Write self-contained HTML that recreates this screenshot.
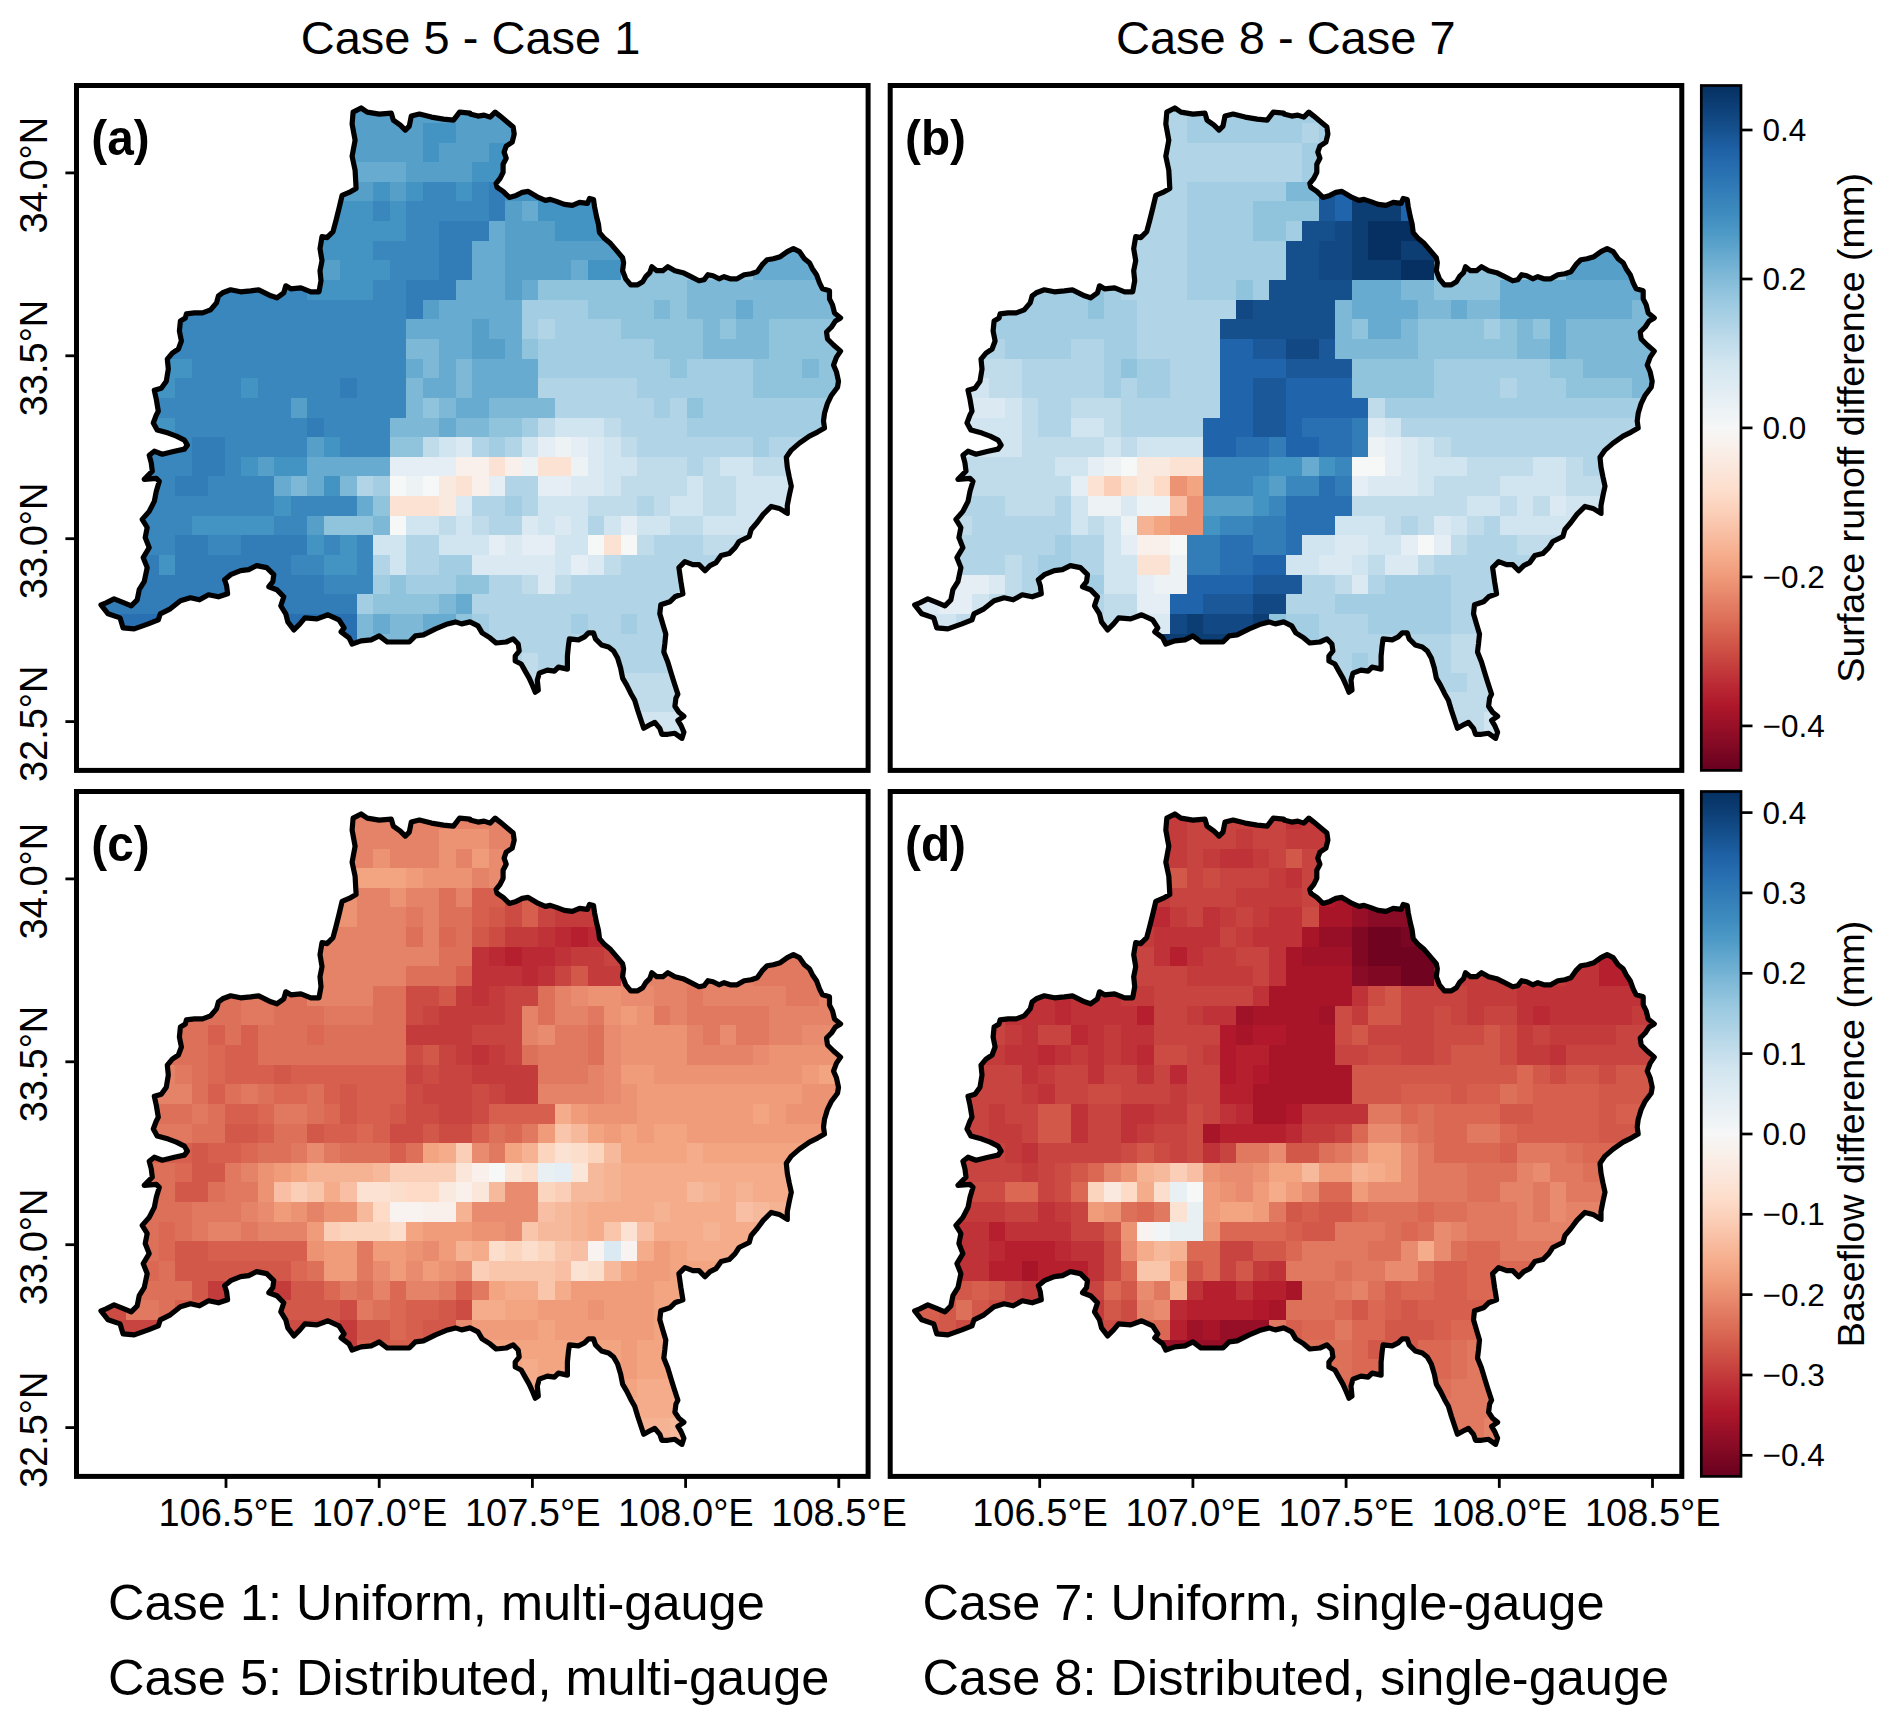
<!DOCTYPE html>
<html><head><meta charset="utf-8"><title>Figure</title>
<style>html,body{margin:0;padding:0;background:#fff}svg{display:block}text{font-family:"Liberation Sans",Arial,Helvetica,sans-serif;fill:#000}</style></head><body>
<svg width="1892" height="1725" viewBox="0 0 1892 1725">
<rect width="1892" height="1725" fill="#fff"/>
<defs><path id="basin" d="M353.1 112.1 L361.1 108.0 L367.2 112.1 L379.2 114.1 L391.3 113.1 L393.3 120.1 L400.3 125.1 L405.3 130.1 L409.3 126.1 L411.3 116.1 L419.4 114.1 L431.4 117.1 L443.5 119.1 L453.5 120.1 L459.6 112.1 L470.0 113.1 L470.0 114.1 L478.0 116.1 L484.1 115.1 L490.1 117.1 L495.1 112.1 L500.1 116.1 L507.2 122.1 L513.2 127.1 L514.2 134.1 L512.2 142.2 L506.2 146.2 L504.1 152.2 L506.2 158.2 L503.1 164.3 L503.1 172.3 L500.1 178.3 L496.1 183.4 L497.1 187.4 L503.1 191.4 L509.2 197.4 L516.2 195.4 L522.2 192.4 L528.2 191.4 L533.3 194.4 L538.3 197.4 L545.3 200.4 L550.3 199.4 L556.4 201.4 L564.4 204.4 L572.4 205.4 L579.5 202.4 L587.5 203.4 L589.5 198.4 L593.5 199.4 L594.5 206.4 L596.5 216.5 L598.5 224.5 L599.5 232.6 L604.6 238.6 L610.6 243.6 L616.6 250.6 L622.6 257.7 L623.6 262.7 L622.6 270.7 L625.7 278.8 L630.7 284.8 L637.7 284.8 L642.7 281.8 L645.7 276.7 L649.8 272.7 L651.8 266.7 L656.8 270.7 L662.8 270.7 L667.8 266.7 L674.9 270.7 L682.9 272.7 L690.9 276.7 L699.0 280.8 L704.0 279.8 L708.0 274.7 L713.0 275.7 L719.0 278.8 L724.1 276.7 L730.1 278.8 L737.1 278.8 L744.2 274.7 L751.2 273.7 L757.2 271.7 L762.2 264.7 L767.2 259.7 L773.3 258.7 L780.3 256.7 L787.3 251.6 L793.4 248.6 L799.4 251.6 L804.4 258.7 L809.4 262.7 L812.4 268.7 L816.5 274.7 L819.5 282.8 L822.5 288.8 L829.5 290.8 L829.5 298.8 L832.5 304.9 L834.5 312.9 L840.6 317.9 L835.5 320.9 L831.5 327.0 L826.5 332.0 L827.5 339.0 L833.5 345.0 L840.6 351.1 L836.5 357.1 L833.5 365.1 L836.5 372.1 L838.5 381.2 L837.5 387.2 L831.5 395.2 L827.5 403.3 L824.5 413.3 L823.5 421.0 L824.5 428.1 L817.5 432.1 L809.4 436.1 L799.4 443.1 L791.3 450.1 L786.3 457.2 L787.3 467.2 L789.3 477.3 L791.3 486.3 L789.3 495.3 L787.3 505.4 L787.3 513.4 L779.3 508.4 L771.3 506.4 L763.2 514.4 L757.2 522.5 L751.2 529.5 L749.2 536.5 L739.1 541.5 L735.1 547.6 L729.1 553.6 L721.1 555.6 L716.0 562.6 L710.0 565.6 L705.0 570.7 L699.0 564.6 L692.9 564.6 L684.9 561.6 L678.9 567.6 L680.9 581.7 L682.9 593.8 L674.9 596.8 L669.8 601.8 L660.8 604.8 L659.8 613.8 L662.8 623.9 L665.8 633.9 L664.8 644.0 L663.8 652.0 L667.8 662.0 L670.8 672.1 L673.9 682.1 L677.9 694.2 L675.9 698.2 L674.9 706.2 L678.9 712.2 L683.9 716.3 L677.9 720.3 L680.9 725.3 L683.9 732.3 L681.9 738.4 L674.9 733.3 L667.8 734.3 L661.8 734.3 L659.8 728.3 L654.8 722.3 L650.8 724.3 L643.7 728.3 L641.7 722.3 L637.7 710.2 L634.7 700.2 L630.7 693.2 L626.7 685.1 L622.6 678.1 L620.6 668.1 L617.6 658.0 L613.6 651.0 L608.6 647.0 L601.6 645.0 L595.5 638.9 L593.5 632.9 L588.5 632.9 L584.5 636.9 L578.5 639.9 L569.4 638.9 L568.4 646.0 L567.4 656.0 L567.4 669.1 L558.4 667.1 L554.4 671.1 L547.3 670.1 L539.3 673.1 L537.3 680.1 L538.3 690.2 L535.3 692.2 L532.3 685.1 L529.2 678.1 L525.2 671.1 L521.2 664.0 L515.2 661.0 L515.2 656.0 L519.2 651.0 L518.2 644.0 L513.2 638.9 L506.2 642.0 L496.1 643.0 L490.1 637.9 L482.1 632.9 L478.0 625.9 L470.0 621.9 L461.6 623.9 L455.5 621.9 L447.5 623.9 L435.5 628.9 L423.4 634.9 L415.4 635.9 L409.3 642.0 L399.3 642.0 L387.2 642.0 L379.2 635.9 L371.2 639.9 L361.1 640.9 L352.1 644.0 L349.1 637.9 L341.1 631.9 L344.1 627.9 L339.0 619.9 L328.0 614.8 L317.0 618.9 L304.9 617.9 L299.9 623.9 L293.9 629.9 L287.8 621.9 L285.8 613.8 L280.8 605.8 L283.8 596.8 L276.8 589.7 L268.8 586.7 L272.8 581.7 L273.8 574.7 L266.7 567.6 L256.7 565.6 L248.7 569.6 L240.6 570.7 L230.6 574.7 L224.6 579.7 L226.6 585.7 L227.6 593.8 L218.5 596.8 L208.5 594.8 L199.5 599.8 L190.4 597.8 L180.4 600.8 L170.3 608.8 L160.3 613.8 L158.3 619.9 L148.2 623.9 L134.2 628.9 L123.1 627.9 L120.1 617.9 L108.1 613.8 L101.0 604.8 L106.1 602.8 L114.1 598.8 L124.1 602.8 L131.2 605.8 L137.2 599.8 L139.2 589.7 L144.2 581.7 L147.2 567.6 L143.2 557.6 L149.2 547.6 L145.2 537.5 L147.2 527.5 L142.2 519.4 L149.2 511.4 L154.3 501.4 L156.3 491.3 L159.3 481.3 L156.3 478.3 L144.2 479.3 L152.3 471.2 L151.3 463.2 L149.2 455.2 L154.3 451.2 L162.3 454.2 L174.4 451.2 L184.4 449.1 L187.4 445.1 L184.4 440.1 L176.4 436.1 L168.3 433.1 L157.3 430.1 L153.3 423.0 L156.3 415.0 L158.3 411.3 L156.3 399.3 L154.3 390.2 L161.3 388.2 L166.3 381.2 L168.3 369.1 L167.3 359.1 L172.3 353.1 L178.4 349.0 L181.4 341.0 L179.4 331.0 L180.4 320.9 L185.4 317.9 L186.4 313.9 L194.4 312.9 L202.5 312.9 L210.5 309.9 L216.5 302.9 L218.5 295.8 L222.6 292.8 L230.6 289.8 L240.6 291.8 L250.7 290.8 L258.7 289.8 L270.8 295.8 L276.8 297.8 L283.8 292.8 L285.8 285.8 L290.8 288.8 L300.9 287.8 L310.9 291.8 L319.0 291.8 L321.0 280.8 L320.0 270.7 L322.0 260.7 L320.0 248.6 L322.0 236.6 L327.0 237.6 L333.0 231.6 L336.0 220.5 L339.0 208.5 L342.1 195.4 L349.1 192.4 L356.1 188.4 L355.1 170.3 L352.1 156.2 L355.1 140.2 L352.1 124.1 Z"/><clipPath id="clip"><use href="#basin"/></clipPath><linearGradient id="cb" x1="0" y1="0" x2="0" y2="1"><stop offset="0.0000" stop-color="#053061"/><stop offset="0.0312" stop-color="#0d3f76"/><stop offset="0.0625" stop-color="#15508d"/><stop offset="0.0938" stop-color="#1e61a5"/><stop offset="0.1250" stop-color="#2870b1"/><stop offset="0.1562" stop-color="#337eb8"/><stop offset="0.1875" stop-color="#3e8cbf"/><stop offset="0.2188" stop-color="#4f9bc7"/><stop offset="0.2500" stop-color="#68abd0"/><stop offset="0.2812" stop-color="#81bad8"/><stop offset="0.3125" stop-color="#98c8e0"/><stop offset="0.3438" stop-color="#acd2e5"/><stop offset="0.3750" stop-color="#c0dceb"/><stop offset="0.4062" stop-color="#d2e6f0"/><stop offset="0.4375" stop-color="#deebf2"/><stop offset="0.4688" stop-color="#eaf1f5"/><stop offset="0.5000" stop-color="#f6f7f7"/><stop offset="0.5312" stop-color="#f9efe9"/><stop offset="0.5625" stop-color="#fbe6da"/><stop offset="0.5938" stop-color="#fdddcb"/><stop offset="0.6250" stop-color="#fbceb7"/><stop offset="0.6562" stop-color="#f8bda1"/><stop offset="0.6875" stop-color="#f5ac8b"/><stop offset="0.7188" stop-color="#ef9979"/><stop offset="0.7500" stop-color="#e58368"/><stop offset="0.7812" stop-color="#dc6e57"/><stop offset="0.8125" stop-color="#d25849"/><stop offset="0.8438" stop-color="#c6413e"/><stop offset="0.8750" stop-color="#bb2a34"/><stop offset="0.9062" stop-color="#ae172a"/><stop offset="0.9375" stop-color="#960f27"/><stop offset="0.9688" stop-color="#7f0823"/><stop offset="1.0000" stop-color="#67001f"/></linearGradient></defs>
<g transform="translate(0.0 0.0)">
<g clip-path="url(#clip)" shape-rendering="crispEdges">
<rect x="92.5" y="103.2" width="495.6" height="20.2" fill="#569fc9"/>
<rect x="587.5" y="103.2" width="83.1" height="20.2" fill="#4393c3"/>
<rect x="670.0" y="103.2" width="83.1" height="20.2" fill="#90c4dd"/>
<rect x="752.5" y="103.2" width="99.6" height="20.2" fill="#68abd0"/>
<rect x="92.5" y="122.9" width="99.6" height="20.2" fill="#3a87bd"/>
<rect x="191.5" y="122.9" width="231.6" height="20.2" fill="#569fc9"/>
<rect x="422.5" y="122.9" width="33.6" height="20.2" fill="#4393c3"/>
<rect x="455.5" y="122.9" width="116.1" height="20.2" fill="#569fc9"/>
<rect x="571.0" y="122.9" width="99.6" height="20.2" fill="#4393c3"/>
<rect x="670.0" y="122.9" width="83.1" height="20.2" fill="#90c4dd"/>
<rect x="752.5" y="122.9" width="99.6" height="20.2" fill="#68abd0"/>
<rect x="92.5" y="142.5" width="132.6" height="20.2" fill="#3a87bd"/>
<rect x="224.5" y="142.5" width="198.6" height="20.2" fill="#569fc9"/>
<rect x="422.5" y="142.5" width="17.1" height="20.2" fill="#4393c3"/>
<rect x="439.0" y="142.5" width="50.1" height="20.2" fill="#569fc9"/>
<rect x="488.5" y="142.5" width="182.1" height="20.2" fill="#4393c3"/>
<rect x="670.0" y="142.5" width="83.1" height="20.2" fill="#90c4dd"/>
<rect x="752.5" y="142.5" width="99.6" height="20.2" fill="#68abd0"/>
<rect x="92.5" y="162.1" width="149.1" height="20.2" fill="#3a87bd"/>
<rect x="241.0" y="162.1" width="165.6" height="20.2" fill="#68abd0"/>
<rect x="406.0" y="162.1" width="66.6" height="20.2" fill="#569fc9"/>
<rect x="472.0" y="162.1" width="198.6" height="20.2" fill="#4393c3"/>
<rect x="670.0" y="162.1" width="83.1" height="20.2" fill="#90c4dd"/>
<rect x="752.5" y="162.1" width="99.6" height="20.2" fill="#68abd0"/>
<rect x="92.5" y="181.8" width="149.1" height="20.2" fill="#3a87bd"/>
<rect x="241.0" y="181.8" width="132.6" height="20.2" fill="#569fc9"/>
<rect x="373.0" y="181.8" width="17.1" height="20.2" fill="#4393c3"/>
<rect x="389.5" y="181.8" width="17.1" height="20.2" fill="#569fc9"/>
<rect x="406.0" y="181.8" width="17.1" height="20.2" fill="#4393c3"/>
<rect x="422.5" y="181.8" width="33.6" height="20.2" fill="#3a87bd"/>
<rect x="455.5" y="181.8" width="17.1" height="20.2" fill="#4393c3"/>
<rect x="472.0" y="181.8" width="17.1" height="20.2" fill="#3a87bd"/>
<rect x="488.5" y="181.8" width="17.1" height="20.2" fill="#327cb7"/>
<rect x="505.0" y="181.8" width="165.6" height="20.2" fill="#4393c3"/>
<rect x="670.0" y="181.8" width="83.1" height="20.2" fill="#90c4dd"/>
<rect x="752.5" y="181.8" width="99.6" height="20.2" fill="#68abd0"/>
<rect x="92.5" y="201.4" width="165.6" height="20.2" fill="#3a87bd"/>
<rect x="257.5" y="201.4" width="116.1" height="20.2" fill="#4393c3"/>
<rect x="373.0" y="201.4" width="17.1" height="20.2" fill="#3a87bd"/>
<rect x="389.5" y="201.4" width="17.1" height="20.2" fill="#4393c3"/>
<rect x="406.0" y="201.4" width="83.1" height="20.2" fill="#3a87bd"/>
<rect x="488.5" y="201.4" width="17.1" height="20.2" fill="#327cb7"/>
<rect x="505.0" y="201.4" width="17.1" height="20.2" fill="#569fc9"/>
<rect x="521.5" y="201.4" width="17.1" height="20.2" fill="#68abd0"/>
<rect x="538.0" y="201.4" width="116.1" height="20.2" fill="#4393c3"/>
<rect x="653.5" y="201.4" width="99.6" height="20.2" fill="#90c4dd"/>
<rect x="752.5" y="201.4" width="99.6" height="20.2" fill="#68abd0"/>
<rect x="92.5" y="221.1" width="165.6" height="20.2" fill="#3a87bd"/>
<rect x="257.5" y="221.1" width="149.1" height="20.2" fill="#4393c3"/>
<rect x="406.0" y="221.1" width="33.6" height="20.2" fill="#3a87bd"/>
<rect x="439.0" y="221.1" width="50.1" height="20.2" fill="#327cb7"/>
<rect x="488.5" y="221.1" width="17.1" height="20.2" fill="#68abd0"/>
<rect x="505.0" y="221.1" width="50.1" height="20.2" fill="#569fc9"/>
<rect x="554.5" y="221.1" width="99.6" height="20.2" fill="#4393c3"/>
<rect x="653.5" y="221.1" width="99.6" height="20.2" fill="#90c4dd"/>
<rect x="752.5" y="221.1" width="99.6" height="20.2" fill="#68abd0"/>
<rect x="92.5" y="240.7" width="182.1" height="20.2" fill="#3a87bd"/>
<rect x="274.0" y="240.7" width="99.6" height="20.2" fill="#4393c3"/>
<rect x="373.0" y="240.7" width="66.6" height="20.2" fill="#3a87bd"/>
<rect x="439.0" y="240.7" width="33.6" height="20.2" fill="#327cb7"/>
<rect x="472.0" y="240.7" width="33.6" height="20.2" fill="#68abd0"/>
<rect x="505.0" y="240.7" width="149.1" height="20.2" fill="#569fc9"/>
<rect x="653.5" y="240.7" width="99.6" height="20.2" fill="#90c4dd"/>
<rect x="752.5" y="240.7" width="99.6" height="20.2" fill="#68abd0"/>
<rect x="92.5" y="260.3" width="198.6" height="20.2" fill="#3a87bd"/>
<rect x="290.5" y="260.3" width="50.1" height="20.2" fill="#569fc9"/>
<rect x="340.0" y="260.3" width="50.1" height="20.2" fill="#4393c3"/>
<rect x="389.5" y="260.3" width="50.1" height="20.2" fill="#3a87bd"/>
<rect x="439.0" y="260.3" width="33.6" height="20.2" fill="#327cb7"/>
<rect x="472.0" y="260.3" width="33.6" height="20.2" fill="#68abd0"/>
<rect x="505.0" y="260.3" width="66.6" height="20.2" fill="#569fc9"/>
<rect x="571.0" y="260.3" width="17.1" height="20.2" fill="#68abd0"/>
<rect x="587.5" y="260.3" width="33.6" height="20.2" fill="#4393c3"/>
<rect x="620.5" y="260.3" width="132.6" height="20.2" fill="#90c4dd"/>
<rect x="752.5" y="260.3" width="99.6" height="20.2" fill="#68abd0"/>
<rect x="92.5" y="280.0" width="215.1" height="20.2" fill="#3a87bd"/>
<rect x="307.0" y="280.0" width="66.6" height="20.2" fill="#4393c3"/>
<rect x="373.0" y="280.0" width="33.6" height="20.2" fill="#3a87bd"/>
<rect x="406.0" y="280.0" width="50.1" height="20.2" fill="#327cb7"/>
<rect x="455.5" y="280.0" width="50.1" height="20.2" fill="#68abd0"/>
<rect x="505.0" y="280.0" width="17.1" height="20.2" fill="#569fc9"/>
<rect x="521.5" y="280.0" width="17.1" height="20.2" fill="#68abd0"/>
<rect x="538.0" y="280.0" width="149.1" height="20.2" fill="#90c4dd"/>
<rect x="686.5" y="280.0" width="165.6" height="20.2" fill="#7eb8d7"/>
<rect x="92.5" y="299.6" width="314.1" height="20.2" fill="#3a87bd"/>
<rect x="406.0" y="299.6" width="17.1" height="20.2" fill="#327cb7"/>
<rect x="422.5" y="299.6" width="17.1" height="20.2" fill="#569fc9"/>
<rect x="439.0" y="299.6" width="83.1" height="20.2" fill="#68abd0"/>
<rect x="521.5" y="299.6" width="66.6" height="20.2" fill="#a2cde3"/>
<rect x="587.5" y="299.6" width="66.6" height="20.2" fill="#90c4dd"/>
<rect x="653.5" y="299.6" width="17.1" height="20.2" fill="#7eb8d7"/>
<rect x="670.0" y="299.6" width="17.1" height="20.2" fill="#90c4dd"/>
<rect x="686.5" y="299.6" width="50.1" height="20.2" fill="#7eb8d7"/>
<rect x="736.0" y="299.6" width="17.1" height="20.2" fill="#68abd0"/>
<rect x="752.5" y="299.6" width="83.1" height="20.2" fill="#7eb8d7"/>
<rect x="835.0" y="299.6" width="17.1" height="20.2" fill="#90c4dd"/>
<rect x="92.5" y="319.3" width="314.1" height="20.2" fill="#3a87bd"/>
<rect x="406.0" y="319.3" width="66.6" height="20.2" fill="#68abd0"/>
<rect x="472.0" y="319.3" width="17.1" height="20.2" fill="#569fc9"/>
<rect x="488.5" y="319.3" width="33.6" height="20.2" fill="#68abd0"/>
<rect x="521.5" y="319.3" width="17.1" height="20.2" fill="#a2cde3"/>
<rect x="538.0" y="319.3" width="17.1" height="20.2" fill="#b1d5e7"/>
<rect x="554.5" y="319.3" width="66.6" height="20.2" fill="#a2cde3"/>
<rect x="620.5" y="319.3" width="83.1" height="20.2" fill="#90c4dd"/>
<rect x="703.0" y="319.3" width="17.1" height="20.2" fill="#7eb8d7"/>
<rect x="719.5" y="319.3" width="17.1" height="20.2" fill="#90c4dd"/>
<rect x="736.0" y="319.3" width="33.6" height="20.2" fill="#7eb8d7"/>
<rect x="769.0" y="319.3" width="83.1" height="20.2" fill="#90c4dd"/>
<rect x="92.5" y="338.9" width="314.1" height="20.2" fill="#3a87bd"/>
<rect x="406.0" y="338.9" width="33.6" height="20.2" fill="#7eb8d7"/>
<rect x="439.0" y="338.9" width="33.6" height="20.2" fill="#68abd0"/>
<rect x="472.0" y="338.9" width="33.6" height="20.2" fill="#569fc9"/>
<rect x="505.0" y="338.9" width="17.1" height="20.2" fill="#68abd0"/>
<rect x="521.5" y="338.9" width="17.1" height="20.2" fill="#90c4dd"/>
<rect x="538.0" y="338.9" width="116.1" height="20.2" fill="#a2cde3"/>
<rect x="653.5" y="338.9" width="50.1" height="20.2" fill="#90c4dd"/>
<rect x="703.0" y="338.9" width="66.6" height="20.2" fill="#7eb8d7"/>
<rect x="769.0" y="338.9" width="83.1" height="20.2" fill="#90c4dd"/>
<rect x="92.5" y="358.5" width="99.6" height="20.2" fill="#4393c3"/>
<rect x="191.5" y="358.5" width="215.1" height="20.2" fill="#3a87bd"/>
<rect x="406.0" y="358.5" width="17.1" height="20.2" fill="#68abd0"/>
<rect x="422.5" y="358.5" width="17.1" height="20.2" fill="#7eb8d7"/>
<rect x="439.0" y="358.5" width="17.1" height="20.2" fill="#68abd0"/>
<rect x="455.5" y="358.5" width="17.1" height="20.2" fill="#7eb8d7"/>
<rect x="472.0" y="358.5" width="66.6" height="20.2" fill="#68abd0"/>
<rect x="538.0" y="358.5" width="132.6" height="20.2" fill="#a2cde3"/>
<rect x="670.0" y="358.5" width="17.1" height="20.2" fill="#90c4dd"/>
<rect x="686.5" y="358.5" width="66.6" height="20.2" fill="#a2cde3"/>
<rect x="752.5" y="358.5" width="50.1" height="20.2" fill="#90c4dd"/>
<rect x="802.0" y="358.5" width="17.1" height="20.2" fill="#7eb8d7"/>
<rect x="818.5" y="358.5" width="33.6" height="20.2" fill="#90c4dd"/>
<rect x="92.5" y="378.2" width="83.1" height="20.2" fill="#4393c3"/>
<rect x="175.0" y="378.2" width="66.6" height="20.2" fill="#3a87bd"/>
<rect x="241.0" y="378.2" width="17.1" height="20.2" fill="#4393c3"/>
<rect x="257.5" y="378.2" width="83.1" height="20.2" fill="#3a87bd"/>
<rect x="340.0" y="378.2" width="17.1" height="20.2" fill="#327cb7"/>
<rect x="356.5" y="378.2" width="50.1" height="20.2" fill="#3a87bd"/>
<rect x="406.0" y="378.2" width="17.1" height="20.2" fill="#7eb8d7"/>
<rect x="422.5" y="378.2" width="33.6" height="20.2" fill="#68abd0"/>
<rect x="455.5" y="378.2" width="17.1" height="20.2" fill="#7eb8d7"/>
<rect x="472.0" y="378.2" width="66.6" height="20.2" fill="#68abd0"/>
<rect x="538.0" y="378.2" width="99.6" height="20.2" fill="#b1d5e7"/>
<rect x="637.0" y="378.2" width="116.1" height="20.2" fill="#a2cde3"/>
<rect x="752.5" y="378.2" width="99.6" height="20.2" fill="#90c4dd"/>
<rect x="92.5" y="397.8" width="66.6" height="20.2" fill="#4393c3"/>
<rect x="158.5" y="397.8" width="132.6" height="20.2" fill="#3a87bd"/>
<rect x="290.5" y="397.8" width="17.1" height="20.2" fill="#569fc9"/>
<rect x="307.0" y="397.8" width="99.6" height="20.2" fill="#3a87bd"/>
<rect x="406.0" y="397.8" width="17.1" height="20.2" fill="#7eb8d7"/>
<rect x="422.5" y="397.8" width="17.1" height="20.2" fill="#90c4dd"/>
<rect x="439.0" y="397.8" width="17.1" height="20.2" fill="#7eb8d7"/>
<rect x="455.5" y="397.8" width="33.6" height="20.2" fill="#68abd0"/>
<rect x="488.5" y="397.8" width="66.6" height="20.2" fill="#7eb8d7"/>
<rect x="554.5" y="397.8" width="99.6" height="20.2" fill="#b1d5e7"/>
<rect x="653.5" y="397.8" width="17.1" height="20.2" fill="#a2cde3"/>
<rect x="670.0" y="397.8" width="17.1" height="20.2" fill="#b1d5e7"/>
<rect x="686.5" y="397.8" width="17.1" height="20.2" fill="#90c4dd"/>
<rect x="703.0" y="397.8" width="149.1" height="20.2" fill="#a2cde3"/>
<rect x="92.5" y="417.5" width="83.1" height="20.2" fill="#4393c3"/>
<rect x="175.0" y="417.5" width="132.6" height="20.2" fill="#3a87bd"/>
<rect x="307.0" y="417.5" width="17.1" height="20.2" fill="#327cb7"/>
<rect x="323.5" y="417.5" width="66.6" height="20.2" fill="#3a87bd"/>
<rect x="389.5" y="417.5" width="50.1" height="20.2" fill="#7eb8d7"/>
<rect x="439.0" y="417.5" width="17.1" height="20.2" fill="#68abd0"/>
<rect x="455.5" y="417.5" width="33.6" height="20.2" fill="#7eb8d7"/>
<rect x="488.5" y="417.5" width="33.6" height="20.2" fill="#90c4dd"/>
<rect x="521.5" y="417.5" width="17.1" height="20.2" fill="#a2cde3"/>
<rect x="538.0" y="417.5" width="17.1" height="20.2" fill="#c0dceb"/>
<rect x="554.5" y="417.5" width="50.1" height="20.2" fill="#d1e5f0"/>
<rect x="604.0" y="417.5" width="17.1" height="20.2" fill="#c0dceb"/>
<rect x="620.5" y="417.5" width="66.6" height="20.2" fill="#b1d5e7"/>
<rect x="686.5" y="417.5" width="165.6" height="20.2" fill="#a2cde3"/>
<rect x="92.5" y="437.1" width="99.6" height="20.2" fill="#3a87bd"/>
<rect x="191.5" y="437.1" width="33.6" height="20.2" fill="#327cb7"/>
<rect x="224.5" y="437.1" width="83.1" height="20.2" fill="#3a87bd"/>
<rect x="307.0" y="437.1" width="17.1" height="20.2" fill="#569fc9"/>
<rect x="323.5" y="437.1" width="17.1" height="20.2" fill="#4393c3"/>
<rect x="340.0" y="437.1" width="50.1" height="20.2" fill="#3a87bd"/>
<rect x="389.5" y="437.1" width="33.6" height="20.2" fill="#90c4dd"/>
<rect x="422.5" y="437.1" width="17.1" height="20.2" fill="#c0dceb"/>
<rect x="439.0" y="437.1" width="17.1" height="20.2" fill="#d1e5f0"/>
<rect x="455.5" y="437.1" width="17.1" height="20.2" fill="#dae9f2"/>
<rect x="472.0" y="437.1" width="17.1" height="20.2" fill="#b1d5e7"/>
<rect x="488.5" y="437.1" width="17.1" height="20.2" fill="#a2cde3"/>
<rect x="505.0" y="437.1" width="17.1" height="20.2" fill="#b1d5e7"/>
<rect x="521.5" y="437.1" width="17.1" height="20.2" fill="#d1e5f0"/>
<rect x="538.0" y="437.1" width="17.1" height="20.2" fill="#e4eef4"/>
<rect x="554.5" y="437.1" width="17.1" height="20.2" fill="#edf2f5"/>
<rect x="571.0" y="437.1" width="17.1" height="20.2" fill="#e4eef4"/>
<rect x="587.5" y="437.1" width="17.1" height="20.2" fill="#dae9f2"/>
<rect x="604.0" y="437.1" width="17.1" height="20.2" fill="#d1e5f0"/>
<rect x="620.5" y="437.1" width="17.1" height="20.2" fill="#c0dceb"/>
<rect x="637.0" y="437.1" width="116.1" height="20.2" fill="#b1d5e7"/>
<rect x="752.5" y="437.1" width="17.1" height="20.2" fill="#a2cde3"/>
<rect x="769.0" y="437.1" width="83.1" height="20.2" fill="#b1d5e7"/>
<rect x="92.5" y="456.7" width="99.6" height="20.2" fill="#3a87bd"/>
<rect x="191.5" y="456.7" width="33.6" height="20.2" fill="#327cb7"/>
<rect x="224.5" y="456.7" width="17.1" height="20.2" fill="#3a87bd"/>
<rect x="241.0" y="456.7" width="17.1" height="20.2" fill="#4393c3"/>
<rect x="257.5" y="456.7" width="17.1" height="20.2" fill="#569fc9"/>
<rect x="274.0" y="456.7" width="33.6" height="20.2" fill="#4393c3"/>
<rect x="307.0" y="456.7" width="83.1" height="20.2" fill="#68abd0"/>
<rect x="389.5" y="456.7" width="66.6" height="20.2" fill="#e4eef4"/>
<rect x="455.5" y="456.7" width="33.6" height="20.2" fill="#f9f0eb"/>
<rect x="488.5" y="456.7" width="17.1" height="20.2" fill="#fce2d2"/>
<rect x="505.0" y="456.7" width="17.1" height="20.2" fill="#f9f0eb"/>
<rect x="521.5" y="456.7" width="17.1" height="20.2" fill="#edf2f5"/>
<rect x="538.0" y="456.7" width="33.6" height="20.2" fill="#fce2d2"/>
<rect x="571.0" y="456.7" width="17.1" height="20.2" fill="#edf2f5"/>
<rect x="587.5" y="456.7" width="17.1" height="20.2" fill="#dae9f2"/>
<rect x="604.0" y="456.7" width="33.6" height="20.2" fill="#d1e5f0"/>
<rect x="637.0" y="456.7" width="50.1" height="20.2" fill="#c0dceb"/>
<rect x="686.5" y="456.7" width="17.1" height="20.2" fill="#b1d5e7"/>
<rect x="703.0" y="456.7" width="17.1" height="20.2" fill="#c0dceb"/>
<rect x="719.5" y="456.7" width="33.6" height="20.2" fill="#d1e5f0"/>
<rect x="752.5" y="456.7" width="99.6" height="20.2" fill="#c0dceb"/>
<rect x="92.5" y="476.4" width="83.1" height="20.2" fill="#3a87bd"/>
<rect x="175.0" y="476.4" width="33.6" height="20.2" fill="#327cb7"/>
<rect x="208.0" y="476.4" width="66.6" height="20.2" fill="#3a87bd"/>
<rect x="274.0" y="476.4" width="17.1" height="20.2" fill="#68abd0"/>
<rect x="290.5" y="476.4" width="17.1" height="20.2" fill="#7eb8d7"/>
<rect x="307.0" y="476.4" width="17.1" height="20.2" fill="#68abd0"/>
<rect x="323.5" y="476.4" width="17.1" height="20.2" fill="#4393c3"/>
<rect x="340.0" y="476.4" width="17.1" height="20.2" fill="#7eb8d7"/>
<rect x="356.5" y="476.4" width="17.1" height="20.2" fill="#b1d5e7"/>
<rect x="373.0" y="476.4" width="17.1" height="20.2" fill="#a2cde3"/>
<rect x="389.5" y="476.4" width="17.1" height="20.2" fill="#f6f7f7"/>
<rect x="406.0" y="476.4" width="17.1" height="20.2" fill="#edf2f5"/>
<rect x="422.5" y="476.4" width="17.1" height="20.2" fill="#f6f7f7"/>
<rect x="439.0" y="476.4" width="17.1" height="20.2" fill="#fae9df"/>
<rect x="455.5" y="476.4" width="17.1" height="20.2" fill="#fce2d2"/>
<rect x="472.0" y="476.4" width="17.1" height="20.2" fill="#f9f0eb"/>
<rect x="488.5" y="476.4" width="17.1" height="20.2" fill="#e4eef4"/>
<rect x="505.0" y="476.4" width="33.6" height="20.2" fill="#b1d5e7"/>
<rect x="538.0" y="476.4" width="33.6" height="20.2" fill="#e4eef4"/>
<rect x="571.0" y="476.4" width="33.6" height="20.2" fill="#dae9f2"/>
<rect x="604.0" y="476.4" width="17.1" height="20.2" fill="#d1e5f0"/>
<rect x="620.5" y="476.4" width="66.6" height="20.2" fill="#c0dceb"/>
<rect x="686.5" y="476.4" width="17.1" height="20.2" fill="#d1e5f0"/>
<rect x="703.0" y="476.4" width="33.6" height="20.2" fill="#c0dceb"/>
<rect x="736.0" y="476.4" width="116.1" height="20.2" fill="#d1e5f0"/>
<rect x="92.5" y="496.0" width="182.1" height="20.2" fill="#3a87bd"/>
<rect x="274.0" y="496.0" width="17.1" height="20.2" fill="#4393c3"/>
<rect x="290.5" y="496.0" width="66.6" height="20.2" fill="#3a87bd"/>
<rect x="356.5" y="496.0" width="17.1" height="20.2" fill="#68abd0"/>
<rect x="373.0" y="496.0" width="17.1" height="20.2" fill="#90c4dd"/>
<rect x="389.5" y="496.0" width="50.1" height="20.2" fill="#fce2d2"/>
<rect x="439.0" y="496.0" width="17.1" height="20.2" fill="#fae9df"/>
<rect x="455.5" y="496.0" width="17.1" height="20.2" fill="#dae9f2"/>
<rect x="472.0" y="496.0" width="33.6" height="20.2" fill="#b1d5e7"/>
<rect x="505.0" y="496.0" width="17.1" height="20.2" fill="#a2cde3"/>
<rect x="521.5" y="496.0" width="17.1" height="20.2" fill="#b1d5e7"/>
<rect x="538.0" y="496.0" width="50.1" height="20.2" fill="#d1e5f0"/>
<rect x="587.5" y="496.0" width="50.1" height="20.2" fill="#c0dceb"/>
<rect x="637.0" y="496.0" width="17.1" height="20.2" fill="#b1d5e7"/>
<rect x="653.5" y="496.0" width="17.1" height="20.2" fill="#c0dceb"/>
<rect x="670.0" y="496.0" width="33.6" height="20.2" fill="#d1e5f0"/>
<rect x="703.0" y="496.0" width="33.6" height="20.2" fill="#c0dceb"/>
<rect x="736.0" y="496.0" width="116.1" height="20.2" fill="#d1e5f0"/>
<rect x="92.5" y="515.7" width="99.6" height="20.2" fill="#3a87bd"/>
<rect x="191.5" y="515.7" width="83.1" height="20.2" fill="#4393c3"/>
<rect x="274.0" y="515.7" width="33.6" height="20.2" fill="#3a87bd"/>
<rect x="307.0" y="515.7" width="17.1" height="20.2" fill="#569fc9"/>
<rect x="323.5" y="515.7" width="50.1" height="20.2" fill="#90c4dd"/>
<rect x="373.0" y="515.7" width="17.1" height="20.2" fill="#7eb8d7"/>
<rect x="389.5" y="515.7" width="17.1" height="20.2" fill="#f6f7f7"/>
<rect x="406.0" y="515.7" width="33.6" height="20.2" fill="#d1e5f0"/>
<rect x="439.0" y="515.7" width="17.1" height="20.2" fill="#c0dceb"/>
<rect x="455.5" y="515.7" width="17.1" height="20.2" fill="#d1e5f0"/>
<rect x="472.0" y="515.7" width="17.1" height="20.2" fill="#c0dceb"/>
<rect x="488.5" y="515.7" width="33.6" height="20.2" fill="#b1d5e7"/>
<rect x="521.5" y="515.7" width="17.1" height="20.2" fill="#dae9f2"/>
<rect x="538.0" y="515.7" width="17.1" height="20.2" fill="#d1e5f0"/>
<rect x="554.5" y="515.7" width="17.1" height="20.2" fill="#dae9f2"/>
<rect x="571.0" y="515.7" width="17.1" height="20.2" fill="#d1e5f0"/>
<rect x="587.5" y="515.7" width="17.1" height="20.2" fill="#b1d5e7"/>
<rect x="604.0" y="515.7" width="17.1" height="20.2" fill="#d1e5f0"/>
<rect x="620.5" y="515.7" width="17.1" height="20.2" fill="#e4eef4"/>
<rect x="637.0" y="515.7" width="33.6" height="20.2" fill="#d1e5f0"/>
<rect x="670.0" y="515.7" width="33.6" height="20.2" fill="#c0dceb"/>
<rect x="703.0" y="515.7" width="149.1" height="20.2" fill="#d1e5f0"/>
<rect x="92.5" y="535.3" width="83.1" height="20.2" fill="#3a87bd"/>
<rect x="175.0" y="535.3" width="33.6" height="20.2" fill="#327cb7"/>
<rect x="208.0" y="535.3" width="33.6" height="20.2" fill="#3a87bd"/>
<rect x="241.0" y="535.3" width="66.6" height="20.2" fill="#327cb7"/>
<rect x="307.0" y="535.3" width="17.1" height="20.2" fill="#4393c3"/>
<rect x="323.5" y="535.3" width="17.1" height="20.2" fill="#3a87bd"/>
<rect x="340.0" y="535.3" width="17.1" height="20.2" fill="#4393c3"/>
<rect x="356.5" y="535.3" width="17.1" height="20.2" fill="#3a87bd"/>
<rect x="373.0" y="535.3" width="33.6" height="20.2" fill="#d1e5f0"/>
<rect x="406.0" y="535.3" width="33.6" height="20.2" fill="#b1d5e7"/>
<rect x="439.0" y="535.3" width="50.1" height="20.2" fill="#d1e5f0"/>
<rect x="488.5" y="535.3" width="17.1" height="20.2" fill="#e4eef4"/>
<rect x="505.0" y="535.3" width="17.1" height="20.2" fill="#dae9f2"/>
<rect x="521.5" y="535.3" width="33.6" height="20.2" fill="#e4eef4"/>
<rect x="554.5" y="535.3" width="33.6" height="20.2" fill="#d1e5f0"/>
<rect x="587.5" y="535.3" width="17.1" height="20.2" fill="#f6f7f7"/>
<rect x="604.0" y="535.3" width="17.1" height="20.2" fill="#fce2d2"/>
<rect x="620.5" y="535.3" width="17.1" height="20.2" fill="#f6f7f7"/>
<rect x="637.0" y="535.3" width="17.1" height="20.2" fill="#c0dceb"/>
<rect x="653.5" y="535.3" width="50.1" height="20.2" fill="#b1d5e7"/>
<rect x="703.0" y="535.3" width="149.1" height="20.2" fill="#c0dceb"/>
<rect x="92.5" y="554.9" width="66.6" height="20.2" fill="#327cb7"/>
<rect x="158.5" y="554.9" width="17.1" height="20.2" fill="#4393c3"/>
<rect x="175.0" y="554.9" width="116.1" height="20.2" fill="#327cb7"/>
<rect x="290.5" y="554.9" width="33.6" height="20.2" fill="#3a87bd"/>
<rect x="323.5" y="554.9" width="33.6" height="20.2" fill="#4393c3"/>
<rect x="356.5" y="554.9" width="17.1" height="20.2" fill="#3a87bd"/>
<rect x="373.0" y="554.9" width="17.1" height="20.2" fill="#b1d5e7"/>
<rect x="389.5" y="554.9" width="17.1" height="20.2" fill="#d1e5f0"/>
<rect x="406.0" y="554.9" width="33.6" height="20.2" fill="#b1d5e7"/>
<rect x="439.0" y="554.9" width="33.6" height="20.2" fill="#a2cde3"/>
<rect x="472.0" y="554.9" width="83.1" height="20.2" fill="#dae9f2"/>
<rect x="554.5" y="554.9" width="17.1" height="20.2" fill="#d1e5f0"/>
<rect x="571.0" y="554.9" width="17.1" height="20.2" fill="#e4eef4"/>
<rect x="587.5" y="554.9" width="17.1" height="20.2" fill="#dae9f2"/>
<rect x="604.0" y="554.9" width="17.1" height="20.2" fill="#c0dceb"/>
<rect x="620.5" y="554.9" width="132.6" height="20.2" fill="#b1d5e7"/>
<rect x="752.5" y="554.9" width="99.6" height="20.2" fill="#c0dceb"/>
<rect x="92.5" y="574.6" width="231.6" height="20.2" fill="#327cb7"/>
<rect x="323.5" y="574.6" width="50.1" height="20.2" fill="#3a87bd"/>
<rect x="373.0" y="574.6" width="17.1" height="20.2" fill="#a2cde3"/>
<rect x="389.5" y="574.6" width="17.1" height="20.2" fill="#90c4dd"/>
<rect x="406.0" y="574.6" width="50.1" height="20.2" fill="#a2cde3"/>
<rect x="455.5" y="574.6" width="33.6" height="20.2" fill="#90c4dd"/>
<rect x="488.5" y="574.6" width="33.6" height="20.2" fill="#b1d5e7"/>
<rect x="521.5" y="574.6" width="17.1" height="20.2" fill="#c0dceb"/>
<rect x="538.0" y="574.6" width="17.1" height="20.2" fill="#dae9f2"/>
<rect x="554.5" y="574.6" width="17.1" height="20.2" fill="#c0dceb"/>
<rect x="571.0" y="574.6" width="182.1" height="20.2" fill="#b1d5e7"/>
<rect x="752.5" y="574.6" width="99.6" height="20.2" fill="#c0dceb"/>
<rect x="92.5" y="594.2" width="264.6" height="20.2" fill="#327cb7"/>
<rect x="356.5" y="594.2" width="17.1" height="20.2" fill="#a2cde3"/>
<rect x="373.0" y="594.2" width="66.6" height="20.2" fill="#90c4dd"/>
<rect x="439.0" y="594.2" width="17.1" height="20.2" fill="#7eb8d7"/>
<rect x="455.5" y="594.2" width="17.1" height="20.2" fill="#68abd0"/>
<rect x="472.0" y="594.2" width="281.1" height="20.2" fill="#b1d5e7"/>
<rect x="752.5" y="594.2" width="99.6" height="20.2" fill="#c0dceb"/>
<rect x="92.5" y="613.9" width="264.6" height="20.2" fill="#2870b1"/>
<rect x="356.5" y="613.9" width="17.1" height="20.2" fill="#7eb8d7"/>
<rect x="373.0" y="613.9" width="17.1" height="20.2" fill="#68abd0"/>
<rect x="389.5" y="613.9" width="33.6" height="20.2" fill="#7eb8d7"/>
<rect x="422.5" y="613.9" width="33.6" height="20.2" fill="#68abd0"/>
<rect x="455.5" y="613.9" width="17.1" height="20.2" fill="#90c4dd"/>
<rect x="472.0" y="613.9" width="17.1" height="20.2" fill="#a2cde3"/>
<rect x="488.5" y="613.9" width="83.1" height="20.2" fill="#b1d5e7"/>
<rect x="571.0" y="613.9" width="17.1" height="20.2" fill="#a2cde3"/>
<rect x="587.5" y="613.9" width="33.6" height="20.2" fill="#b1d5e7"/>
<rect x="620.5" y="613.9" width="17.1" height="20.2" fill="#a2cde3"/>
<rect x="637.0" y="613.9" width="116.1" height="20.2" fill="#b1d5e7"/>
<rect x="752.5" y="613.9" width="99.6" height="20.2" fill="#c0dceb"/>
<rect x="92.5" y="633.5" width="264.6" height="20.2" fill="#2870b1"/>
<rect x="356.5" y="633.5" width="116.1" height="20.2" fill="#7eb8d7"/>
<rect x="472.0" y="633.5" width="380.1" height="20.2" fill="#b1d5e7"/>
<rect x="92.5" y="653.1" width="248.1" height="20.2" fill="#2870b1"/>
<rect x="340.0" y="653.1" width="182.1" height="20.2" fill="#b1d5e7"/>
<rect x="521.5" y="653.1" width="17.1" height="20.2" fill="#c0dceb"/>
<rect x="538.0" y="653.1" width="314.1" height="20.2" fill="#b1d5e7"/>
<rect x="92.5" y="672.8" width="248.1" height="20.2" fill="#2870b1"/>
<rect x="340.0" y="672.8" width="132.6" height="20.2" fill="#b1d5e7"/>
<rect x="472.0" y="672.8" width="380.1" height="20.2" fill="#c0dceb"/>
<rect x="92.5" y="692.4" width="248.1" height="20.2" fill="#2870b1"/>
<rect x="340.0" y="692.4" width="132.6" height="20.2" fill="#b1d5e7"/>
<rect x="472.0" y="692.4" width="380.1" height="20.2" fill="#c0dceb"/>
<rect x="92.5" y="712.1" width="248.1" height="20.2" fill="#2870b1"/>
<rect x="340.0" y="712.1" width="132.6" height="20.2" fill="#b1d5e7"/>
<rect x="472.0" y="712.1" width="99.6" height="20.2" fill="#c0dceb"/>
<rect x="571.0" y="712.1" width="281.1" height="20.2" fill="#d1e5f0"/>
<rect x="92.5" y="731.7" width="248.1" height="20.2" fill="#2870b1"/>
<rect x="340.0" y="731.7" width="132.6" height="20.2" fill="#b1d5e7"/>
<rect x="472.0" y="731.7" width="99.6" height="20.2" fill="#c0dceb"/>
<rect x="571.0" y="731.7" width="281.1" height="20.2" fill="#d1e5f0"/>
</g>
<use href="#basin" fill="none" stroke="#000" stroke-width="5.2" stroke-linejoin="round"/>
<rect x="76.5" y="85.5" width="791.6" height="684.9" fill="none" stroke="#000" stroke-width="5"/>
<text transform="translate(91.3 155.2) scale(0.955 1)" font-size="50" font-weight="bold">(a)</text>
</g>
<g transform="translate(813.7 0.0)">
<g clip-path="url(#clip)" shape-rendering="crispEdges">
<rect x="92.5" y="103.2" width="281.1" height="20.2" fill="#b1d5e7"/>
<rect x="373.0" y="103.2" width="215.1" height="20.2" fill="#a2cde3"/>
<rect x="587.5" y="103.2" width="83.1" height="20.2" fill="#2065ab"/>
<rect x="670.0" y="103.2" width="83.1" height="20.2" fill="#90c4dd"/>
<rect x="752.5" y="103.2" width="99.6" height="20.2" fill="#569fc9"/>
<rect x="92.5" y="122.9" width="99.6" height="20.2" fill="#a2cde3"/>
<rect x="191.5" y="122.9" width="182.1" height="20.2" fill="#b1d5e7"/>
<rect x="373.0" y="122.9" width="116.1" height="20.2" fill="#a2cde3"/>
<rect x="488.5" y="122.9" width="17.1" height="20.2" fill="#b1d5e7"/>
<rect x="505.0" y="122.9" width="66.6" height="20.2" fill="#a2cde3"/>
<rect x="571.0" y="122.9" width="17.1" height="20.2" fill="#0c3d73"/>
<rect x="587.5" y="122.9" width="83.1" height="20.2" fill="#2065ab"/>
<rect x="670.0" y="122.9" width="83.1" height="20.2" fill="#90c4dd"/>
<rect x="752.5" y="122.9" width="99.6" height="20.2" fill="#569fc9"/>
<rect x="92.5" y="142.5" width="132.6" height="20.2" fill="#a2cde3"/>
<rect x="224.5" y="142.5" width="264.6" height="20.2" fill="#b1d5e7"/>
<rect x="488.5" y="142.5" width="66.6" height="20.2" fill="#a2cde3"/>
<rect x="554.5" y="142.5" width="33.6" height="20.2" fill="#0c3d73"/>
<rect x="587.5" y="142.5" width="83.1" height="20.2" fill="#2065ab"/>
<rect x="670.0" y="142.5" width="83.1" height="20.2" fill="#90c4dd"/>
<rect x="752.5" y="142.5" width="99.6" height="20.2" fill="#569fc9"/>
<rect x="92.5" y="162.1" width="149.1" height="20.2" fill="#a2cde3"/>
<rect x="241.0" y="162.1" width="248.1" height="20.2" fill="#b1d5e7"/>
<rect x="488.5" y="162.1" width="50.1" height="20.2" fill="#a2cde3"/>
<rect x="538.0" y="162.1" width="17.1" height="20.2" fill="#124984"/>
<rect x="554.5" y="162.1" width="33.6" height="20.2" fill="#0c3d73"/>
<rect x="587.5" y="162.1" width="83.1" height="20.2" fill="#2065ab"/>
<rect x="670.0" y="162.1" width="83.1" height="20.2" fill="#90c4dd"/>
<rect x="752.5" y="162.1" width="99.6" height="20.2" fill="#569fc9"/>
<rect x="92.5" y="181.8" width="149.1" height="20.2" fill="#a2cde3"/>
<rect x="241.0" y="181.8" width="132.6" height="20.2" fill="#b1d5e7"/>
<rect x="373.0" y="181.8" width="99.6" height="20.2" fill="#a2cde3"/>
<rect x="472.0" y="181.8" width="33.6" height="20.2" fill="#7eb8d7"/>
<rect x="505.0" y="181.8" width="17.1" height="20.2" fill="#1a5899"/>
<rect x="521.5" y="181.8" width="17.1" height="20.2" fill="#2065ab"/>
<rect x="538.0" y="181.8" width="17.1" height="20.2" fill="#124984"/>
<rect x="554.5" y="181.8" width="33.6" height="20.2" fill="#0c3d73"/>
<rect x="587.5" y="181.8" width="83.1" height="20.2" fill="#2065ab"/>
<rect x="670.0" y="181.8" width="83.1" height="20.2" fill="#90c4dd"/>
<rect x="752.5" y="181.8" width="99.6" height="20.2" fill="#569fc9"/>
<rect x="92.5" y="201.4" width="165.6" height="20.2" fill="#a2cde3"/>
<rect x="257.5" y="201.4" width="116.1" height="20.2" fill="#b1d5e7"/>
<rect x="373.0" y="201.4" width="66.6" height="20.2" fill="#a2cde3"/>
<rect x="439.0" y="201.4" width="66.6" height="20.2" fill="#90c4dd"/>
<rect x="505.0" y="201.4" width="17.1" height="20.2" fill="#1a5899"/>
<rect x="521.5" y="201.4" width="17.1" height="20.2" fill="#2065ab"/>
<rect x="538.0" y="201.4" width="50.1" height="20.2" fill="#0c3d73"/>
<rect x="587.5" y="201.4" width="66.6" height="20.2" fill="#2065ab"/>
<rect x="653.5" y="201.4" width="99.6" height="20.2" fill="#90c4dd"/>
<rect x="752.5" y="201.4" width="99.6" height="20.2" fill="#569fc9"/>
<rect x="92.5" y="221.1" width="165.6" height="20.2" fill="#a2cde3"/>
<rect x="257.5" y="221.1" width="116.1" height="20.2" fill="#b1d5e7"/>
<rect x="373.0" y="221.1" width="66.6" height="20.2" fill="#a2cde3"/>
<rect x="439.0" y="221.1" width="33.6" height="20.2" fill="#90c4dd"/>
<rect x="472.0" y="221.1" width="17.1" height="20.2" fill="#a2cde3"/>
<rect x="488.5" y="221.1" width="33.6" height="20.2" fill="#15508d"/>
<rect x="521.5" y="221.1" width="17.1" height="20.2" fill="#124984"/>
<rect x="538.0" y="221.1" width="17.1" height="20.2" fill="#0c3d73"/>
<rect x="554.5" y="221.1" width="99.6" height="20.2" fill="#053061"/>
<rect x="653.5" y="221.1" width="99.6" height="20.2" fill="#90c4dd"/>
<rect x="752.5" y="221.1" width="99.6" height="20.2" fill="#569fc9"/>
<rect x="92.5" y="240.7" width="182.1" height="20.2" fill="#a2cde3"/>
<rect x="274.0" y="240.7" width="99.6" height="20.2" fill="#b1d5e7"/>
<rect x="373.0" y="240.7" width="99.6" height="20.2" fill="#a2cde3"/>
<rect x="472.0" y="240.7" width="33.6" height="20.2" fill="#15508d"/>
<rect x="505.0" y="240.7" width="33.6" height="20.2" fill="#124984"/>
<rect x="538.0" y="240.7" width="17.1" height="20.2" fill="#0c3d73"/>
<rect x="554.5" y="240.7" width="33.6" height="20.2" fill="#053061"/>
<rect x="587.5" y="240.7" width="50.1" height="20.2" fill="#0c3d73"/>
<rect x="637.0" y="240.7" width="116.1" height="20.2" fill="#90c4dd"/>
<rect x="752.5" y="240.7" width="99.6" height="20.2" fill="#569fc9"/>
<rect x="92.5" y="260.3" width="182.1" height="20.2" fill="#a2cde3"/>
<rect x="274.0" y="260.3" width="17.1" height="20.2" fill="#90c4dd"/>
<rect x="290.5" y="260.3" width="83.1" height="20.2" fill="#b1d5e7"/>
<rect x="373.0" y="260.3" width="99.6" height="20.2" fill="#a2cde3"/>
<rect x="472.0" y="260.3" width="33.6" height="20.2" fill="#15508d"/>
<rect x="505.0" y="260.3" width="33.6" height="20.2" fill="#124984"/>
<rect x="538.0" y="260.3" width="50.1" height="20.2" fill="#0c3d73"/>
<rect x="587.5" y="260.3" width="33.6" height="20.2" fill="#053061"/>
<rect x="620.5" y="260.3" width="132.6" height="20.2" fill="#90c4dd"/>
<rect x="752.5" y="260.3" width="99.6" height="20.2" fill="#569fc9"/>
<rect x="92.5" y="280.0" width="182.1" height="20.2" fill="#a2cde3"/>
<rect x="274.0" y="280.0" width="17.1" height="20.2" fill="#90c4dd"/>
<rect x="290.5" y="280.0" width="17.1" height="20.2" fill="#a2cde3"/>
<rect x="307.0" y="280.0" width="66.6" height="20.2" fill="#b1d5e7"/>
<rect x="373.0" y="280.0" width="50.1" height="20.2" fill="#a2cde3"/>
<rect x="422.5" y="280.0" width="17.1" height="20.2" fill="#90c4dd"/>
<rect x="439.0" y="280.0" width="17.1" height="20.2" fill="#a2cde3"/>
<rect x="455.5" y="280.0" width="83.1" height="20.2" fill="#15508d"/>
<rect x="538.0" y="280.0" width="50.1" height="20.2" fill="#68abd0"/>
<rect x="587.5" y="280.0" width="33.6" height="20.2" fill="#7eb8d7"/>
<rect x="620.5" y="280.0" width="66.6" height="20.2" fill="#90c4dd"/>
<rect x="686.5" y="280.0" width="165.6" height="20.2" fill="#68abd0"/>
<rect x="92.5" y="299.6" width="182.1" height="20.2" fill="#a2cde3"/>
<rect x="274.0" y="299.6" width="17.1" height="20.2" fill="#90c4dd"/>
<rect x="290.5" y="299.6" width="33.6" height="20.2" fill="#a2cde3"/>
<rect x="323.5" y="299.6" width="99.6" height="20.2" fill="#b1d5e7"/>
<rect x="422.5" y="299.6" width="17.1" height="20.2" fill="#124984"/>
<rect x="439.0" y="299.6" width="83.1" height="20.2" fill="#15508d"/>
<rect x="521.5" y="299.6" width="17.1" height="20.2" fill="#7eb8d7"/>
<rect x="538.0" y="299.6" width="66.6" height="20.2" fill="#68abd0"/>
<rect x="604.0" y="299.6" width="33.6" height="20.2" fill="#7eb8d7"/>
<rect x="637.0" y="299.6" width="17.1" height="20.2" fill="#68abd0"/>
<rect x="653.5" y="299.6" width="33.6" height="20.2" fill="#7eb8d7"/>
<rect x="686.5" y="299.6" width="132.6" height="20.2" fill="#68abd0"/>
<rect x="818.5" y="299.6" width="33.6" height="20.2" fill="#7eb8d7"/>
<rect x="92.5" y="319.3" width="231.6" height="20.2" fill="#a2cde3"/>
<rect x="323.5" y="319.3" width="83.1" height="20.2" fill="#b1d5e7"/>
<rect x="406.0" y="319.3" width="116.1" height="20.2" fill="#15508d"/>
<rect x="521.5" y="319.3" width="17.1" height="20.2" fill="#7eb8d7"/>
<rect x="538.0" y="319.3" width="17.1" height="20.2" fill="#90c4dd"/>
<rect x="554.5" y="319.3" width="33.6" height="20.2" fill="#68abd0"/>
<rect x="587.5" y="319.3" width="17.1" height="20.2" fill="#7eb8d7"/>
<rect x="604.0" y="319.3" width="66.6" height="20.2" fill="#90c4dd"/>
<rect x="670.0" y="319.3" width="17.1" height="20.2" fill="#a2cde3"/>
<rect x="686.5" y="319.3" width="17.1" height="20.2" fill="#90c4dd"/>
<rect x="703.0" y="319.3" width="17.1" height="20.2" fill="#7eb8d7"/>
<rect x="719.5" y="319.3" width="17.1" height="20.2" fill="#90c4dd"/>
<rect x="736.0" y="319.3" width="17.1" height="20.2" fill="#68abd0"/>
<rect x="752.5" y="319.3" width="99.6" height="20.2" fill="#7eb8d7"/>
<rect x="92.5" y="338.9" width="99.6" height="20.2" fill="#b1d5e7"/>
<rect x="191.5" y="338.9" width="66.6" height="20.2" fill="#a2cde3"/>
<rect x="257.5" y="338.9" width="33.6" height="20.2" fill="#b1d5e7"/>
<rect x="290.5" y="338.9" width="33.6" height="20.2" fill="#a2cde3"/>
<rect x="323.5" y="338.9" width="83.1" height="20.2" fill="#b1d5e7"/>
<rect x="406.0" y="338.9" width="33.6" height="20.2" fill="#2065ab"/>
<rect x="439.0" y="338.9" width="33.6" height="20.2" fill="#1a5899"/>
<rect x="472.0" y="338.9" width="33.6" height="20.2" fill="#124984"/>
<rect x="505.0" y="338.9" width="17.1" height="20.2" fill="#1a5899"/>
<rect x="521.5" y="338.9" width="83.1" height="20.2" fill="#7eb8d7"/>
<rect x="604.0" y="338.9" width="99.6" height="20.2" fill="#90c4dd"/>
<rect x="703.0" y="338.9" width="33.6" height="20.2" fill="#7eb8d7"/>
<rect x="736.0" y="338.9" width="17.1" height="20.2" fill="#68abd0"/>
<rect x="752.5" y="338.9" width="99.6" height="20.2" fill="#7eb8d7"/>
<rect x="92.5" y="358.5" width="116.1" height="20.2" fill="#c0dceb"/>
<rect x="208.0" y="358.5" width="83.1" height="20.2" fill="#b1d5e7"/>
<rect x="290.5" y="358.5" width="17.1" height="20.2" fill="#a2cde3"/>
<rect x="307.0" y="358.5" width="17.1" height="20.2" fill="#90c4dd"/>
<rect x="323.5" y="358.5" width="33.6" height="20.2" fill="#a2cde3"/>
<rect x="356.5" y="358.5" width="50.1" height="20.2" fill="#b1d5e7"/>
<rect x="406.0" y="358.5" width="66.6" height="20.2" fill="#2065ab"/>
<rect x="472.0" y="358.5" width="66.6" height="20.2" fill="#1a5899"/>
<rect x="538.0" y="358.5" width="83.1" height="20.2" fill="#90c4dd"/>
<rect x="620.5" y="358.5" width="116.1" height="20.2" fill="#a2cde3"/>
<rect x="736.0" y="358.5" width="33.6" height="20.2" fill="#90c4dd"/>
<rect x="769.0" y="358.5" width="83.1" height="20.2" fill="#7eb8d7"/>
<rect x="92.5" y="378.2" width="83.1" height="20.2" fill="#d1e5f0"/>
<rect x="175.0" y="378.2" width="33.6" height="20.2" fill="#c0dceb"/>
<rect x="208.0" y="378.2" width="83.1" height="20.2" fill="#b1d5e7"/>
<rect x="290.5" y="378.2" width="17.1" height="20.2" fill="#a2cde3"/>
<rect x="307.0" y="378.2" width="17.1" height="20.2" fill="#b1d5e7"/>
<rect x="323.5" y="378.2" width="33.6" height="20.2" fill="#a2cde3"/>
<rect x="356.5" y="378.2" width="50.1" height="20.2" fill="#b1d5e7"/>
<rect x="406.0" y="378.2" width="33.6" height="20.2" fill="#2065ab"/>
<rect x="439.0" y="378.2" width="33.6" height="20.2" fill="#1a5899"/>
<rect x="472.0" y="378.2" width="66.6" height="20.2" fill="#2065ab"/>
<rect x="538.0" y="378.2" width="83.1" height="20.2" fill="#90c4dd"/>
<rect x="620.5" y="378.2" width="66.6" height="20.2" fill="#a2cde3"/>
<rect x="686.5" y="378.2" width="17.1" height="20.2" fill="#b1d5e7"/>
<rect x="703.0" y="378.2" width="50.1" height="20.2" fill="#a2cde3"/>
<rect x="752.5" y="378.2" width="66.6" height="20.2" fill="#90c4dd"/>
<rect x="818.5" y="378.2" width="33.6" height="20.2" fill="#7eb8d7"/>
<rect x="92.5" y="397.8" width="99.6" height="20.2" fill="#dae9f2"/>
<rect x="191.5" y="397.8" width="17.1" height="20.2" fill="#d1e5f0"/>
<rect x="208.0" y="397.8" width="17.1" height="20.2" fill="#c0dceb"/>
<rect x="224.5" y="397.8" width="33.6" height="20.2" fill="#b1d5e7"/>
<rect x="257.5" y="397.8" width="50.1" height="20.2" fill="#c0dceb"/>
<rect x="307.0" y="397.8" width="99.6" height="20.2" fill="#b1d5e7"/>
<rect x="406.0" y="397.8" width="33.6" height="20.2" fill="#2065ab"/>
<rect x="439.0" y="397.8" width="33.6" height="20.2" fill="#1a5899"/>
<rect x="472.0" y="397.8" width="83.1" height="20.2" fill="#2065ab"/>
<rect x="554.5" y="397.8" width="17.1" height="20.2" fill="#c0dceb"/>
<rect x="571.0" y="397.8" width="281.1" height="20.2" fill="#a2cde3"/>
<rect x="92.5" y="417.5" width="66.6" height="20.2" fill="#dae9f2"/>
<rect x="158.5" y="417.5" width="50.1" height="20.2" fill="#d1e5f0"/>
<rect x="208.0" y="417.5" width="17.1" height="20.2" fill="#c0dceb"/>
<rect x="224.5" y="417.5" width="33.6" height="20.2" fill="#b1d5e7"/>
<rect x="257.5" y="417.5" width="33.6" height="20.2" fill="#d1e5f0"/>
<rect x="290.5" y="417.5" width="17.1" height="20.2" fill="#c0dceb"/>
<rect x="307.0" y="417.5" width="83.1" height="20.2" fill="#b1d5e7"/>
<rect x="389.5" y="417.5" width="50.1" height="20.2" fill="#2065ab"/>
<rect x="439.0" y="417.5" width="33.6" height="20.2" fill="#1a5899"/>
<rect x="472.0" y="417.5" width="17.1" height="20.2" fill="#2065ab"/>
<rect x="488.5" y="417.5" width="50.1" height="20.2" fill="#2870b1"/>
<rect x="538.0" y="417.5" width="17.1" height="20.2" fill="#327cb7"/>
<rect x="554.5" y="417.5" width="17.1" height="20.2" fill="#dae9f2"/>
<rect x="571.0" y="417.5" width="17.1" height="20.2" fill="#d1e5f0"/>
<rect x="587.5" y="417.5" width="264.6" height="20.2" fill="#b1d5e7"/>
<rect x="92.5" y="437.1" width="116.1" height="20.2" fill="#d1e5f0"/>
<rect x="208.0" y="437.1" width="83.1" height="20.2" fill="#c0dceb"/>
<rect x="290.5" y="437.1" width="17.1" height="20.2" fill="#d1e5f0"/>
<rect x="307.0" y="437.1" width="17.1" height="20.2" fill="#c0dceb"/>
<rect x="323.5" y="437.1" width="66.6" height="20.2" fill="#d1e5f0"/>
<rect x="389.5" y="437.1" width="33.6" height="20.2" fill="#2065ab"/>
<rect x="422.5" y="437.1" width="33.6" height="20.2" fill="#2870b1"/>
<rect x="455.5" y="437.1" width="17.1" height="20.2" fill="#327cb7"/>
<rect x="472.0" y="437.1" width="33.6" height="20.2" fill="#2065ab"/>
<rect x="505.0" y="437.1" width="33.6" height="20.2" fill="#2870b1"/>
<rect x="538.0" y="437.1" width="17.1" height="20.2" fill="#327cb7"/>
<rect x="554.5" y="437.1" width="17.1" height="20.2" fill="#edf2f5"/>
<rect x="571.0" y="437.1" width="17.1" height="20.2" fill="#e4eef4"/>
<rect x="587.5" y="437.1" width="17.1" height="20.2" fill="#dae9f2"/>
<rect x="604.0" y="437.1" width="17.1" height="20.2" fill="#d1e5f0"/>
<rect x="620.5" y="437.1" width="17.1" height="20.2" fill="#c0dceb"/>
<rect x="637.0" y="437.1" width="215.1" height="20.2" fill="#b1d5e7"/>
<rect x="92.5" y="456.7" width="149.1" height="20.2" fill="#c0dceb"/>
<rect x="241.0" y="456.7" width="33.6" height="20.2" fill="#d1e5f0"/>
<rect x="274.0" y="456.7" width="17.1" height="20.2" fill="#e4eef4"/>
<rect x="290.5" y="456.7" width="17.1" height="20.2" fill="#edf2f5"/>
<rect x="307.0" y="456.7" width="17.1" height="20.2" fill="#f6f7f7"/>
<rect x="323.5" y="456.7" width="33.6" height="20.2" fill="#fae9df"/>
<rect x="356.5" y="456.7" width="33.6" height="20.2" fill="#fce2d2"/>
<rect x="389.5" y="456.7" width="66.6" height="20.2" fill="#3a87bd"/>
<rect x="455.5" y="456.7" width="33.6" height="20.2" fill="#4393c3"/>
<rect x="488.5" y="456.7" width="17.1" height="20.2" fill="#68abd0"/>
<rect x="505.0" y="456.7" width="17.1" height="20.2" fill="#4393c3"/>
<rect x="521.5" y="456.7" width="17.1" height="20.2" fill="#3a87bd"/>
<rect x="538.0" y="456.7" width="33.6" height="20.2" fill="#f6f7f7"/>
<rect x="571.0" y="456.7" width="17.1" height="20.2" fill="#e4eef4"/>
<rect x="587.5" y="456.7" width="17.1" height="20.2" fill="#dae9f2"/>
<rect x="604.0" y="456.7" width="50.1" height="20.2" fill="#d1e5f0"/>
<rect x="653.5" y="456.7" width="66.6" height="20.2" fill="#c0dceb"/>
<rect x="719.5" y="456.7" width="33.6" height="20.2" fill="#d1e5f0"/>
<rect x="752.5" y="456.7" width="17.1" height="20.2" fill="#c0dceb"/>
<rect x="769.0" y="456.7" width="83.1" height="20.2" fill="#b1d5e7"/>
<rect x="92.5" y="476.4" width="50.1" height="20.2" fill="#c0dceb"/>
<rect x="142.0" y="476.4" width="17.1" height="20.2" fill="#d1e5f0"/>
<rect x="158.5" y="476.4" width="99.6" height="20.2" fill="#c0dceb"/>
<rect x="257.5" y="476.4" width="17.1" height="20.2" fill="#e4eef4"/>
<rect x="274.0" y="476.4" width="17.1" height="20.2" fill="#fce2d2"/>
<rect x="290.5" y="476.4" width="17.1" height="20.2" fill="#fbceb7"/>
<rect x="307.0" y="476.4" width="17.1" height="20.2" fill="#fce2d2"/>
<rect x="323.5" y="476.4" width="17.1" height="20.2" fill="#fae9df"/>
<rect x="340.0" y="476.4" width="17.1" height="20.2" fill="#fddbc7"/>
<rect x="356.5" y="476.4" width="17.1" height="20.2" fill="#ec9374"/>
<rect x="373.0" y="476.4" width="17.1" height="20.2" fill="#f3a481"/>
<rect x="389.5" y="476.4" width="50.1" height="20.2" fill="#3a87bd"/>
<rect x="439.0" y="476.4" width="17.1" height="20.2" fill="#4393c3"/>
<rect x="455.5" y="476.4" width="17.1" height="20.2" fill="#569fc9"/>
<rect x="472.0" y="476.4" width="33.6" height="20.2" fill="#3a87bd"/>
<rect x="505.0" y="476.4" width="17.1" height="20.2" fill="#2870b1"/>
<rect x="521.5" y="476.4" width="17.1" height="20.2" fill="#327cb7"/>
<rect x="538.0" y="476.4" width="17.1" height="20.2" fill="#e4eef4"/>
<rect x="554.5" y="476.4" width="50.1" height="20.2" fill="#dae9f2"/>
<rect x="604.0" y="476.4" width="17.1" height="20.2" fill="#d1e5f0"/>
<rect x="620.5" y="476.4" width="66.6" height="20.2" fill="#c0dceb"/>
<rect x="686.5" y="476.4" width="66.6" height="20.2" fill="#d1e5f0"/>
<rect x="752.5" y="476.4" width="99.6" height="20.2" fill="#c0dceb"/>
<rect x="92.5" y="496.0" width="99.6" height="20.2" fill="#b1d5e7"/>
<rect x="191.5" y="496.0" width="50.1" height="20.2" fill="#c0dceb"/>
<rect x="241.0" y="496.0" width="17.1" height="20.2" fill="#b1d5e7"/>
<rect x="257.5" y="496.0" width="17.1" height="20.2" fill="#d1e5f0"/>
<rect x="274.0" y="496.0" width="33.6" height="20.2" fill="#edf2f5"/>
<rect x="307.0" y="496.0" width="17.1" height="20.2" fill="#dae9f2"/>
<rect x="323.5" y="496.0" width="33.6" height="20.2" fill="#edf2f5"/>
<rect x="356.5" y="496.0" width="17.1" height="20.2" fill="#f8bfa4"/>
<rect x="373.0" y="496.0" width="17.1" height="20.2" fill="#ec9374"/>
<rect x="389.5" y="496.0" width="50.1" height="20.2" fill="#569fc9"/>
<rect x="439.0" y="496.0" width="17.1" height="20.2" fill="#4393c3"/>
<rect x="455.5" y="496.0" width="17.1" height="20.2" fill="#3a87bd"/>
<rect x="472.0" y="496.0" width="66.6" height="20.2" fill="#2870b1"/>
<rect x="538.0" y="496.0" width="116.1" height="20.2" fill="#c0dceb"/>
<rect x="653.5" y="496.0" width="33.6" height="20.2" fill="#d1e5f0"/>
<rect x="686.5" y="496.0" width="17.1" height="20.2" fill="#c0dceb"/>
<rect x="703.0" y="496.0" width="17.1" height="20.2" fill="#d1e5f0"/>
<rect x="719.5" y="496.0" width="17.1" height="20.2" fill="#c0dceb"/>
<rect x="736.0" y="496.0" width="17.1" height="20.2" fill="#dae9f2"/>
<rect x="752.5" y="496.0" width="99.6" height="20.2" fill="#d1e5f0"/>
<rect x="92.5" y="515.7" width="66.6" height="20.2" fill="#c0dceb"/>
<rect x="158.5" y="515.7" width="99.6" height="20.2" fill="#b1d5e7"/>
<rect x="257.5" y="515.7" width="17.1" height="20.2" fill="#d1e5f0"/>
<rect x="274.0" y="515.7" width="17.1" height="20.2" fill="#c0dceb"/>
<rect x="290.5" y="515.7" width="17.1" height="20.2" fill="#d1e5f0"/>
<rect x="307.0" y="515.7" width="17.1" height="20.2" fill="#edf2f5"/>
<rect x="323.5" y="515.7" width="17.1" height="20.2" fill="#f6b394"/>
<rect x="340.0" y="515.7" width="17.1" height="20.2" fill="#f3a481"/>
<rect x="356.5" y="515.7" width="33.6" height="20.2" fill="#ec9374"/>
<rect x="389.5" y="515.7" width="17.1" height="20.2" fill="#4393c3"/>
<rect x="406.0" y="515.7" width="33.6" height="20.2" fill="#3a87bd"/>
<rect x="439.0" y="515.7" width="33.6" height="20.2" fill="#327cb7"/>
<rect x="472.0" y="515.7" width="50.1" height="20.2" fill="#2870b1"/>
<rect x="521.5" y="515.7" width="50.1" height="20.2" fill="#d1e5f0"/>
<rect x="571.0" y="515.7" width="17.1" height="20.2" fill="#c0dceb"/>
<rect x="587.5" y="515.7" width="17.1" height="20.2" fill="#b1d5e7"/>
<rect x="604.0" y="515.7" width="17.1" height="20.2" fill="#c0dceb"/>
<rect x="620.5" y="515.7" width="17.1" height="20.2" fill="#dae9f2"/>
<rect x="637.0" y="515.7" width="17.1" height="20.2" fill="#d1e5f0"/>
<rect x="653.5" y="515.7" width="17.1" height="20.2" fill="#c0dceb"/>
<rect x="670.0" y="515.7" width="17.1" height="20.2" fill="#b1d5e7"/>
<rect x="686.5" y="515.7" width="165.6" height="20.2" fill="#d1e5f0"/>
<rect x="92.5" y="535.3" width="149.1" height="20.2" fill="#b1d5e7"/>
<rect x="241.0" y="535.3" width="17.1" height="20.2" fill="#a2cde3"/>
<rect x="257.5" y="535.3" width="33.6" height="20.2" fill="#b1d5e7"/>
<rect x="290.5" y="535.3" width="17.1" height="20.2" fill="#d1e5f0"/>
<rect x="307.0" y="535.3" width="17.1" height="20.2" fill="#e4eef4"/>
<rect x="323.5" y="535.3" width="33.6" height="20.2" fill="#f9f0eb"/>
<rect x="356.5" y="535.3" width="17.1" height="20.2" fill="#f6f7f7"/>
<rect x="373.0" y="535.3" width="33.6" height="20.2" fill="#327cb7"/>
<rect x="406.0" y="535.3" width="33.6" height="20.2" fill="#2870b1"/>
<rect x="439.0" y="535.3" width="33.6" height="20.2" fill="#327cb7"/>
<rect x="472.0" y="535.3" width="17.1" height="20.2" fill="#2870b1"/>
<rect x="488.5" y="535.3" width="33.6" height="20.2" fill="#d1e5f0"/>
<rect x="521.5" y="535.3" width="33.6" height="20.2" fill="#dae9f2"/>
<rect x="554.5" y="535.3" width="33.6" height="20.2" fill="#d1e5f0"/>
<rect x="587.5" y="535.3" width="17.1" height="20.2" fill="#e4eef4"/>
<rect x="604.0" y="535.3" width="17.1" height="20.2" fill="#f6f7f7"/>
<rect x="620.5" y="535.3" width="17.1" height="20.2" fill="#e4eef4"/>
<rect x="637.0" y="535.3" width="17.1" height="20.2" fill="#c0dceb"/>
<rect x="653.5" y="535.3" width="50.1" height="20.2" fill="#b1d5e7"/>
<rect x="703.0" y="535.3" width="132.6" height="20.2" fill="#c0dceb"/>
<rect x="835.0" y="535.3" width="17.1" height="20.2" fill="#d1e5f0"/>
<rect x="92.5" y="554.9" width="99.6" height="20.2" fill="#b1d5e7"/>
<rect x="191.5" y="554.9" width="17.1" height="20.2" fill="#c0dceb"/>
<rect x="208.0" y="554.9" width="17.1" height="20.2" fill="#b1d5e7"/>
<rect x="224.5" y="554.9" width="33.6" height="20.2" fill="#a2cde3"/>
<rect x="257.5" y="554.9" width="33.6" height="20.2" fill="#b1d5e7"/>
<rect x="290.5" y="554.9" width="33.6" height="20.2" fill="#d1e5f0"/>
<rect x="323.5" y="554.9" width="33.6" height="20.2" fill="#fce2d2"/>
<rect x="356.5" y="554.9" width="17.1" height="20.2" fill="#edf2f5"/>
<rect x="373.0" y="554.9" width="33.6" height="20.2" fill="#327cb7"/>
<rect x="406.0" y="554.9" width="33.6" height="20.2" fill="#2870b1"/>
<rect x="439.0" y="554.9" width="33.6" height="20.2" fill="#2065ab"/>
<rect x="472.0" y="554.9" width="33.6" height="20.2" fill="#d1e5f0"/>
<rect x="505.0" y="554.9" width="33.6" height="20.2" fill="#dae9f2"/>
<rect x="538.0" y="554.9" width="17.1" height="20.2" fill="#d1e5f0"/>
<rect x="554.5" y="554.9" width="17.1" height="20.2" fill="#c0dceb"/>
<rect x="571.0" y="554.9" width="33.6" height="20.2" fill="#dae9f2"/>
<rect x="604.0" y="554.9" width="17.1" height="20.2" fill="#c0dceb"/>
<rect x="620.5" y="554.9" width="132.6" height="20.2" fill="#b1d5e7"/>
<rect x="752.5" y="554.9" width="83.1" height="20.2" fill="#c0dceb"/>
<rect x="835.0" y="554.9" width="17.1" height="20.2" fill="#d1e5f0"/>
<rect x="92.5" y="574.6" width="17.1" height="20.2" fill="#dae9f2"/>
<rect x="109.0" y="574.6" width="66.6" height="20.2" fill="#e4eef4"/>
<rect x="175.0" y="574.6" width="17.1" height="20.2" fill="#dae9f2"/>
<rect x="191.5" y="574.6" width="17.1" height="20.2" fill="#c0dceb"/>
<rect x="208.0" y="574.6" width="17.1" height="20.2" fill="#b1d5e7"/>
<rect x="224.5" y="574.6" width="66.6" height="20.2" fill="#a2cde3"/>
<rect x="290.5" y="574.6" width="33.6" height="20.2" fill="#d1e5f0"/>
<rect x="323.5" y="574.6" width="17.1" height="20.2" fill="#e4eef4"/>
<rect x="340.0" y="574.6" width="33.6" height="20.2" fill="#edf2f5"/>
<rect x="373.0" y="574.6" width="66.6" height="20.2" fill="#2065ab"/>
<rect x="439.0" y="574.6" width="50.1" height="20.2" fill="#1a5899"/>
<rect x="488.5" y="574.6" width="33.6" height="20.2" fill="#b1d5e7"/>
<rect x="521.5" y="574.6" width="17.1" height="20.2" fill="#c0dceb"/>
<rect x="538.0" y="574.6" width="17.1" height="20.2" fill="#dae9f2"/>
<rect x="554.5" y="574.6" width="17.1" height="20.2" fill="#b1d5e7"/>
<rect x="571.0" y="574.6" width="66.6" height="20.2" fill="#a2cde3"/>
<rect x="637.0" y="574.6" width="116.1" height="20.2" fill="#b1d5e7"/>
<rect x="752.5" y="574.6" width="83.1" height="20.2" fill="#c0dceb"/>
<rect x="835.0" y="574.6" width="17.1" height="20.2" fill="#d1e5f0"/>
<rect x="92.5" y="594.2" width="33.6" height="20.2" fill="#dae9f2"/>
<rect x="125.5" y="594.2" width="33.6" height="20.2" fill="#e4eef4"/>
<rect x="158.5" y="594.2" width="17.1" height="20.2" fill="#d1e5f0"/>
<rect x="175.0" y="594.2" width="99.6" height="20.2" fill="#c0dceb"/>
<rect x="274.0" y="594.2" width="17.1" height="20.2" fill="#b1d5e7"/>
<rect x="290.5" y="594.2" width="33.6" height="20.2" fill="#c0dceb"/>
<rect x="323.5" y="594.2" width="33.6" height="20.2" fill="#e4eef4"/>
<rect x="356.5" y="594.2" width="33.6" height="20.2" fill="#2065ab"/>
<rect x="389.5" y="594.2" width="50.1" height="20.2" fill="#1a5899"/>
<rect x="439.0" y="594.2" width="33.6" height="20.2" fill="#124984"/>
<rect x="472.0" y="594.2" width="50.1" height="20.2" fill="#b1d5e7"/>
<rect x="521.5" y="594.2" width="116.1" height="20.2" fill="#a2cde3"/>
<rect x="637.0" y="594.2" width="116.1" height="20.2" fill="#b1d5e7"/>
<rect x="752.5" y="594.2" width="83.1" height="20.2" fill="#c0dceb"/>
<rect x="835.0" y="594.2" width="17.1" height="20.2" fill="#d1e5f0"/>
<rect x="92.5" y="613.9" width="50.1" height="20.2" fill="#d1e5f0"/>
<rect x="142.0" y="613.9" width="182.1" height="20.2" fill="#c0dceb"/>
<rect x="323.5" y="613.9" width="33.6" height="20.2" fill="#dae9f2"/>
<rect x="356.5" y="613.9" width="17.1" height="20.2" fill="#124984"/>
<rect x="373.0" y="613.9" width="17.1" height="20.2" fill="#0c3d73"/>
<rect x="389.5" y="613.9" width="50.1" height="20.2" fill="#124984"/>
<rect x="439.0" y="613.9" width="17.1" height="20.2" fill="#0c3d73"/>
<rect x="455.5" y="613.9" width="17.1" height="20.2" fill="#90c4dd"/>
<rect x="472.0" y="613.9" width="33.6" height="20.2" fill="#a2cde3"/>
<rect x="505.0" y="613.9" width="50.1" height="20.2" fill="#b1d5e7"/>
<rect x="554.5" y="613.9" width="83.1" height="20.2" fill="#a2cde3"/>
<rect x="637.0" y="613.9" width="116.1" height="20.2" fill="#b1d5e7"/>
<rect x="752.5" y="613.9" width="83.1" height="20.2" fill="#c0dceb"/>
<rect x="835.0" y="613.9" width="17.1" height="20.2" fill="#d1e5f0"/>
<rect x="92.5" y="633.5" width="231.6" height="20.2" fill="#c0dceb"/>
<rect x="323.5" y="633.5" width="17.1" height="20.2" fill="#dae9f2"/>
<rect x="340.0" y="633.5" width="116.1" height="20.2" fill="#0c3d73"/>
<rect x="455.5" y="633.5" width="17.1" height="20.2" fill="#90c4dd"/>
<rect x="472.0" y="633.5" width="33.6" height="20.2" fill="#a2cde3"/>
<rect x="505.0" y="633.5" width="132.6" height="20.2" fill="#b1d5e7"/>
<rect x="637.0" y="633.5" width="198.6" height="20.2" fill="#c0dceb"/>
<rect x="835.0" y="633.5" width="17.1" height="20.2" fill="#d1e5f0"/>
<rect x="92.5" y="653.1" width="231.6" height="20.2" fill="#c0dceb"/>
<rect x="323.5" y="653.1" width="132.6" height="20.2" fill="#0c3d73"/>
<rect x="455.5" y="653.1" width="17.1" height="20.2" fill="#90c4dd"/>
<rect x="472.0" y="653.1" width="66.6" height="20.2" fill="#b1d5e7"/>
<rect x="538.0" y="653.1" width="17.1" height="20.2" fill="#a2cde3"/>
<rect x="554.5" y="653.1" width="83.1" height="20.2" fill="#b1d5e7"/>
<rect x="637.0" y="653.1" width="198.6" height="20.2" fill="#c0dceb"/>
<rect x="835.0" y="653.1" width="17.1" height="20.2" fill="#d1e5f0"/>
<rect x="92.5" y="672.8" width="231.6" height="20.2" fill="#c0dceb"/>
<rect x="323.5" y="672.8" width="132.6" height="20.2" fill="#0c3d73"/>
<rect x="455.5" y="672.8" width="17.1" height="20.2" fill="#90c4dd"/>
<rect x="472.0" y="672.8" width="182.1" height="20.2" fill="#b1d5e7"/>
<rect x="653.5" y="672.8" width="182.1" height="20.2" fill="#c0dceb"/>
<rect x="835.0" y="672.8" width="17.1" height="20.2" fill="#d1e5f0"/>
<rect x="92.5" y="692.4" width="231.6" height="20.2" fill="#c0dceb"/>
<rect x="323.5" y="692.4" width="132.6" height="20.2" fill="#0c3d73"/>
<rect x="455.5" y="692.4" width="17.1" height="20.2" fill="#90c4dd"/>
<rect x="472.0" y="692.4" width="99.6" height="20.2" fill="#b1d5e7"/>
<rect x="571.0" y="692.4" width="264.6" height="20.2" fill="#c0dceb"/>
<rect x="835.0" y="692.4" width="17.1" height="20.2" fill="#d1e5f0"/>
<rect x="92.5" y="712.1" width="231.6" height="20.2" fill="#c0dceb"/>
<rect x="323.5" y="712.1" width="132.6" height="20.2" fill="#0c3d73"/>
<rect x="455.5" y="712.1" width="17.1" height="20.2" fill="#90c4dd"/>
<rect x="472.0" y="712.1" width="99.6" height="20.2" fill="#b1d5e7"/>
<rect x="571.0" y="712.1" width="99.6" height="20.2" fill="#c0dceb"/>
<rect x="670.0" y="712.1" width="182.1" height="20.2" fill="#d1e5f0"/>
<rect x="92.5" y="731.7" width="231.6" height="20.2" fill="#c0dceb"/>
<rect x="323.5" y="731.7" width="132.6" height="20.2" fill="#0c3d73"/>
<rect x="455.5" y="731.7" width="17.1" height="20.2" fill="#90c4dd"/>
<rect x="472.0" y="731.7" width="99.6" height="20.2" fill="#b1d5e7"/>
<rect x="571.0" y="731.7" width="281.1" height="20.2" fill="#d1e5f0"/>
</g>
<use href="#basin" fill="none" stroke="#000" stroke-width="5.2" stroke-linejoin="round"/>
<rect x="76.5" y="85.5" width="791.6" height="684.9" fill="none" stroke="#000" stroke-width="5"/>
<text transform="translate(91.3 155.2) scale(0.955 1)" font-size="50" font-weight="bold">(b)</text>
</g>
<g transform="translate(0.0 706.0)">
<g clip-path="url(#clip)" shape-rendering="crispEdges">
<rect x="92.5" y="103.2" width="495.6" height="20.2" fill="#e58368"/>
<rect x="587.5" y="103.2" width="83.1" height="20.2" fill="#c43b3c"/>
<rect x="670.0" y="103.2" width="83.1" height="20.2" fill="#e58368"/>
<rect x="752.5" y="103.2" width="99.6" height="20.2" fill="#e17860"/>
<rect x="92.5" y="122.9" width="99.6" height="20.2" fill="#dd7059"/>
<rect x="191.5" y="122.9" width="248.1" height="20.2" fill="#e58368"/>
<rect x="439.0" y="122.9" width="50.1" height="20.2" fill="#ec9374"/>
<rect x="488.5" y="122.9" width="83.1" height="20.2" fill="#e58368"/>
<rect x="571.0" y="122.9" width="99.6" height="20.2" fill="#c43b3c"/>
<rect x="670.0" y="122.9" width="83.1" height="20.2" fill="#e58368"/>
<rect x="752.5" y="122.9" width="99.6" height="20.2" fill="#e17860"/>
<rect x="92.5" y="142.5" width="132.6" height="20.2" fill="#dd7059"/>
<rect x="224.5" y="142.5" width="149.1" height="20.2" fill="#e58368"/>
<rect x="373.0" y="142.5" width="17.1" height="20.2" fill="#ec9374"/>
<rect x="389.5" y="142.5" width="50.1" height="20.2" fill="#e58368"/>
<rect x="439.0" y="142.5" width="17.1" height="20.2" fill="#ec9374"/>
<rect x="455.5" y="142.5" width="17.1" height="20.2" fill="#e58368"/>
<rect x="472.0" y="142.5" width="17.1" height="20.2" fill="#f09c7b"/>
<rect x="488.5" y="142.5" width="17.1" height="20.2" fill="#e98b6e"/>
<rect x="505.0" y="142.5" width="50.1" height="20.2" fill="#e58368"/>
<rect x="554.5" y="142.5" width="116.1" height="20.2" fill="#c43b3c"/>
<rect x="670.0" y="142.5" width="83.1" height="20.2" fill="#e58368"/>
<rect x="752.5" y="142.5" width="99.6" height="20.2" fill="#e17860"/>
<rect x="92.5" y="162.1" width="149.1" height="20.2" fill="#dd7059"/>
<rect x="241.0" y="162.1" width="165.6" height="20.2" fill="#f3a481"/>
<rect x="406.0" y="162.1" width="17.1" height="20.2" fill="#f09c7b"/>
<rect x="422.5" y="162.1" width="50.1" height="20.2" fill="#ec9374"/>
<rect x="472.0" y="162.1" width="17.1" height="20.2" fill="#e58368"/>
<rect x="488.5" y="162.1" width="17.1" height="20.2" fill="#e98b6e"/>
<rect x="505.0" y="162.1" width="33.6" height="20.2" fill="#e58368"/>
<rect x="538.0" y="162.1" width="17.1" height="20.2" fill="#cc4c44"/>
<rect x="554.5" y="162.1" width="116.1" height="20.2" fill="#c43b3c"/>
<rect x="670.0" y="162.1" width="83.1" height="20.2" fill="#e58368"/>
<rect x="752.5" y="162.1" width="99.6" height="20.2" fill="#e17860"/>
<rect x="92.5" y="181.8" width="149.1" height="20.2" fill="#dd7059"/>
<rect x="241.0" y="181.8" width="116.1" height="20.2" fill="#ec9374"/>
<rect x="356.5" y="181.8" width="33.6" height="20.2" fill="#e58368"/>
<rect x="389.5" y="181.8" width="17.1" height="20.2" fill="#ec9374"/>
<rect x="406.0" y="181.8" width="33.6" height="20.2" fill="#e58368"/>
<rect x="439.0" y="181.8" width="17.1" height="20.2" fill="#dd7059"/>
<rect x="455.5" y="181.8" width="17.1" height="20.2" fill="#e58368"/>
<rect x="472.0" y="181.8" width="33.6" height="20.2" fill="#d6604d"/>
<rect x="505.0" y="181.8" width="17.1" height="20.2" fill="#cc4c44"/>
<rect x="521.5" y="181.8" width="17.1" height="20.2" fill="#d6604d"/>
<rect x="538.0" y="181.8" width="17.1" height="20.2" fill="#cc4c44"/>
<rect x="554.5" y="181.8" width="116.1" height="20.2" fill="#c43b3c"/>
<rect x="670.0" y="181.8" width="83.1" height="20.2" fill="#e58368"/>
<rect x="752.5" y="181.8" width="99.6" height="20.2" fill="#e17860"/>
<rect x="92.5" y="201.4" width="149.1" height="20.2" fill="#dd7059"/>
<rect x="241.0" y="201.4" width="17.1" height="20.2" fill="#e17860"/>
<rect x="257.5" y="201.4" width="99.6" height="20.2" fill="#ec9374"/>
<rect x="356.5" y="201.4" width="50.1" height="20.2" fill="#e58368"/>
<rect x="406.0" y="201.4" width="17.1" height="20.2" fill="#e17860"/>
<rect x="422.5" y="201.4" width="17.1" height="20.2" fill="#e58368"/>
<rect x="439.0" y="201.4" width="33.6" height="20.2" fill="#dd7059"/>
<rect x="472.0" y="201.4" width="17.1" height="20.2" fill="#d6604d"/>
<rect x="488.5" y="201.4" width="17.1" height="20.2" fill="#d25849"/>
<rect x="505.0" y="201.4" width="17.1" height="20.2" fill="#cc4c44"/>
<rect x="521.5" y="201.4" width="17.1" height="20.2" fill="#d6604d"/>
<rect x="538.0" y="201.4" width="17.1" height="20.2" fill="#c84440"/>
<rect x="554.5" y="201.4" width="99.6" height="20.2" fill="#c43b3c"/>
<rect x="653.5" y="201.4" width="99.6" height="20.2" fill="#e58368"/>
<rect x="752.5" y="201.4" width="99.6" height="20.2" fill="#e17860"/>
<rect x="92.5" y="221.1" width="149.1" height="20.2" fill="#dd7059"/>
<rect x="241.0" y="221.1" width="17.1" height="20.2" fill="#e17860"/>
<rect x="257.5" y="221.1" width="149.1" height="20.2" fill="#e58368"/>
<rect x="406.0" y="221.1" width="17.1" height="20.2" fill="#dd7059"/>
<rect x="422.5" y="221.1" width="17.1" height="20.2" fill="#e58368"/>
<rect x="439.0" y="221.1" width="17.1" height="20.2" fill="#da6853"/>
<rect x="455.5" y="221.1" width="17.1" height="20.2" fill="#dd7059"/>
<rect x="472.0" y="221.1" width="17.1" height="20.2" fill="#d25849"/>
<rect x="488.5" y="221.1" width="17.1" height="20.2" fill="#cc4c44"/>
<rect x="505.0" y="221.1" width="33.6" height="20.2" fill="#c43b3c"/>
<rect x="538.0" y="221.1" width="17.1" height="20.2" fill="#bf3338"/>
<rect x="554.5" y="221.1" width="17.1" height="20.2" fill="#bb2a34"/>
<rect x="571.0" y="221.1" width="17.1" height="20.2" fill="#b61f2e"/>
<rect x="587.5" y="221.1" width="50.1" height="20.2" fill="#bb2a34"/>
<rect x="637.0" y="221.1" width="116.1" height="20.2" fill="#e58368"/>
<rect x="752.5" y="221.1" width="99.6" height="20.2" fill="#e17860"/>
<rect x="92.5" y="240.7" width="149.1" height="20.2" fill="#dd7059"/>
<rect x="241.0" y="240.7" width="33.6" height="20.2" fill="#e17860"/>
<rect x="274.0" y="240.7" width="165.6" height="20.2" fill="#e58368"/>
<rect x="439.0" y="240.7" width="33.6" height="20.2" fill="#dd7059"/>
<rect x="472.0" y="240.7" width="17.1" height="20.2" fill="#bf3338"/>
<rect x="488.5" y="240.7" width="17.1" height="20.2" fill="#bb2a34"/>
<rect x="505.0" y="240.7" width="17.1" height="20.2" fill="#b61f2e"/>
<rect x="521.5" y="240.7" width="33.6" height="20.2" fill="#bb2a34"/>
<rect x="554.5" y="240.7" width="17.1" height="20.2" fill="#bf3338"/>
<rect x="571.0" y="240.7" width="33.6" height="20.2" fill="#c43b3c"/>
<rect x="604.0" y="240.7" width="33.6" height="20.2" fill="#c84440"/>
<rect x="637.0" y="240.7" width="116.1" height="20.2" fill="#e58368"/>
<rect x="752.5" y="240.7" width="99.6" height="20.2" fill="#e17860"/>
<rect x="92.5" y="260.3" width="149.1" height="20.2" fill="#dd7059"/>
<rect x="241.0" y="260.3" width="33.6" height="20.2" fill="#e17860"/>
<rect x="274.0" y="260.3" width="17.1" height="20.2" fill="#dd7059"/>
<rect x="290.5" y="260.3" width="116.1" height="20.2" fill="#e58368"/>
<rect x="406.0" y="260.3" width="50.1" height="20.2" fill="#dd7059"/>
<rect x="455.5" y="260.3" width="17.1" height="20.2" fill="#d6604d"/>
<rect x="472.0" y="260.3" width="50.1" height="20.2" fill="#bf3338"/>
<rect x="521.5" y="260.3" width="17.1" height="20.2" fill="#bb2a34"/>
<rect x="538.0" y="260.3" width="17.1" height="20.2" fill="#bf3338"/>
<rect x="554.5" y="260.3" width="17.1" height="20.2" fill="#c84440"/>
<rect x="571.0" y="260.3" width="17.1" height="20.2" fill="#d25849"/>
<rect x="587.5" y="260.3" width="33.6" height="20.2" fill="#c43b3c"/>
<rect x="620.5" y="260.3" width="132.6" height="20.2" fill="#e58368"/>
<rect x="752.5" y="260.3" width="99.6" height="20.2" fill="#e17860"/>
<rect x="92.5" y="280.0" width="149.1" height="20.2" fill="#dd7059"/>
<rect x="241.0" y="280.0" width="33.6" height="20.2" fill="#e17860"/>
<rect x="274.0" y="280.0" width="33.6" height="20.2" fill="#dd7059"/>
<rect x="307.0" y="280.0" width="66.6" height="20.2" fill="#e58368"/>
<rect x="373.0" y="280.0" width="33.6" height="20.2" fill="#dd7059"/>
<rect x="406.0" y="280.0" width="33.6" height="20.2" fill="#cc4c44"/>
<rect x="439.0" y="280.0" width="17.1" height="20.2" fill="#d25849"/>
<rect x="455.5" y="280.0" width="17.1" height="20.2" fill="#c43b3c"/>
<rect x="472.0" y="280.0" width="17.1" height="20.2" fill="#bf3338"/>
<rect x="488.5" y="280.0" width="17.1" height="20.2" fill="#c43b3c"/>
<rect x="505.0" y="280.0" width="33.6" height="20.2" fill="#c84440"/>
<rect x="538.0" y="280.0" width="17.1" height="20.2" fill="#dd7059"/>
<rect x="554.5" y="280.0" width="17.1" height="20.2" fill="#e58368"/>
<rect x="571.0" y="280.0" width="17.1" height="20.2" fill="#e98b6e"/>
<rect x="587.5" y="280.0" width="33.6" height="20.2" fill="#ec9374"/>
<rect x="620.5" y="280.0" width="33.6" height="20.2" fill="#e98b6e"/>
<rect x="653.5" y="280.0" width="33.6" height="20.2" fill="#e58368"/>
<rect x="686.5" y="280.0" width="17.1" height="20.2" fill="#e17860"/>
<rect x="703.0" y="280.0" width="83.1" height="20.2" fill="#e58368"/>
<rect x="785.5" y="280.0" width="33.6" height="20.2" fill="#e17860"/>
<rect x="818.5" y="280.0" width="33.6" height="20.2" fill="#e58368"/>
<rect x="92.5" y="299.6" width="149.1" height="20.2" fill="#dd7059"/>
<rect x="241.0" y="299.6" width="33.6" height="20.2" fill="#e17860"/>
<rect x="274.0" y="299.6" width="50.1" height="20.2" fill="#dd7059"/>
<rect x="323.5" y="299.6" width="50.1" height="20.2" fill="#e17860"/>
<rect x="373.0" y="299.6" width="33.6" height="20.2" fill="#dd7059"/>
<rect x="406.0" y="299.6" width="17.1" height="20.2" fill="#cc4c44"/>
<rect x="422.5" y="299.6" width="17.1" height="20.2" fill="#c84440"/>
<rect x="439.0" y="299.6" width="66.6" height="20.2" fill="#c43b3c"/>
<rect x="505.0" y="299.6" width="17.1" height="20.2" fill="#c84440"/>
<rect x="521.5" y="299.6" width="17.1" height="20.2" fill="#e58368"/>
<rect x="538.0" y="299.6" width="17.1" height="20.2" fill="#dd7059"/>
<rect x="554.5" y="299.6" width="33.6" height="20.2" fill="#e58368"/>
<rect x="587.5" y="299.6" width="17.1" height="20.2" fill="#e17860"/>
<rect x="604.0" y="299.6" width="17.1" height="20.2" fill="#ec9374"/>
<rect x="620.5" y="299.6" width="17.1" height="20.2" fill="#f09c7b"/>
<rect x="637.0" y="299.6" width="17.1" height="20.2" fill="#ec9374"/>
<rect x="653.5" y="299.6" width="17.1" height="20.2" fill="#e17860"/>
<rect x="670.0" y="299.6" width="17.1" height="20.2" fill="#e58368"/>
<rect x="686.5" y="299.6" width="83.1" height="20.2" fill="#e17860"/>
<rect x="769.0" y="299.6" width="83.1" height="20.2" fill="#e58368"/>
<rect x="92.5" y="319.3" width="116.1" height="20.2" fill="#dd7059"/>
<rect x="208.0" y="319.3" width="17.1" height="20.2" fill="#d6604d"/>
<rect x="224.5" y="319.3" width="17.1" height="20.2" fill="#dd7059"/>
<rect x="241.0" y="319.3" width="17.1" height="20.2" fill="#d6604d"/>
<rect x="257.5" y="319.3" width="50.1" height="20.2" fill="#dd7059"/>
<rect x="307.0" y="319.3" width="17.1" height="20.2" fill="#da6853"/>
<rect x="323.5" y="319.3" width="83.1" height="20.2" fill="#dd7059"/>
<rect x="406.0" y="319.3" width="66.6" height="20.2" fill="#c43b3c"/>
<rect x="472.0" y="319.3" width="50.1" height="20.2" fill="#c84440"/>
<rect x="521.5" y="319.3" width="17.1" height="20.2" fill="#e58368"/>
<rect x="538.0" y="319.3" width="17.1" height="20.2" fill="#e98b6e"/>
<rect x="554.5" y="319.3" width="33.6" height="20.2" fill="#e17860"/>
<rect x="587.5" y="319.3" width="17.1" height="20.2" fill="#dd7059"/>
<rect x="604.0" y="319.3" width="17.1" height="20.2" fill="#e98b6e"/>
<rect x="620.5" y="319.3" width="66.6" height="20.2" fill="#ec9374"/>
<rect x="686.5" y="319.3" width="17.1" height="20.2" fill="#e58368"/>
<rect x="703.0" y="319.3" width="17.1" height="20.2" fill="#e17860"/>
<rect x="719.5" y="319.3" width="17.1" height="20.2" fill="#e98b6e"/>
<rect x="736.0" y="319.3" width="33.6" height="20.2" fill="#e17860"/>
<rect x="769.0" y="319.3" width="33.6" height="20.2" fill="#e58368"/>
<rect x="802.0" y="319.3" width="33.6" height="20.2" fill="#e98b6e"/>
<rect x="835.0" y="319.3" width="17.1" height="20.2" fill="#ec9374"/>
<rect x="92.5" y="338.9" width="116.1" height="20.2" fill="#dd7059"/>
<rect x="208.0" y="338.9" width="17.1" height="20.2" fill="#da6853"/>
<rect x="224.5" y="338.9" width="33.6" height="20.2" fill="#d6604d"/>
<rect x="257.5" y="338.9" width="149.1" height="20.2" fill="#dd7059"/>
<rect x="406.0" y="338.9" width="17.1" height="20.2" fill="#cc4c44"/>
<rect x="422.5" y="338.9" width="17.1" height="20.2" fill="#d25849"/>
<rect x="439.0" y="338.9" width="17.1" height="20.2" fill="#c84440"/>
<rect x="455.5" y="338.9" width="17.1" height="20.2" fill="#c43b3c"/>
<rect x="472.0" y="338.9" width="17.1" height="20.2" fill="#bf3338"/>
<rect x="488.5" y="338.9" width="17.1" height="20.2" fill="#c43b3c"/>
<rect x="505.0" y="338.9" width="17.1" height="20.2" fill="#c84440"/>
<rect x="521.5" y="338.9" width="17.1" height="20.2" fill="#dd7059"/>
<rect x="538.0" y="338.9" width="50.1" height="20.2" fill="#e17860"/>
<rect x="587.5" y="338.9" width="17.1" height="20.2" fill="#dd7059"/>
<rect x="604.0" y="338.9" width="17.1" height="20.2" fill="#e98b6e"/>
<rect x="620.5" y="338.9" width="66.6" height="20.2" fill="#ec9374"/>
<rect x="686.5" y="338.9" width="66.6" height="20.2" fill="#e58368"/>
<rect x="752.5" y="338.9" width="17.1" height="20.2" fill="#e98b6e"/>
<rect x="769.0" y="338.9" width="83.1" height="20.2" fill="#ec9374"/>
<rect x="92.5" y="358.5" width="83.1" height="20.2" fill="#e58368"/>
<rect x="175.0" y="358.5" width="17.1" height="20.2" fill="#e17860"/>
<rect x="191.5" y="358.5" width="17.1" height="20.2" fill="#dd7059"/>
<rect x="208.0" y="358.5" width="17.1" height="20.2" fill="#da6853"/>
<rect x="224.5" y="358.5" width="50.1" height="20.2" fill="#d6604d"/>
<rect x="274.0" y="358.5" width="17.1" height="20.2" fill="#d25849"/>
<rect x="290.5" y="358.5" width="116.1" height="20.2" fill="#d6604d"/>
<rect x="406.0" y="358.5" width="17.1" height="20.2" fill="#c84440"/>
<rect x="422.5" y="358.5" width="17.1" height="20.2" fill="#cc4c44"/>
<rect x="439.0" y="358.5" width="33.6" height="20.2" fill="#c84440"/>
<rect x="472.0" y="358.5" width="66.6" height="20.2" fill="#c43b3c"/>
<rect x="538.0" y="358.5" width="50.1" height="20.2" fill="#e17860"/>
<rect x="587.5" y="358.5" width="17.1" height="20.2" fill="#e58368"/>
<rect x="604.0" y="358.5" width="17.1" height="20.2" fill="#e98b6e"/>
<rect x="620.5" y="358.5" width="33.6" height="20.2" fill="#f09c7b"/>
<rect x="653.5" y="358.5" width="149.1" height="20.2" fill="#ec9374"/>
<rect x="802.0" y="358.5" width="17.1" height="20.2" fill="#f09c7b"/>
<rect x="818.5" y="358.5" width="33.6" height="20.2" fill="#f3a481"/>
<rect x="92.5" y="378.2" width="99.6" height="20.2" fill="#e58368"/>
<rect x="191.5" y="378.2" width="17.1" height="20.2" fill="#dd7059"/>
<rect x="208.0" y="378.2" width="17.1" height="20.2" fill="#d6604d"/>
<rect x="224.5" y="378.2" width="17.1" height="20.2" fill="#dd7059"/>
<rect x="241.0" y="378.2" width="17.1" height="20.2" fill="#e17860"/>
<rect x="257.5" y="378.2" width="17.1" height="20.2" fill="#dd7059"/>
<rect x="274.0" y="378.2" width="33.6" height="20.2" fill="#da6853"/>
<rect x="307.0" y="378.2" width="17.1" height="20.2" fill="#dd7059"/>
<rect x="323.5" y="378.2" width="17.1" height="20.2" fill="#d6604d"/>
<rect x="340.0" y="378.2" width="17.1" height="20.2" fill="#d25849"/>
<rect x="356.5" y="378.2" width="50.1" height="20.2" fill="#d6604d"/>
<rect x="406.0" y="378.2" width="17.1" height="20.2" fill="#cc4c44"/>
<rect x="422.5" y="378.2" width="50.1" height="20.2" fill="#c84440"/>
<rect x="472.0" y="378.2" width="17.1" height="20.2" fill="#cc4c44"/>
<rect x="488.5" y="378.2" width="17.1" height="20.2" fill="#c84440"/>
<rect x="505.0" y="378.2" width="33.6" height="20.2" fill="#c43b3c"/>
<rect x="538.0" y="378.2" width="66.6" height="20.2" fill="#e58368"/>
<rect x="604.0" y="378.2" width="17.1" height="20.2" fill="#e98b6e"/>
<rect x="620.5" y="378.2" width="17.1" height="20.2" fill="#ec9374"/>
<rect x="637.0" y="378.2" width="165.6" height="20.2" fill="#f09c7b"/>
<rect x="802.0" y="378.2" width="50.1" height="20.2" fill="#ec9374"/>
<rect x="92.5" y="397.8" width="99.6" height="20.2" fill="#dd7059"/>
<rect x="191.5" y="397.8" width="17.1" height="20.2" fill="#e17860"/>
<rect x="208.0" y="397.8" width="17.1" height="20.2" fill="#dd7059"/>
<rect x="224.5" y="397.8" width="33.6" height="20.2" fill="#d6604d"/>
<rect x="257.5" y="397.8" width="17.1" height="20.2" fill="#da6853"/>
<rect x="274.0" y="397.8" width="33.6" height="20.2" fill="#e17860"/>
<rect x="307.0" y="397.8" width="17.1" height="20.2" fill="#dd7059"/>
<rect x="323.5" y="397.8" width="17.1" height="20.2" fill="#da6853"/>
<rect x="340.0" y="397.8" width="17.1" height="20.2" fill="#d25849"/>
<rect x="356.5" y="397.8" width="33.6" height="20.2" fill="#d6604d"/>
<rect x="389.5" y="397.8" width="17.1" height="20.2" fill="#d25849"/>
<rect x="406.0" y="397.8" width="33.6" height="20.2" fill="#cc4c44"/>
<rect x="439.0" y="397.8" width="33.6" height="20.2" fill="#c84440"/>
<rect x="472.0" y="397.8" width="17.1" height="20.2" fill="#cc4c44"/>
<rect x="488.5" y="397.8" width="66.6" height="20.2" fill="#d6604d"/>
<rect x="554.5" y="397.8" width="17.1" height="20.2" fill="#f5ac8b"/>
<rect x="571.0" y="397.8" width="17.1" height="20.2" fill="#f09c7b"/>
<rect x="587.5" y="397.8" width="50.1" height="20.2" fill="#ec9374"/>
<rect x="637.0" y="397.8" width="116.1" height="20.2" fill="#f09c7b"/>
<rect x="752.5" y="397.8" width="17.1" height="20.2" fill="#f3a481"/>
<rect x="769.0" y="397.8" width="17.1" height="20.2" fill="#f09c7b"/>
<rect x="785.5" y="397.8" width="66.6" height="20.2" fill="#ec9374"/>
<rect x="92.5" y="417.5" width="99.6" height="20.2" fill="#e17860"/>
<rect x="191.5" y="417.5" width="33.6" height="20.2" fill="#dd7059"/>
<rect x="224.5" y="417.5" width="33.6" height="20.2" fill="#d25849"/>
<rect x="257.5" y="417.5" width="17.1" height="20.2" fill="#d6604d"/>
<rect x="274.0" y="417.5" width="33.6" height="20.2" fill="#dd7059"/>
<rect x="307.0" y="417.5" width="17.1" height="20.2" fill="#d25849"/>
<rect x="323.5" y="417.5" width="33.6" height="20.2" fill="#d6604d"/>
<rect x="356.5" y="417.5" width="17.1" height="20.2" fill="#da6853"/>
<rect x="373.0" y="417.5" width="17.1" height="20.2" fill="#d6604d"/>
<rect x="389.5" y="417.5" width="33.6" height="20.2" fill="#cc4c44"/>
<rect x="422.5" y="417.5" width="17.1" height="20.2" fill="#d25849"/>
<rect x="439.0" y="417.5" width="33.6" height="20.2" fill="#cc4c44"/>
<rect x="472.0" y="417.5" width="17.1" height="20.2" fill="#d6604d"/>
<rect x="488.5" y="417.5" width="17.1" height="20.2" fill="#dd7059"/>
<rect x="505.0" y="417.5" width="17.1" height="20.2" fill="#da6853"/>
<rect x="521.5" y="417.5" width="17.1" height="20.2" fill="#e17860"/>
<rect x="538.0" y="417.5" width="17.1" height="20.2" fill="#f09c7b"/>
<rect x="554.5" y="417.5" width="17.1" height="20.2" fill="#f9c6ac"/>
<rect x="571.0" y="417.5" width="17.1" height="20.2" fill="#f7b99c"/>
<rect x="587.5" y="417.5" width="17.1" height="20.2" fill="#f3a481"/>
<rect x="604.0" y="417.5" width="17.1" height="20.2" fill="#f09c7b"/>
<rect x="620.5" y="417.5" width="17.1" height="20.2" fill="#f3a481"/>
<rect x="637.0" y="417.5" width="17.1" height="20.2" fill="#f09c7b"/>
<rect x="653.5" y="417.5" width="33.6" height="20.2" fill="#f3a481"/>
<rect x="686.5" y="417.5" width="165.6" height="20.2" fill="#f09c7b"/>
<rect x="92.5" y="437.1" width="99.6" height="20.2" fill="#d6604d"/>
<rect x="191.5" y="437.1" width="17.1" height="20.2" fill="#d25849"/>
<rect x="208.0" y="437.1" width="33.6" height="20.2" fill="#d6604d"/>
<rect x="241.0" y="437.1" width="17.1" height="20.2" fill="#da6853"/>
<rect x="257.5" y="437.1" width="33.6" height="20.2" fill="#dd7059"/>
<rect x="290.5" y="437.1" width="17.1" height="20.2" fill="#e17860"/>
<rect x="307.0" y="437.1" width="17.1" height="20.2" fill="#e98b6e"/>
<rect x="323.5" y="437.1" width="17.1" height="20.2" fill="#e17860"/>
<rect x="340.0" y="437.1" width="50.1" height="20.2" fill="#dd7059"/>
<rect x="389.5" y="437.1" width="17.1" height="20.2" fill="#d6604d"/>
<rect x="406.0" y="437.1" width="17.1" height="20.2" fill="#dd7059"/>
<rect x="422.5" y="437.1" width="17.1" height="20.2" fill="#f3a481"/>
<rect x="439.0" y="437.1" width="17.1" height="20.2" fill="#f5ac8b"/>
<rect x="455.5" y="437.1" width="17.1" height="20.2" fill="#fbceb7"/>
<rect x="472.0" y="437.1" width="17.1" height="20.2" fill="#e98b6e"/>
<rect x="488.5" y="437.1" width="17.1" height="20.2" fill="#e17860"/>
<rect x="505.0" y="437.1" width="17.1" height="20.2" fill="#f3a481"/>
<rect x="521.5" y="437.1" width="17.1" height="20.2" fill="#f6b394"/>
<rect x="538.0" y="437.1" width="17.1" height="20.2" fill="#fcd5bf"/>
<rect x="554.5" y="437.1" width="17.1" height="20.2" fill="#fce2d2"/>
<rect x="571.0" y="437.1" width="17.1" height="20.2" fill="#fcdecd"/>
<rect x="587.5" y="437.1" width="17.1" height="20.2" fill="#fcd5bf"/>
<rect x="604.0" y="437.1" width="17.1" height="20.2" fill="#f7b99c"/>
<rect x="620.5" y="437.1" width="66.6" height="20.2" fill="#f3a481"/>
<rect x="686.5" y="437.1" width="17.1" height="20.2" fill="#f5ac8b"/>
<rect x="703.0" y="437.1" width="149.1" height="20.2" fill="#f3a481"/>
<rect x="92.5" y="456.7" width="83.1" height="20.2" fill="#dd7059"/>
<rect x="175.0" y="456.7" width="17.1" height="20.2" fill="#da6853"/>
<rect x="191.5" y="456.7" width="33.6" height="20.2" fill="#d25849"/>
<rect x="224.5" y="456.7" width="17.1" height="20.2" fill="#e17860"/>
<rect x="241.0" y="456.7" width="17.1" height="20.2" fill="#e58368"/>
<rect x="257.5" y="456.7" width="17.1" height="20.2" fill="#ec9374"/>
<rect x="274.0" y="456.7" width="17.1" height="20.2" fill="#f09c7b"/>
<rect x="290.5" y="456.7" width="17.1" height="20.2" fill="#f3a481"/>
<rect x="307.0" y="456.7" width="66.6" height="20.2" fill="#f6b394"/>
<rect x="373.0" y="456.7" width="17.1" height="20.2" fill="#f7b99c"/>
<rect x="389.5" y="456.7" width="66.6" height="20.2" fill="#fbceb7"/>
<rect x="455.5" y="456.7" width="17.1" height="20.2" fill="#fbe6da"/>
<rect x="472.0" y="456.7" width="17.1" height="20.2" fill="#f9f0eb"/>
<rect x="488.5" y="456.7" width="17.1" height="20.2" fill="#f6f7f7"/>
<rect x="505.0" y="456.7" width="17.1" height="20.2" fill="#fbe6da"/>
<rect x="521.5" y="456.7" width="17.1" height="20.2" fill="#fcdecd"/>
<rect x="538.0" y="456.7" width="17.1" height="20.2" fill="#e9f0f4"/>
<rect x="554.5" y="456.7" width="17.1" height="20.2" fill="#e4eef4"/>
<rect x="571.0" y="456.7" width="17.1" height="20.2" fill="#fbe6da"/>
<rect x="587.5" y="456.7" width="17.1" height="20.2" fill="#f7b99c"/>
<rect x="604.0" y="456.7" width="17.1" height="20.2" fill="#f6b394"/>
<rect x="620.5" y="456.7" width="231.6" height="20.2" fill="#f5ac8b"/>
<rect x="92.5" y="476.4" width="83.1" height="20.2" fill="#dd7059"/>
<rect x="175.0" y="476.4" width="33.6" height="20.2" fill="#d25849"/>
<rect x="208.0" y="476.4" width="17.1" height="20.2" fill="#dd7059"/>
<rect x="224.5" y="476.4" width="33.6" height="20.2" fill="#e17860"/>
<rect x="257.5" y="476.4" width="17.1" height="20.2" fill="#ec9374"/>
<rect x="274.0" y="476.4" width="17.1" height="20.2" fill="#f8bfa4"/>
<rect x="290.5" y="476.4" width="17.1" height="20.2" fill="#fbceb7"/>
<rect x="307.0" y="476.4" width="17.1" height="20.2" fill="#f9c6ac"/>
<rect x="323.5" y="476.4" width="17.1" height="20.2" fill="#f5ac8b"/>
<rect x="340.0" y="476.4" width="17.1" height="20.2" fill="#f8bfa4"/>
<rect x="356.5" y="476.4" width="33.6" height="20.2" fill="#fce2d2"/>
<rect x="389.5" y="476.4" width="17.1" height="20.2" fill="#fcdecd"/>
<rect x="406.0" y="476.4" width="33.6" height="20.2" fill="#fddbc7"/>
<rect x="439.0" y="476.4" width="17.1" height="20.2" fill="#fae9df"/>
<rect x="455.5" y="476.4" width="17.1" height="20.2" fill="#f9f0eb"/>
<rect x="472.0" y="476.4" width="17.1" height="20.2" fill="#fbe6da"/>
<rect x="488.5" y="476.4" width="17.1" height="20.2" fill="#f7b99c"/>
<rect x="505.0" y="476.4" width="33.6" height="20.2" fill="#e98b6e"/>
<rect x="538.0" y="476.4" width="17.1" height="20.2" fill="#fcd5bf"/>
<rect x="554.5" y="476.4" width="17.1" height="20.2" fill="#fbceb7"/>
<rect x="571.0" y="476.4" width="33.6" height="20.2" fill="#f7b99c"/>
<rect x="604.0" y="476.4" width="17.1" height="20.2" fill="#f6b394"/>
<rect x="620.5" y="476.4" width="66.6" height="20.2" fill="#f5ac8b"/>
<rect x="686.5" y="476.4" width="17.1" height="20.2" fill="#f7b99c"/>
<rect x="703.0" y="476.4" width="17.1" height="20.2" fill="#f6b394"/>
<rect x="719.5" y="476.4" width="17.1" height="20.2" fill="#f5ac8b"/>
<rect x="736.0" y="476.4" width="17.1" height="20.2" fill="#f6b394"/>
<rect x="752.5" y="476.4" width="99.6" height="20.2" fill="#f5ac8b"/>
<rect x="92.5" y="496.0" width="99.6" height="20.2" fill="#dd7059"/>
<rect x="191.5" y="496.0" width="50.1" height="20.2" fill="#e17860"/>
<rect x="241.0" y="496.0" width="17.1" height="20.2" fill="#e58368"/>
<rect x="257.5" y="496.0" width="17.1" height="20.2" fill="#e98b6e"/>
<rect x="274.0" y="496.0" width="17.1" height="20.2" fill="#f09c7b"/>
<rect x="290.5" y="496.0" width="17.1" height="20.2" fill="#ec9374"/>
<rect x="307.0" y="496.0" width="17.1" height="20.2" fill="#e58368"/>
<rect x="323.5" y="496.0" width="33.6" height="20.2" fill="#ec9374"/>
<rect x="356.5" y="496.0" width="17.1" height="20.2" fill="#f7b99c"/>
<rect x="373.0" y="496.0" width="17.1" height="20.2" fill="#fddbc7"/>
<rect x="389.5" y="496.0" width="33.6" height="20.2" fill="#f8f3f0"/>
<rect x="422.5" y="496.0" width="33.6" height="20.2" fill="#f9f0eb"/>
<rect x="455.5" y="496.0" width="17.1" height="20.2" fill="#f6b394"/>
<rect x="472.0" y="496.0" width="66.6" height="20.2" fill="#e98b6e"/>
<rect x="538.0" y="496.0" width="17.1" height="20.2" fill="#f8bfa4"/>
<rect x="554.5" y="496.0" width="17.1" height="20.2" fill="#f7b99c"/>
<rect x="571.0" y="496.0" width="17.1" height="20.2" fill="#f6b394"/>
<rect x="587.5" y="496.0" width="66.6" height="20.2" fill="#f5ac8b"/>
<rect x="653.5" y="496.0" width="17.1" height="20.2" fill="#f6b394"/>
<rect x="670.0" y="496.0" width="66.6" height="20.2" fill="#f5ac8b"/>
<rect x="736.0" y="496.0" width="17.1" height="20.2" fill="#f8bfa4"/>
<rect x="752.5" y="496.0" width="17.1" height="20.2" fill="#f7b99c"/>
<rect x="769.0" y="496.0" width="83.1" height="20.2" fill="#f6b394"/>
<rect x="92.5" y="515.7" width="66.6" height="20.2" fill="#dd7059"/>
<rect x="158.5" y="515.7" width="17.1" height="20.2" fill="#da6853"/>
<rect x="175.0" y="515.7" width="17.1" height="20.2" fill="#dd7059"/>
<rect x="191.5" y="515.7" width="17.1" height="20.2" fill="#e17860"/>
<rect x="208.0" y="515.7" width="33.6" height="20.2" fill="#e58368"/>
<rect x="241.0" y="515.7" width="17.1" height="20.2" fill="#e17860"/>
<rect x="257.5" y="515.7" width="50.1" height="20.2" fill="#e58368"/>
<rect x="307.0" y="515.7" width="17.1" height="20.2" fill="#f09c7b"/>
<rect x="323.5" y="515.7" width="17.1" height="20.2" fill="#fbceb7"/>
<rect x="340.0" y="515.7" width="50.1" height="20.2" fill="#fcd5bf"/>
<rect x="389.5" y="515.7" width="17.1" height="20.2" fill="#fcdecd"/>
<rect x="406.0" y="515.7" width="17.1" height="20.2" fill="#f3a481"/>
<rect x="422.5" y="515.7" width="50.1" height="20.2" fill="#f09c7b"/>
<rect x="472.0" y="515.7" width="33.6" height="20.2" fill="#ec9374"/>
<rect x="505.0" y="515.7" width="17.1" height="20.2" fill="#e98b6e"/>
<rect x="521.5" y="515.7" width="17.1" height="20.2" fill="#f9c6ac"/>
<rect x="538.0" y="515.7" width="33.6" height="20.2" fill="#f7b99c"/>
<rect x="571.0" y="515.7" width="17.1" height="20.2" fill="#f6b394"/>
<rect x="587.5" y="515.7" width="17.1" height="20.2" fill="#f5ac8b"/>
<rect x="604.0" y="515.7" width="17.1" height="20.2" fill="#f9c6ac"/>
<rect x="620.5" y="515.7" width="17.1" height="20.2" fill="#fce2d2"/>
<rect x="637.0" y="515.7" width="17.1" height="20.2" fill="#f8bfa4"/>
<rect x="653.5" y="515.7" width="50.1" height="20.2" fill="#f5ac8b"/>
<rect x="703.0" y="515.7" width="17.1" height="20.2" fill="#f6b394"/>
<rect x="719.5" y="515.7" width="132.6" height="20.2" fill="#f5ac8b"/>
<rect x="92.5" y="535.3" width="66.6" height="20.2" fill="#dd7059"/>
<rect x="158.5" y="535.3" width="17.1" height="20.2" fill="#da6853"/>
<rect x="175.0" y="535.3" width="33.6" height="20.2" fill="#d25849"/>
<rect x="208.0" y="535.3" width="99.6" height="20.2" fill="#d6604d"/>
<rect x="307.0" y="535.3" width="17.1" height="20.2" fill="#ec9374"/>
<rect x="323.5" y="535.3" width="33.6" height="20.2" fill="#f09c7b"/>
<rect x="356.5" y="535.3" width="17.1" height="20.2" fill="#e17860"/>
<rect x="373.0" y="535.3" width="33.6" height="20.2" fill="#f09c7b"/>
<rect x="406.0" y="535.3" width="17.1" height="20.2" fill="#ec9374"/>
<rect x="422.5" y="535.3" width="17.1" height="20.2" fill="#e98b6e"/>
<rect x="439.0" y="535.3" width="17.1" height="20.2" fill="#f09c7b"/>
<rect x="455.5" y="535.3" width="17.1" height="20.2" fill="#f6b394"/>
<rect x="472.0" y="535.3" width="17.1" height="20.2" fill="#f5ac8b"/>
<rect x="488.5" y="535.3" width="17.1" height="20.2" fill="#fcdecd"/>
<rect x="505.0" y="535.3" width="17.1" height="20.2" fill="#fcd5bf"/>
<rect x="521.5" y="535.3" width="17.1" height="20.2" fill="#fcdecd"/>
<rect x="538.0" y="535.3" width="17.1" height="20.2" fill="#fcd5bf"/>
<rect x="554.5" y="535.3" width="17.1" height="20.2" fill="#f9c6ac"/>
<rect x="571.0" y="535.3" width="17.1" height="20.2" fill="#f8bfa4"/>
<rect x="587.5" y="535.3" width="17.1" height="20.2" fill="#f8f3f0"/>
<rect x="604.0" y="535.3" width="17.1" height="20.2" fill="#dae9f2"/>
<rect x="620.5" y="535.3" width="17.1" height="20.2" fill="#f8f3f0"/>
<rect x="637.0" y="535.3" width="17.1" height="20.2" fill="#f5ac8b"/>
<rect x="653.5" y="535.3" width="17.1" height="20.2" fill="#f09c7b"/>
<rect x="670.0" y="535.3" width="17.1" height="20.2" fill="#f3a481"/>
<rect x="686.5" y="535.3" width="165.6" height="20.2" fill="#f5ac8b"/>
<rect x="92.5" y="554.9" width="50.1" height="20.2" fill="#dd7059"/>
<rect x="142.0" y="554.9" width="17.1" height="20.2" fill="#da6853"/>
<rect x="158.5" y="554.9" width="17.1" height="20.2" fill="#dd7059"/>
<rect x="175.0" y="554.9" width="116.1" height="20.2" fill="#d25849"/>
<rect x="290.5" y="554.9" width="17.1" height="20.2" fill="#da6853"/>
<rect x="307.0" y="554.9" width="17.1" height="20.2" fill="#dd7059"/>
<rect x="323.5" y="554.9" width="33.6" height="20.2" fill="#f09c7b"/>
<rect x="356.5" y="554.9" width="17.1" height="20.2" fill="#e17860"/>
<rect x="373.0" y="554.9" width="17.1" height="20.2" fill="#e98b6e"/>
<rect x="389.5" y="554.9" width="17.1" height="20.2" fill="#f09c7b"/>
<rect x="406.0" y="554.9" width="17.1" height="20.2" fill="#e98b6e"/>
<rect x="422.5" y="554.9" width="17.1" height="20.2" fill="#f09c7b"/>
<rect x="439.0" y="554.9" width="17.1" height="20.2" fill="#ec9374"/>
<rect x="455.5" y="554.9" width="17.1" height="20.2" fill="#e98b6e"/>
<rect x="472.0" y="554.9" width="17.1" height="20.2" fill="#fbceb7"/>
<rect x="488.5" y="554.9" width="66.6" height="20.2" fill="#f9c6ac"/>
<rect x="554.5" y="554.9" width="17.1" height="20.2" fill="#f8bfa4"/>
<rect x="571.0" y="554.9" width="17.1" height="20.2" fill="#fce2d2"/>
<rect x="587.5" y="554.9" width="17.1" height="20.2" fill="#fcdecd"/>
<rect x="604.0" y="554.9" width="17.1" height="20.2" fill="#f7b99c"/>
<rect x="620.5" y="554.9" width="17.1" height="20.2" fill="#f3a481"/>
<rect x="637.0" y="554.9" width="33.6" height="20.2" fill="#f09c7b"/>
<rect x="670.0" y="554.9" width="83.1" height="20.2" fill="#f3a481"/>
<rect x="752.5" y="554.9" width="99.6" height="20.2" fill="#f5ac8b"/>
<rect x="92.5" y="574.6" width="17.1" height="20.2" fill="#cc4c44"/>
<rect x="109.0" y="574.6" width="83.1" height="20.2" fill="#dd7059"/>
<rect x="191.5" y="574.6" width="17.1" height="20.2" fill="#d25849"/>
<rect x="208.0" y="574.6" width="83.1" height="20.2" fill="#c43b3c"/>
<rect x="290.5" y="574.6" width="33.6" height="20.2" fill="#d25849"/>
<rect x="323.5" y="574.6" width="17.1" height="20.2" fill="#da6853"/>
<rect x="340.0" y="574.6" width="17.1" height="20.2" fill="#e17860"/>
<rect x="356.5" y="574.6" width="17.1" height="20.2" fill="#dd7059"/>
<rect x="373.0" y="574.6" width="17.1" height="20.2" fill="#e58368"/>
<rect x="389.5" y="574.6" width="17.1" height="20.2" fill="#da6853"/>
<rect x="406.0" y="574.6" width="33.6" height="20.2" fill="#e58368"/>
<rect x="439.0" y="574.6" width="17.1" height="20.2" fill="#e17860"/>
<rect x="455.5" y="574.6" width="17.1" height="20.2" fill="#d6604d"/>
<rect x="472.0" y="574.6" width="17.1" height="20.2" fill="#e17860"/>
<rect x="488.5" y="574.6" width="17.1" height="20.2" fill="#f3a481"/>
<rect x="505.0" y="574.6" width="33.6" height="20.2" fill="#f5ac8b"/>
<rect x="538.0" y="574.6" width="17.1" height="20.2" fill="#f9c6ac"/>
<rect x="554.5" y="574.6" width="17.1" height="20.2" fill="#f5ac8b"/>
<rect x="571.0" y="574.6" width="83.1" height="20.2" fill="#f09c7b"/>
<rect x="653.5" y="574.6" width="99.6" height="20.2" fill="#f3a481"/>
<rect x="752.5" y="574.6" width="99.6" height="20.2" fill="#f5ac8b"/>
<rect x="92.5" y="594.2" width="33.6" height="20.2" fill="#cc4c44"/>
<rect x="125.5" y="594.2" width="33.6" height="20.2" fill="#e17860"/>
<rect x="158.5" y="594.2" width="17.1" height="20.2" fill="#dd7059"/>
<rect x="175.0" y="594.2" width="99.6" height="20.2" fill="#d6604d"/>
<rect x="274.0" y="594.2" width="66.6" height="20.2" fill="#d25849"/>
<rect x="340.0" y="594.2" width="17.1" height="20.2" fill="#cc4c44"/>
<rect x="356.5" y="594.2" width="17.1" height="20.2" fill="#e17860"/>
<rect x="373.0" y="594.2" width="17.1" height="20.2" fill="#dd7059"/>
<rect x="389.5" y="594.2" width="17.1" height="20.2" fill="#da6853"/>
<rect x="406.0" y="594.2" width="33.6" height="20.2" fill="#d6604d"/>
<rect x="439.0" y="594.2" width="17.1" height="20.2" fill="#d25849"/>
<rect x="455.5" y="594.2" width="17.1" height="20.2" fill="#cc4c44"/>
<rect x="472.0" y="594.2" width="33.6" height="20.2" fill="#f5ac8b"/>
<rect x="505.0" y="594.2" width="33.6" height="20.2" fill="#f3a481"/>
<rect x="538.0" y="594.2" width="50.1" height="20.2" fill="#f09c7b"/>
<rect x="587.5" y="594.2" width="17.1" height="20.2" fill="#ec9374"/>
<rect x="604.0" y="594.2" width="50.1" height="20.2" fill="#f09c7b"/>
<rect x="653.5" y="594.2" width="99.6" height="20.2" fill="#f3a481"/>
<rect x="752.5" y="594.2" width="99.6" height="20.2" fill="#f5ac8b"/>
<rect x="92.5" y="613.9" width="66.6" height="20.2" fill="#c84440"/>
<rect x="158.5" y="613.9" width="182.1" height="20.2" fill="#cc4c44"/>
<rect x="340.0" y="613.9" width="17.1" height="20.2" fill="#c43b3c"/>
<rect x="356.5" y="613.9" width="33.6" height="20.2" fill="#d25849"/>
<rect x="389.5" y="613.9" width="17.1" height="20.2" fill="#da6853"/>
<rect x="406.0" y="613.9" width="17.1" height="20.2" fill="#d6604d"/>
<rect x="422.5" y="613.9" width="33.6" height="20.2" fill="#d25849"/>
<rect x="455.5" y="613.9" width="17.1" height="20.2" fill="#e98b6e"/>
<rect x="472.0" y="613.9" width="66.6" height="20.2" fill="#f09c7b"/>
<rect x="538.0" y="613.9" width="17.1" height="20.2" fill="#f3a481"/>
<rect x="554.5" y="613.9" width="99.6" height="20.2" fill="#f09c7b"/>
<rect x="653.5" y="613.9" width="99.6" height="20.2" fill="#f3a481"/>
<rect x="752.5" y="613.9" width="99.6" height="20.2" fill="#f5ac8b"/>
<rect x="92.5" y="633.5" width="264.6" height="20.2" fill="#c43b3c"/>
<rect x="356.5" y="633.5" width="99.6" height="20.2" fill="#d6604d"/>
<rect x="455.5" y="633.5" width="17.1" height="20.2" fill="#e98b6e"/>
<rect x="472.0" y="633.5" width="149.1" height="20.2" fill="#f3a481"/>
<rect x="620.5" y="633.5" width="17.1" height="20.2" fill="#f09c7b"/>
<rect x="637.0" y="633.5" width="132.6" height="20.2" fill="#f3a481"/>
<rect x="769.0" y="633.5" width="83.1" height="20.2" fill="#f5ac8b"/>
<rect x="92.5" y="653.1" width="248.1" height="20.2" fill="#c43b3c"/>
<rect x="340.0" y="653.1" width="116.1" height="20.2" fill="#d6604d"/>
<rect x="455.5" y="653.1" width="17.1" height="20.2" fill="#e98b6e"/>
<rect x="472.0" y="653.1" width="50.1" height="20.2" fill="#f3a481"/>
<rect x="521.5" y="653.1" width="17.1" height="20.2" fill="#f5ac8b"/>
<rect x="538.0" y="653.1" width="83.1" height="20.2" fill="#f3a481"/>
<rect x="620.5" y="653.1" width="17.1" height="20.2" fill="#f09c7b"/>
<rect x="637.0" y="653.1" width="149.1" height="20.2" fill="#f3a481"/>
<rect x="785.5" y="653.1" width="66.6" height="20.2" fill="#f5ac8b"/>
<rect x="92.5" y="672.8" width="248.1" height="20.2" fill="#c43b3c"/>
<rect x="340.0" y="672.8" width="116.1" height="20.2" fill="#d6604d"/>
<rect x="455.5" y="672.8" width="17.1" height="20.2" fill="#e98b6e"/>
<rect x="472.0" y="672.8" width="50.1" height="20.2" fill="#f3a481"/>
<rect x="521.5" y="672.8" width="33.6" height="20.2" fill="#f5ac8b"/>
<rect x="554.5" y="672.8" width="83.1" height="20.2" fill="#f3a481"/>
<rect x="637.0" y="672.8" width="215.1" height="20.2" fill="#f5ac8b"/>
<rect x="92.5" y="692.4" width="248.1" height="20.2" fill="#c43b3c"/>
<rect x="340.0" y="692.4" width="116.1" height="20.2" fill="#d6604d"/>
<rect x="455.5" y="692.4" width="17.1" height="20.2" fill="#e98b6e"/>
<rect x="472.0" y="692.4" width="50.1" height="20.2" fill="#f3a481"/>
<rect x="521.5" y="692.4" width="33.6" height="20.2" fill="#f5ac8b"/>
<rect x="554.5" y="692.4" width="17.1" height="20.2" fill="#f3a481"/>
<rect x="571.0" y="692.4" width="281.1" height="20.2" fill="#f5ac8b"/>
<rect x="92.5" y="712.1" width="248.1" height="20.2" fill="#c43b3c"/>
<rect x="340.0" y="712.1" width="116.1" height="20.2" fill="#d6604d"/>
<rect x="455.5" y="712.1" width="17.1" height="20.2" fill="#e98b6e"/>
<rect x="472.0" y="712.1" width="50.1" height="20.2" fill="#f3a481"/>
<rect x="521.5" y="712.1" width="33.6" height="20.2" fill="#f5ac8b"/>
<rect x="554.5" y="712.1" width="17.1" height="20.2" fill="#f3a481"/>
<rect x="571.0" y="712.1" width="99.6" height="20.2" fill="#f6b394"/>
<rect x="670.0" y="712.1" width="182.1" height="20.2" fill="#f7b99c"/>
<rect x="92.5" y="731.7" width="248.1" height="20.2" fill="#c43b3c"/>
<rect x="340.0" y="731.7" width="116.1" height="20.2" fill="#d6604d"/>
<rect x="455.5" y="731.7" width="17.1" height="20.2" fill="#e98b6e"/>
<rect x="472.0" y="731.7" width="50.1" height="20.2" fill="#f3a481"/>
<rect x="521.5" y="731.7" width="33.6" height="20.2" fill="#f5ac8b"/>
<rect x="554.5" y="731.7" width="17.1" height="20.2" fill="#f3a481"/>
<rect x="571.0" y="731.7" width="281.1" height="20.2" fill="#f7b99c"/>
</g>
<use href="#basin" fill="none" stroke="#000" stroke-width="5.2" stroke-linejoin="round"/>
<rect x="76.5" y="85.5" width="791.6" height="684.9" fill="none" stroke="#000" stroke-width="5"/>
<text transform="translate(91.3 155.2) scale(0.955 1)" font-size="50" font-weight="bold">(c)</text>
</g>
<g transform="translate(813.7 706.0)">
<g clip-path="url(#clip)" shape-rendering="crispEdges">
<rect x="92.5" y="103.2" width="281.1" height="20.2" fill="#c43b3c"/>
<rect x="373.0" y="103.2" width="99.6" height="20.2" fill="#c84440"/>
<rect x="472.0" y="103.2" width="17.1" height="20.2" fill="#bf3338"/>
<rect x="488.5" y="103.2" width="99.6" height="20.2" fill="#c43b3c"/>
<rect x="587.5" y="103.2" width="83.1" height="20.2" fill="#8a0b25"/>
<rect x="670.0" y="103.2" width="83.1" height="20.2" fill="#c43b3c"/>
<rect x="752.5" y="103.2" width="33.6" height="20.2" fill="#bf3338"/>
<rect x="785.5" y="103.2" width="33.6" height="20.2" fill="#b61f2e"/>
<rect x="818.5" y="103.2" width="33.6" height="20.2" fill="#bb2a34"/>
<rect x="92.5" y="122.9" width="99.6" height="20.2" fill="#c84440"/>
<rect x="191.5" y="122.9" width="182.1" height="20.2" fill="#c43b3c"/>
<rect x="373.0" y="122.9" width="50.1" height="20.2" fill="#c84440"/>
<rect x="422.5" y="122.9" width="17.1" height="20.2" fill="#c43b3c"/>
<rect x="439.0" y="122.9" width="33.6" height="20.2" fill="#c84440"/>
<rect x="472.0" y="122.9" width="99.6" height="20.2" fill="#c43b3c"/>
<rect x="571.0" y="122.9" width="99.6" height="20.2" fill="#8a0b25"/>
<rect x="670.0" y="122.9" width="83.1" height="20.2" fill="#c43b3c"/>
<rect x="752.5" y="122.9" width="33.6" height="20.2" fill="#bf3338"/>
<rect x="785.5" y="122.9" width="33.6" height="20.2" fill="#b61f2e"/>
<rect x="818.5" y="122.9" width="33.6" height="20.2" fill="#bb2a34"/>
<rect x="92.5" y="142.5" width="99.6" height="20.2" fill="#c84440"/>
<rect x="191.5" y="142.5" width="33.6" height="20.2" fill="#bf3338"/>
<rect x="224.5" y="142.5" width="149.1" height="20.2" fill="#c43b3c"/>
<rect x="373.0" y="142.5" width="17.1" height="20.2" fill="#c84440"/>
<rect x="389.5" y="142.5" width="17.1" height="20.2" fill="#c43b3c"/>
<rect x="406.0" y="142.5" width="33.6" height="20.2" fill="#bf3338"/>
<rect x="439.0" y="142.5" width="17.1" height="20.2" fill="#c43b3c"/>
<rect x="455.5" y="142.5" width="17.1" height="20.2" fill="#c84440"/>
<rect x="472.0" y="142.5" width="17.1" height="20.2" fill="#d25849"/>
<rect x="488.5" y="142.5" width="66.6" height="20.2" fill="#c84440"/>
<rect x="554.5" y="142.5" width="17.1" height="20.2" fill="#9f1228"/>
<rect x="571.0" y="142.5" width="99.6" height="20.2" fill="#8a0b25"/>
<rect x="670.0" y="142.5" width="83.1" height="20.2" fill="#c43b3c"/>
<rect x="752.5" y="142.5" width="33.6" height="20.2" fill="#bf3338"/>
<rect x="785.5" y="142.5" width="33.6" height="20.2" fill="#b61f2e"/>
<rect x="818.5" y="142.5" width="33.6" height="20.2" fill="#bb2a34"/>
<rect x="92.5" y="162.1" width="99.6" height="20.2" fill="#c84440"/>
<rect x="191.5" y="162.1" width="50.1" height="20.2" fill="#bf3338"/>
<rect x="241.0" y="162.1" width="132.6" height="20.2" fill="#d25849"/>
<rect x="373.0" y="162.1" width="17.1" height="20.2" fill="#c84440"/>
<rect x="389.5" y="162.1" width="17.1" height="20.2" fill="#cc4c44"/>
<rect x="406.0" y="162.1" width="50.1" height="20.2" fill="#c84440"/>
<rect x="455.5" y="162.1" width="17.1" height="20.2" fill="#c43b3c"/>
<rect x="472.0" y="162.1" width="17.1" height="20.2" fill="#bf3338"/>
<rect x="488.5" y="162.1" width="50.1" height="20.2" fill="#c84440"/>
<rect x="538.0" y="162.1" width="33.6" height="20.2" fill="#9f1228"/>
<rect x="571.0" y="162.1" width="99.6" height="20.2" fill="#8a0b25"/>
<rect x="670.0" y="162.1" width="83.1" height="20.2" fill="#c43b3c"/>
<rect x="752.5" y="162.1" width="33.6" height="20.2" fill="#bf3338"/>
<rect x="785.5" y="162.1" width="33.6" height="20.2" fill="#b61f2e"/>
<rect x="818.5" y="162.1" width="33.6" height="20.2" fill="#bb2a34"/>
<rect x="92.5" y="181.8" width="99.6" height="20.2" fill="#c84440"/>
<rect x="191.5" y="181.8" width="50.1" height="20.2" fill="#bf3338"/>
<rect x="241.0" y="181.8" width="116.1" height="20.2" fill="#c43b3c"/>
<rect x="356.5" y="181.8" width="66.6" height="20.2" fill="#c84440"/>
<rect x="422.5" y="181.8" width="66.6" height="20.2" fill="#c43b3c"/>
<rect x="488.5" y="181.8" width="17.1" height="20.2" fill="#c84440"/>
<rect x="505.0" y="181.8" width="17.1" height="20.2" fill="#b1182b"/>
<rect x="521.5" y="181.8" width="17.1" height="20.2" fill="#a81529"/>
<rect x="538.0" y="181.8" width="33.6" height="20.2" fill="#9f1228"/>
<rect x="571.0" y="181.8" width="99.6" height="20.2" fill="#8a0b25"/>
<rect x="670.0" y="181.8" width="83.1" height="20.2" fill="#c43b3c"/>
<rect x="752.5" y="181.8" width="33.6" height="20.2" fill="#bf3338"/>
<rect x="785.5" y="181.8" width="33.6" height="20.2" fill="#b61f2e"/>
<rect x="818.5" y="181.8" width="33.6" height="20.2" fill="#bb2a34"/>
<rect x="92.5" y="201.4" width="99.6" height="20.2" fill="#c84440"/>
<rect x="191.5" y="201.4" width="50.1" height="20.2" fill="#bf3338"/>
<rect x="241.0" y="201.4" width="116.1" height="20.2" fill="#bb2a34"/>
<rect x="356.5" y="201.4" width="17.1" height="20.2" fill="#c43b3c"/>
<rect x="373.0" y="201.4" width="17.1" height="20.2" fill="#c84440"/>
<rect x="389.5" y="201.4" width="17.1" height="20.2" fill="#bf3338"/>
<rect x="406.0" y="201.4" width="17.1" height="20.2" fill="#c43b3c"/>
<rect x="422.5" y="201.4" width="17.1" height="20.2" fill="#c84440"/>
<rect x="439.0" y="201.4" width="17.1" height="20.2" fill="#c43b3c"/>
<rect x="455.5" y="201.4" width="33.6" height="20.2" fill="#bf3338"/>
<rect x="488.5" y="201.4" width="17.1" height="20.2" fill="#cc4c44"/>
<rect x="505.0" y="201.4" width="33.6" height="20.2" fill="#a81529"/>
<rect x="538.0" y="201.4" width="17.1" height="20.2" fill="#960f27"/>
<rect x="554.5" y="201.4" width="99.6" height="20.2" fill="#8a0b25"/>
<rect x="653.5" y="201.4" width="99.6" height="20.2" fill="#c43b3c"/>
<rect x="752.5" y="201.4" width="33.6" height="20.2" fill="#bf3338"/>
<rect x="785.5" y="201.4" width="33.6" height="20.2" fill="#b61f2e"/>
<rect x="818.5" y="201.4" width="33.6" height="20.2" fill="#bb2a34"/>
<rect x="92.5" y="221.1" width="99.6" height="20.2" fill="#c84440"/>
<rect x="191.5" y="221.1" width="50.1" height="20.2" fill="#bf3338"/>
<rect x="241.0" y="221.1" width="17.1" height="20.2" fill="#bb2a34"/>
<rect x="257.5" y="221.1" width="83.1" height="20.2" fill="#c43b3c"/>
<rect x="340.0" y="221.1" width="66.6" height="20.2" fill="#bf3338"/>
<rect x="406.0" y="221.1" width="17.1" height="20.2" fill="#c84440"/>
<rect x="422.5" y="221.1" width="17.1" height="20.2" fill="#c43b3c"/>
<rect x="439.0" y="221.1" width="50.1" height="20.2" fill="#bf3338"/>
<rect x="488.5" y="221.1" width="17.1" height="20.2" fill="#a81529"/>
<rect x="505.0" y="221.1" width="33.6" height="20.2" fill="#960f27"/>
<rect x="538.0" y="221.1" width="17.1" height="20.2" fill="#810823"/>
<rect x="554.5" y="221.1" width="33.6" height="20.2" fill="#700320"/>
<rect x="587.5" y="221.1" width="66.6" height="20.2" fill="#790622"/>
<rect x="653.5" y="221.1" width="99.6" height="20.2" fill="#c43b3c"/>
<rect x="752.5" y="221.1" width="33.6" height="20.2" fill="#bf3338"/>
<rect x="785.5" y="221.1" width="33.6" height="20.2" fill="#b61f2e"/>
<rect x="818.5" y="221.1" width="33.6" height="20.2" fill="#bb2a34"/>
<rect x="92.5" y="240.7" width="99.6" height="20.2" fill="#c84440"/>
<rect x="191.5" y="240.7" width="50.1" height="20.2" fill="#bf3338"/>
<rect x="241.0" y="240.7" width="17.1" height="20.2" fill="#bb2a34"/>
<rect x="257.5" y="240.7" width="17.1" height="20.2" fill="#bf3338"/>
<rect x="274.0" y="240.7" width="66.6" height="20.2" fill="#c84440"/>
<rect x="340.0" y="240.7" width="17.1" height="20.2" fill="#bf3338"/>
<rect x="356.5" y="240.7" width="17.1" height="20.2" fill="#b61f2e"/>
<rect x="373.0" y="240.7" width="17.1" height="20.2" fill="#bf3338"/>
<rect x="389.5" y="240.7" width="33.6" height="20.2" fill="#c43b3c"/>
<rect x="422.5" y="240.7" width="33.6" height="20.2" fill="#c84440"/>
<rect x="455.5" y="240.7" width="17.1" height="20.2" fill="#bf3338"/>
<rect x="472.0" y="240.7" width="17.1" height="20.2" fill="#a81529"/>
<rect x="488.5" y="240.7" width="50.1" height="20.2" fill="#9f1228"/>
<rect x="538.0" y="240.7" width="17.1" height="20.2" fill="#810823"/>
<rect x="554.5" y="240.7" width="83.1" height="20.2" fill="#700320"/>
<rect x="637.0" y="240.7" width="116.1" height="20.2" fill="#c43b3c"/>
<rect x="752.5" y="240.7" width="33.6" height="20.2" fill="#bf3338"/>
<rect x="785.5" y="240.7" width="33.6" height="20.2" fill="#b61f2e"/>
<rect x="818.5" y="240.7" width="33.6" height="20.2" fill="#bb2a34"/>
<rect x="92.5" y="260.3" width="99.6" height="20.2" fill="#c84440"/>
<rect x="191.5" y="260.3" width="50.1" height="20.2" fill="#bf3338"/>
<rect x="241.0" y="260.3" width="17.1" height="20.2" fill="#bb2a34"/>
<rect x="257.5" y="260.3" width="33.6" height="20.2" fill="#bf3338"/>
<rect x="290.5" y="260.3" width="83.1" height="20.2" fill="#c84440"/>
<rect x="373.0" y="260.3" width="66.6" height="20.2" fill="#c43b3c"/>
<rect x="439.0" y="260.3" width="17.1" height="20.2" fill="#c84440"/>
<rect x="455.5" y="260.3" width="17.1" height="20.2" fill="#bf3338"/>
<rect x="472.0" y="260.3" width="66.6" height="20.2" fill="#a81529"/>
<rect x="538.0" y="260.3" width="17.1" height="20.2" fill="#8a0b25"/>
<rect x="554.5" y="260.3" width="33.6" height="20.2" fill="#810823"/>
<rect x="587.5" y="260.3" width="33.6" height="20.2" fill="#700320"/>
<rect x="620.5" y="260.3" width="132.6" height="20.2" fill="#c43b3c"/>
<rect x="752.5" y="260.3" width="33.6" height="20.2" fill="#bf3338"/>
<rect x="785.5" y="260.3" width="33.6" height="20.2" fill="#b61f2e"/>
<rect x="818.5" y="260.3" width="33.6" height="20.2" fill="#bb2a34"/>
<rect x="92.5" y="280.0" width="99.6" height="20.2" fill="#c84440"/>
<rect x="191.5" y="280.0" width="50.1" height="20.2" fill="#bf3338"/>
<rect x="241.0" y="280.0" width="17.1" height="20.2" fill="#bb2a34"/>
<rect x="257.5" y="280.0" width="50.1" height="20.2" fill="#bf3338"/>
<rect x="307.0" y="280.0" width="33.6" height="20.2" fill="#c43b3c"/>
<rect x="340.0" y="280.0" width="99.6" height="20.2" fill="#c84440"/>
<rect x="439.0" y="280.0" width="17.1" height="20.2" fill="#bf3338"/>
<rect x="455.5" y="280.0" width="83.1" height="20.2" fill="#a81529"/>
<rect x="538.0" y="280.0" width="17.1" height="20.2" fill="#bf3338"/>
<rect x="554.5" y="280.0" width="17.1" height="20.2" fill="#cc4c44"/>
<rect x="571.0" y="280.0" width="17.1" height="20.2" fill="#d25849"/>
<rect x="587.5" y="280.0" width="66.6" height="20.2" fill="#c84440"/>
<rect x="653.5" y="280.0" width="50.1" height="20.2" fill="#c43b3c"/>
<rect x="703.0" y="280.0" width="149.1" height="20.2" fill="#bf3338"/>
<rect x="92.5" y="299.6" width="99.6" height="20.2" fill="#c84440"/>
<rect x="191.5" y="299.6" width="50.1" height="20.2" fill="#bf3338"/>
<rect x="241.0" y="299.6" width="17.1" height="20.2" fill="#bb2a34"/>
<rect x="257.5" y="299.6" width="66.6" height="20.2" fill="#bf3338"/>
<rect x="323.5" y="299.6" width="17.1" height="20.2" fill="#b61f2e"/>
<rect x="340.0" y="299.6" width="33.6" height="20.2" fill="#c84440"/>
<rect x="373.0" y="299.6" width="17.1" height="20.2" fill="#c43b3c"/>
<rect x="389.5" y="299.6" width="33.6" height="20.2" fill="#bf3338"/>
<rect x="422.5" y="299.6" width="17.1" height="20.2" fill="#9f1228"/>
<rect x="439.0" y="299.6" width="66.6" height="20.2" fill="#a81529"/>
<rect x="505.0" y="299.6" width="17.1" height="20.2" fill="#9f1228"/>
<rect x="521.5" y="299.6" width="17.1" height="20.2" fill="#cc4c44"/>
<rect x="538.0" y="299.6" width="17.1" height="20.2" fill="#c43b3c"/>
<rect x="554.5" y="299.6" width="33.6" height="20.2" fill="#d25849"/>
<rect x="587.5" y="299.6" width="33.6" height="20.2" fill="#c84440"/>
<rect x="620.5" y="299.6" width="17.1" height="20.2" fill="#cc4c44"/>
<rect x="637.0" y="299.6" width="17.1" height="20.2" fill="#c84440"/>
<rect x="653.5" y="299.6" width="17.1" height="20.2" fill="#c43b3c"/>
<rect x="670.0" y="299.6" width="33.6" height="20.2" fill="#c84440"/>
<rect x="703.0" y="299.6" width="17.1" height="20.2" fill="#bf3338"/>
<rect x="719.5" y="299.6" width="17.1" height="20.2" fill="#bb2a34"/>
<rect x="736.0" y="299.6" width="83.1" height="20.2" fill="#bf3338"/>
<rect x="818.5" y="299.6" width="33.6" height="20.2" fill="#c43b3c"/>
<rect x="92.5" y="319.3" width="99.6" height="20.2" fill="#c84440"/>
<rect x="191.5" y="319.3" width="17.1" height="20.2" fill="#c43b3c"/>
<rect x="208.0" y="319.3" width="17.1" height="20.2" fill="#bf3338"/>
<rect x="224.5" y="319.3" width="33.6" height="20.2" fill="#c84440"/>
<rect x="257.5" y="319.3" width="17.1" height="20.2" fill="#bb2a34"/>
<rect x="274.0" y="319.3" width="17.1" height="20.2" fill="#bf3338"/>
<rect x="290.5" y="319.3" width="17.1" height="20.2" fill="#c43b3c"/>
<rect x="307.0" y="319.3" width="33.6" height="20.2" fill="#bf3338"/>
<rect x="340.0" y="319.3" width="66.6" height="20.2" fill="#c84440"/>
<rect x="406.0" y="319.3" width="17.1" height="20.2" fill="#b1182b"/>
<rect x="422.5" y="319.3" width="17.1" height="20.2" fill="#a81529"/>
<rect x="439.0" y="319.3" width="33.6" height="20.2" fill="#b1182b"/>
<rect x="472.0" y="319.3" width="50.1" height="20.2" fill="#a81529"/>
<rect x="521.5" y="319.3" width="17.1" height="20.2" fill="#cc4c44"/>
<rect x="538.0" y="319.3" width="17.1" height="20.2" fill="#d25849"/>
<rect x="554.5" y="319.3" width="66.6" height="20.2" fill="#c84440"/>
<rect x="620.5" y="319.3" width="50.1" height="20.2" fill="#cc4c44"/>
<rect x="670.0" y="319.3" width="17.1" height="20.2" fill="#d25849"/>
<rect x="686.5" y="319.3" width="17.1" height="20.2" fill="#cc4c44"/>
<rect x="703.0" y="319.3" width="17.1" height="20.2" fill="#c43b3c"/>
<rect x="719.5" y="319.3" width="17.1" height="20.2" fill="#c84440"/>
<rect x="736.0" y="319.3" width="66.6" height="20.2" fill="#c43b3c"/>
<rect x="802.0" y="319.3" width="50.1" height="20.2" fill="#c84440"/>
<rect x="92.5" y="338.9" width="99.6" height="20.2" fill="#c43b3c"/>
<rect x="191.5" y="338.9" width="33.6" height="20.2" fill="#bf3338"/>
<rect x="224.5" y="338.9" width="17.1" height="20.2" fill="#bb2a34"/>
<rect x="241.0" y="338.9" width="17.1" height="20.2" fill="#bf3338"/>
<rect x="257.5" y="338.9" width="17.1" height="20.2" fill="#c43b3c"/>
<rect x="274.0" y="338.9" width="17.1" height="20.2" fill="#bf3338"/>
<rect x="290.5" y="338.9" width="17.1" height="20.2" fill="#c43b3c"/>
<rect x="307.0" y="338.9" width="17.1" height="20.2" fill="#bf3338"/>
<rect x="323.5" y="338.9" width="17.1" height="20.2" fill="#bb2a34"/>
<rect x="340.0" y="338.9" width="33.6" height="20.2" fill="#cc4c44"/>
<rect x="373.0" y="338.9" width="17.1" height="20.2" fill="#c84440"/>
<rect x="389.5" y="338.9" width="17.1" height="20.2" fill="#c43b3c"/>
<rect x="406.0" y="338.9" width="17.1" height="20.2" fill="#b1182b"/>
<rect x="422.5" y="338.9" width="33.6" height="20.2" fill="#b61f2e"/>
<rect x="455.5" y="338.9" width="66.6" height="20.2" fill="#a81529"/>
<rect x="521.5" y="338.9" width="33.6" height="20.2" fill="#c84440"/>
<rect x="554.5" y="338.9" width="33.6" height="20.2" fill="#cc4c44"/>
<rect x="587.5" y="338.9" width="33.6" height="20.2" fill="#c84440"/>
<rect x="620.5" y="338.9" width="17.1" height="20.2" fill="#cc4c44"/>
<rect x="637.0" y="338.9" width="50.1" height="20.2" fill="#d25849"/>
<rect x="686.5" y="338.9" width="17.1" height="20.2" fill="#cc4c44"/>
<rect x="703.0" y="338.9" width="33.6" height="20.2" fill="#c43b3c"/>
<rect x="736.0" y="338.9" width="17.1" height="20.2" fill="#bf3338"/>
<rect x="752.5" y="338.9" width="99.6" height="20.2" fill="#c84440"/>
<rect x="92.5" y="358.5" width="116.1" height="20.2" fill="#c84440"/>
<rect x="208.0" y="358.5" width="17.1" height="20.2" fill="#bf3338"/>
<rect x="224.5" y="358.5" width="17.1" height="20.2" fill="#c43b3c"/>
<rect x="241.0" y="358.5" width="33.6" height="20.2" fill="#c84440"/>
<rect x="274.0" y="358.5" width="17.1" height="20.2" fill="#bf3338"/>
<rect x="290.5" y="358.5" width="33.6" height="20.2" fill="#c84440"/>
<rect x="323.5" y="358.5" width="17.1" height="20.2" fill="#bf3338"/>
<rect x="340.0" y="358.5" width="17.1" height="20.2" fill="#c84440"/>
<rect x="356.5" y="358.5" width="17.1" height="20.2" fill="#bb2a34"/>
<rect x="373.0" y="358.5" width="33.6" height="20.2" fill="#c84440"/>
<rect x="406.0" y="358.5" width="17.1" height="20.2" fill="#b1182b"/>
<rect x="422.5" y="358.5" width="17.1" height="20.2" fill="#b61f2e"/>
<rect x="439.0" y="358.5" width="17.1" height="20.2" fill="#b1182b"/>
<rect x="455.5" y="358.5" width="83.1" height="20.2" fill="#a81529"/>
<rect x="538.0" y="358.5" width="165.6" height="20.2" fill="#d25849"/>
<rect x="703.0" y="358.5" width="17.1" height="20.2" fill="#da6853"/>
<rect x="719.5" y="358.5" width="17.1" height="20.2" fill="#d25849"/>
<rect x="736.0" y="358.5" width="17.1" height="20.2" fill="#cc4c44"/>
<rect x="752.5" y="358.5" width="33.6" height="20.2" fill="#d25849"/>
<rect x="785.5" y="358.5" width="17.1" height="20.2" fill="#cc4c44"/>
<rect x="802.0" y="358.5" width="50.1" height="20.2" fill="#d25849"/>
<rect x="92.5" y="378.2" width="116.1" height="20.2" fill="#c84440"/>
<rect x="208.0" y="378.2" width="17.1" height="20.2" fill="#c43b3c"/>
<rect x="224.5" y="378.2" width="17.1" height="20.2" fill="#bf3338"/>
<rect x="241.0" y="378.2" width="33.6" height="20.2" fill="#c84440"/>
<rect x="274.0" y="378.2" width="33.6" height="20.2" fill="#cc4c44"/>
<rect x="307.0" y="378.2" width="50.1" height="20.2" fill="#c84440"/>
<rect x="356.5" y="378.2" width="17.1" height="20.2" fill="#c43b3c"/>
<rect x="373.0" y="378.2" width="33.6" height="20.2" fill="#c84440"/>
<rect x="406.0" y="378.2" width="33.6" height="20.2" fill="#b61f2e"/>
<rect x="439.0" y="378.2" width="99.6" height="20.2" fill="#a81529"/>
<rect x="538.0" y="378.2" width="50.1" height="20.2" fill="#d25849"/>
<rect x="587.5" y="378.2" width="50.1" height="20.2" fill="#d6604d"/>
<rect x="637.0" y="378.2" width="17.1" height="20.2" fill="#d25849"/>
<rect x="653.5" y="378.2" width="33.6" height="20.2" fill="#d6604d"/>
<rect x="686.5" y="378.2" width="17.1" height="20.2" fill="#dd7059"/>
<rect x="703.0" y="378.2" width="17.1" height="20.2" fill="#da6853"/>
<rect x="719.5" y="378.2" width="66.6" height="20.2" fill="#d6604d"/>
<rect x="785.5" y="378.2" width="66.6" height="20.2" fill="#d25849"/>
<rect x="92.5" y="397.8" width="83.1" height="20.2" fill="#c84440"/>
<rect x="175.0" y="397.8" width="17.1" height="20.2" fill="#c43b3c"/>
<rect x="191.5" y="397.8" width="33.6" height="20.2" fill="#c84440"/>
<rect x="224.5" y="397.8" width="33.6" height="20.2" fill="#d25849"/>
<rect x="257.5" y="397.8" width="17.1" height="20.2" fill="#bf3338"/>
<rect x="274.0" y="397.8" width="33.6" height="20.2" fill="#c84440"/>
<rect x="307.0" y="397.8" width="33.6" height="20.2" fill="#bf3338"/>
<rect x="340.0" y="397.8" width="33.6" height="20.2" fill="#c43b3c"/>
<rect x="373.0" y="397.8" width="17.1" height="20.2" fill="#cc4c44"/>
<rect x="389.5" y="397.8" width="17.1" height="20.2" fill="#c84440"/>
<rect x="406.0" y="397.8" width="17.1" height="20.2" fill="#bf3338"/>
<rect x="422.5" y="397.8" width="17.1" height="20.2" fill="#bb2a34"/>
<rect x="439.0" y="397.8" width="33.6" height="20.2" fill="#a81529"/>
<rect x="472.0" y="397.8" width="17.1" height="20.2" fill="#b1182b"/>
<rect x="488.5" y="397.8" width="66.6" height="20.2" fill="#bf3338"/>
<rect x="554.5" y="397.8" width="33.6" height="20.2" fill="#e17860"/>
<rect x="587.5" y="397.8" width="17.1" height="20.2" fill="#da6853"/>
<rect x="604.0" y="397.8" width="17.1" height="20.2" fill="#dd7059"/>
<rect x="620.5" y="397.8" width="66.6" height="20.2" fill="#da6853"/>
<rect x="686.5" y="397.8" width="33.6" height="20.2" fill="#d25849"/>
<rect x="719.5" y="397.8" width="66.6" height="20.2" fill="#d6604d"/>
<rect x="785.5" y="397.8" width="17.1" height="20.2" fill="#d25849"/>
<rect x="802.0" y="397.8" width="50.1" height="20.2" fill="#d6604d"/>
<rect x="92.5" y="417.5" width="83.1" height="20.2" fill="#c84440"/>
<rect x="175.0" y="417.5" width="33.6" height="20.2" fill="#c43b3c"/>
<rect x="208.0" y="417.5" width="17.1" height="20.2" fill="#c84440"/>
<rect x="224.5" y="417.5" width="33.6" height="20.2" fill="#d25849"/>
<rect x="257.5" y="417.5" width="17.1" height="20.2" fill="#bf3338"/>
<rect x="274.0" y="417.5" width="33.6" height="20.2" fill="#c84440"/>
<rect x="307.0" y="417.5" width="17.1" height="20.2" fill="#bf3338"/>
<rect x="323.5" y="417.5" width="17.1" height="20.2" fill="#c43b3c"/>
<rect x="340.0" y="417.5" width="33.6" height="20.2" fill="#c84440"/>
<rect x="373.0" y="417.5" width="17.1" height="20.2" fill="#cc4c44"/>
<rect x="389.5" y="417.5" width="17.1" height="20.2" fill="#a81529"/>
<rect x="406.0" y="417.5" width="66.6" height="20.2" fill="#b61f2e"/>
<rect x="472.0" y="417.5" width="17.1" height="20.2" fill="#bb2a34"/>
<rect x="488.5" y="417.5" width="33.6" height="20.2" fill="#c43b3c"/>
<rect x="521.5" y="417.5" width="17.1" height="20.2" fill="#c84440"/>
<rect x="538.0" y="417.5" width="17.1" height="20.2" fill="#da6853"/>
<rect x="554.5" y="417.5" width="33.6" height="20.2" fill="#e98b6e"/>
<rect x="587.5" y="417.5" width="17.1" height="20.2" fill="#e17860"/>
<rect x="604.0" y="417.5" width="17.1" height="20.2" fill="#dd7059"/>
<rect x="620.5" y="417.5" width="33.6" height="20.2" fill="#da6853"/>
<rect x="653.5" y="417.5" width="33.6" height="20.2" fill="#e17860"/>
<rect x="686.5" y="417.5" width="17.1" height="20.2" fill="#da6853"/>
<rect x="703.0" y="417.5" width="83.1" height="20.2" fill="#d6604d"/>
<rect x="785.5" y="417.5" width="66.6" height="20.2" fill="#d25849"/>
<rect x="92.5" y="437.1" width="99.6" height="20.2" fill="#c84440"/>
<rect x="191.5" y="437.1" width="17.1" height="20.2" fill="#c43b3c"/>
<rect x="208.0" y="437.1" width="17.1" height="20.2" fill="#bf3338"/>
<rect x="224.5" y="437.1" width="83.1" height="20.2" fill="#c84440"/>
<rect x="307.0" y="437.1" width="17.1" height="20.2" fill="#cc4c44"/>
<rect x="323.5" y="437.1" width="17.1" height="20.2" fill="#d25849"/>
<rect x="340.0" y="437.1" width="17.1" height="20.2" fill="#cc4c44"/>
<rect x="356.5" y="437.1" width="17.1" height="20.2" fill="#c84440"/>
<rect x="373.0" y="437.1" width="17.1" height="20.2" fill="#cc4c44"/>
<rect x="389.5" y="437.1" width="17.1" height="20.2" fill="#bf3338"/>
<rect x="406.0" y="437.1" width="17.1" height="20.2" fill="#c84440"/>
<rect x="422.5" y="437.1" width="33.6" height="20.2" fill="#e17860"/>
<rect x="455.5" y="437.1" width="17.1" height="20.2" fill="#e98b6e"/>
<rect x="472.0" y="437.1" width="33.6" height="20.2" fill="#d25849"/>
<rect x="505.0" y="437.1" width="17.1" height="20.2" fill="#dd7059"/>
<rect x="521.5" y="437.1" width="17.1" height="20.2" fill="#e17860"/>
<rect x="538.0" y="437.1" width="17.1" height="20.2" fill="#e98b6e"/>
<rect x="554.5" y="437.1" width="33.6" height="20.2" fill="#f3a481"/>
<rect x="587.5" y="437.1" width="17.1" height="20.2" fill="#e98b6e"/>
<rect x="604.0" y="437.1" width="17.1" height="20.2" fill="#e17860"/>
<rect x="620.5" y="437.1" width="66.6" height="20.2" fill="#da6853"/>
<rect x="686.5" y="437.1" width="17.1" height="20.2" fill="#d6604d"/>
<rect x="703.0" y="437.1" width="50.1" height="20.2" fill="#e17860"/>
<rect x="752.5" y="437.1" width="17.1" height="20.2" fill="#dd7059"/>
<rect x="769.0" y="437.1" width="83.1" height="20.2" fill="#da6853"/>
<rect x="92.5" y="456.7" width="116.1" height="20.2" fill="#c84440"/>
<rect x="208.0" y="456.7" width="17.1" height="20.2" fill="#c43b3c"/>
<rect x="224.5" y="456.7" width="17.1" height="20.2" fill="#c84440"/>
<rect x="241.0" y="456.7" width="17.1" height="20.2" fill="#cc4c44"/>
<rect x="257.5" y="456.7" width="17.1" height="20.2" fill="#d25849"/>
<rect x="274.0" y="456.7" width="17.1" height="20.2" fill="#da6853"/>
<rect x="290.5" y="456.7" width="17.1" height="20.2" fill="#e58368"/>
<rect x="307.0" y="456.7" width="17.1" height="20.2" fill="#ec9374"/>
<rect x="323.5" y="456.7" width="17.1" height="20.2" fill="#f6b394"/>
<rect x="340.0" y="456.7" width="17.1" height="20.2" fill="#f7b99c"/>
<rect x="356.5" y="456.7" width="17.1" height="20.2" fill="#fbceb7"/>
<rect x="373.0" y="456.7" width="17.1" height="20.2" fill="#f8bfa4"/>
<rect x="389.5" y="456.7" width="17.1" height="20.2" fill="#ec9374"/>
<rect x="406.0" y="456.7" width="33.6" height="20.2" fill="#e98b6e"/>
<rect x="439.0" y="456.7" width="17.1" height="20.2" fill="#ec9374"/>
<rect x="455.5" y="456.7" width="33.6" height="20.2" fill="#f3a481"/>
<rect x="488.5" y="456.7" width="17.1" height="20.2" fill="#f7b99c"/>
<rect x="505.0" y="456.7" width="33.6" height="20.2" fill="#f09c7b"/>
<rect x="538.0" y="456.7" width="17.1" height="20.2" fill="#f6b394"/>
<rect x="554.5" y="456.7" width="17.1" height="20.2" fill="#f5ac8b"/>
<rect x="571.0" y="456.7" width="17.1" height="20.2" fill="#f3a481"/>
<rect x="587.5" y="456.7" width="17.1" height="20.2" fill="#e98b6e"/>
<rect x="604.0" y="456.7" width="50.1" height="20.2" fill="#e17860"/>
<rect x="653.5" y="456.7" width="50.1" height="20.2" fill="#dd7059"/>
<rect x="703.0" y="456.7" width="17.1" height="20.2" fill="#e58368"/>
<rect x="719.5" y="456.7" width="17.1" height="20.2" fill="#e98b6e"/>
<rect x="736.0" y="456.7" width="33.6" height="20.2" fill="#e17860"/>
<rect x="769.0" y="456.7" width="83.1" height="20.2" fill="#dd7059"/>
<rect x="92.5" y="476.4" width="99.6" height="20.2" fill="#cc4c44"/>
<rect x="191.5" y="476.4" width="33.6" height="20.2" fill="#da6853"/>
<rect x="224.5" y="476.4" width="17.1" height="20.2" fill="#c84440"/>
<rect x="241.0" y="476.4" width="17.1" height="20.2" fill="#cc4c44"/>
<rect x="257.5" y="476.4" width="17.1" height="20.2" fill="#da6853"/>
<rect x="274.0" y="476.4" width="17.1" height="20.2" fill="#fcd5bf"/>
<rect x="290.5" y="476.4" width="17.1" height="20.2" fill="#fae9df"/>
<rect x="307.0" y="476.4" width="17.1" height="20.2" fill="#fddbc7"/>
<rect x="323.5" y="476.4" width="17.1" height="20.2" fill="#f5ac8b"/>
<rect x="340.0" y="476.4" width="17.1" height="20.2" fill="#fcdecd"/>
<rect x="356.5" y="476.4" width="17.1" height="20.2" fill="#e9f0f4"/>
<rect x="373.0" y="476.4" width="17.1" height="20.2" fill="#f6f7f7"/>
<rect x="389.5" y="476.4" width="17.1" height="20.2" fill="#f09c7b"/>
<rect x="406.0" y="476.4" width="17.1" height="20.2" fill="#ec9374"/>
<rect x="422.5" y="476.4" width="17.1" height="20.2" fill="#e98b6e"/>
<rect x="439.0" y="476.4" width="17.1" height="20.2" fill="#f09c7b"/>
<rect x="455.5" y="476.4" width="17.1" height="20.2" fill="#f5ac8b"/>
<rect x="472.0" y="476.4" width="17.1" height="20.2" fill="#f09c7b"/>
<rect x="488.5" y="476.4" width="17.1" height="20.2" fill="#e98b6e"/>
<rect x="505.0" y="476.4" width="33.6" height="20.2" fill="#da6853"/>
<rect x="538.0" y="476.4" width="17.1" height="20.2" fill="#f09c7b"/>
<rect x="554.5" y="476.4" width="50.1" height="20.2" fill="#e98b6e"/>
<rect x="604.0" y="476.4" width="50.1" height="20.2" fill="#e17860"/>
<rect x="653.5" y="476.4" width="33.6" height="20.2" fill="#dd7059"/>
<rect x="686.5" y="476.4" width="33.6" height="20.2" fill="#e58368"/>
<rect x="719.5" y="476.4" width="17.1" height="20.2" fill="#e17860"/>
<rect x="736.0" y="476.4" width="17.1" height="20.2" fill="#e98b6e"/>
<rect x="752.5" y="476.4" width="99.6" height="20.2" fill="#e17860"/>
<rect x="92.5" y="496.0" width="99.6" height="20.2" fill="#c43b3c"/>
<rect x="191.5" y="496.0" width="33.6" height="20.2" fill="#c84440"/>
<rect x="224.5" y="496.0" width="17.1" height="20.2" fill="#bf3338"/>
<rect x="241.0" y="496.0" width="17.1" height="20.2" fill="#c43b3c"/>
<rect x="257.5" y="496.0" width="17.1" height="20.2" fill="#c84440"/>
<rect x="274.0" y="496.0" width="17.1" height="20.2" fill="#f09c7b"/>
<rect x="290.5" y="496.0" width="17.1" height="20.2" fill="#ec9374"/>
<rect x="307.0" y="496.0" width="17.1" height="20.2" fill="#dd7059"/>
<rect x="323.5" y="496.0" width="17.1" height="20.2" fill="#da6853"/>
<rect x="340.0" y="496.0" width="17.1" height="20.2" fill="#e17860"/>
<rect x="356.5" y="496.0" width="17.1" height="20.2" fill="#fce2d2"/>
<rect x="373.0" y="496.0" width="17.1" height="20.2" fill="#e9f0f4"/>
<rect x="389.5" y="496.0" width="17.1" height="20.2" fill="#f09c7b"/>
<rect x="406.0" y="496.0" width="33.6" height="20.2" fill="#f3a481"/>
<rect x="439.0" y="496.0" width="17.1" height="20.2" fill="#f09c7b"/>
<rect x="455.5" y="496.0" width="17.1" height="20.2" fill="#e17860"/>
<rect x="472.0" y="496.0" width="17.1" height="20.2" fill="#d25849"/>
<rect x="488.5" y="496.0" width="17.1" height="20.2" fill="#d6604d"/>
<rect x="505.0" y="496.0" width="33.6" height="20.2" fill="#d25849"/>
<rect x="538.0" y="496.0" width="17.1" height="20.2" fill="#da6853"/>
<rect x="554.5" y="496.0" width="50.1" height="20.2" fill="#dd7059"/>
<rect x="604.0" y="496.0" width="17.1" height="20.2" fill="#da6853"/>
<rect x="620.5" y="496.0" width="33.6" height="20.2" fill="#dd7059"/>
<rect x="653.5" y="496.0" width="50.1" height="20.2" fill="#e17860"/>
<rect x="703.0" y="496.0" width="17.1" height="20.2" fill="#e58368"/>
<rect x="719.5" y="496.0" width="17.1" height="20.2" fill="#e17860"/>
<rect x="736.0" y="496.0" width="17.1" height="20.2" fill="#e98b6e"/>
<rect x="752.5" y="496.0" width="99.6" height="20.2" fill="#e58368"/>
<rect x="92.5" y="515.7" width="83.1" height="20.2" fill="#bf3338"/>
<rect x="175.0" y="515.7" width="17.1" height="20.2" fill="#b61f2e"/>
<rect x="191.5" y="515.7" width="66.6" height="20.2" fill="#bf3338"/>
<rect x="257.5" y="515.7" width="33.6" height="20.2" fill="#c84440"/>
<rect x="290.5" y="515.7" width="17.1" height="20.2" fill="#d25849"/>
<rect x="307.0" y="515.7" width="17.1" height="20.2" fill="#ec9374"/>
<rect x="323.5" y="515.7" width="17.1" height="20.2" fill="#f8f3f0"/>
<rect x="340.0" y="515.7" width="17.1" height="20.2" fill="#f2f5f6"/>
<rect x="356.5" y="515.7" width="33.6" height="20.2" fill="#e9f0f4"/>
<rect x="389.5" y="515.7" width="17.1" height="20.2" fill="#ec9374"/>
<rect x="406.0" y="515.7" width="66.6" height="20.2" fill="#da6853"/>
<rect x="472.0" y="515.7" width="17.1" height="20.2" fill="#d6604d"/>
<rect x="488.5" y="515.7" width="33.6" height="20.2" fill="#d25849"/>
<rect x="521.5" y="515.7" width="50.1" height="20.2" fill="#e17860"/>
<rect x="571.0" y="515.7" width="17.1" height="20.2" fill="#dd7059"/>
<rect x="587.5" y="515.7" width="17.1" height="20.2" fill="#da6853"/>
<rect x="604.0" y="515.7" width="17.1" height="20.2" fill="#dd7059"/>
<rect x="620.5" y="515.7" width="17.1" height="20.2" fill="#e98b6e"/>
<rect x="637.0" y="515.7" width="17.1" height="20.2" fill="#e58368"/>
<rect x="653.5" y="515.7" width="50.1" height="20.2" fill="#e17860"/>
<rect x="703.0" y="515.7" width="149.1" height="20.2" fill="#e58368"/>
<rect x="92.5" y="535.3" width="83.1" height="20.2" fill="#bf3338"/>
<rect x="175.0" y="535.3" width="17.1" height="20.2" fill="#bb2a34"/>
<rect x="191.5" y="535.3" width="50.1" height="20.2" fill="#b61f2e"/>
<rect x="241.0" y="535.3" width="17.1" height="20.2" fill="#bb2a34"/>
<rect x="257.5" y="535.3" width="33.6" height="20.2" fill="#bf3338"/>
<rect x="290.5" y="535.3" width="17.1" height="20.2" fill="#cc4c44"/>
<rect x="307.0" y="535.3" width="17.1" height="20.2" fill="#e98b6e"/>
<rect x="323.5" y="535.3" width="17.1" height="20.2" fill="#f5ac8b"/>
<rect x="340.0" y="535.3" width="17.1" height="20.2" fill="#f7b99c"/>
<rect x="356.5" y="535.3" width="17.1" height="20.2" fill="#f6b394"/>
<rect x="373.0" y="535.3" width="33.6" height="20.2" fill="#da6853"/>
<rect x="406.0" y="535.3" width="33.6" height="20.2" fill="#c84440"/>
<rect x="439.0" y="535.3" width="33.6" height="20.2" fill="#d25849"/>
<rect x="472.0" y="535.3" width="17.1" height="20.2" fill="#da6853"/>
<rect x="488.5" y="535.3" width="66.6" height="20.2" fill="#e17860"/>
<rect x="554.5" y="535.3" width="33.6" height="20.2" fill="#dd7059"/>
<rect x="587.5" y="535.3" width="17.1" height="20.2" fill="#e98b6e"/>
<rect x="604.0" y="535.3" width="17.1" height="20.2" fill="#f5ac8b"/>
<rect x="620.5" y="535.3" width="17.1" height="20.2" fill="#e98b6e"/>
<rect x="637.0" y="535.3" width="17.1" height="20.2" fill="#dd7059"/>
<rect x="653.5" y="535.3" width="33.6" height="20.2" fill="#da6853"/>
<rect x="686.5" y="535.3" width="149.1" height="20.2" fill="#e17860"/>
<rect x="835.0" y="535.3" width="17.1" height="20.2" fill="#e58368"/>
<rect x="92.5" y="554.9" width="83.1" height="20.2" fill="#bf3338"/>
<rect x="175.0" y="554.9" width="33.6" height="20.2" fill="#b61f2e"/>
<rect x="208.0" y="554.9" width="17.1" height="20.2" fill="#a81529"/>
<rect x="224.5" y="554.9" width="50.1" height="20.2" fill="#b61f2e"/>
<rect x="274.0" y="554.9" width="17.1" height="20.2" fill="#bf3338"/>
<rect x="290.5" y="554.9" width="17.1" height="20.2" fill="#cc4c44"/>
<rect x="307.0" y="554.9" width="17.1" height="20.2" fill="#da6853"/>
<rect x="323.5" y="554.9" width="33.6" height="20.2" fill="#f9c6ac"/>
<rect x="356.5" y="554.9" width="17.1" height="20.2" fill="#f09c7b"/>
<rect x="373.0" y="554.9" width="17.1" height="20.2" fill="#d25849"/>
<rect x="389.5" y="554.9" width="17.1" height="20.2" fill="#da6853"/>
<rect x="406.0" y="554.9" width="17.1" height="20.2" fill="#c84440"/>
<rect x="422.5" y="554.9" width="17.1" height="20.2" fill="#d25849"/>
<rect x="439.0" y="554.9" width="17.1" height="20.2" fill="#c43b3c"/>
<rect x="455.5" y="554.9" width="17.1" height="20.2" fill="#bf3338"/>
<rect x="472.0" y="554.9" width="50.1" height="20.2" fill="#e17860"/>
<rect x="521.5" y="554.9" width="17.1" height="20.2" fill="#dd7059"/>
<rect x="538.0" y="554.9" width="33.6" height="20.2" fill="#e17860"/>
<rect x="571.0" y="554.9" width="33.6" height="20.2" fill="#e98b6e"/>
<rect x="604.0" y="554.9" width="17.1" height="20.2" fill="#dd7059"/>
<rect x="620.5" y="554.9" width="33.6" height="20.2" fill="#d6604d"/>
<rect x="653.5" y="554.9" width="99.6" height="20.2" fill="#da6853"/>
<rect x="752.5" y="554.9" width="83.1" height="20.2" fill="#e17860"/>
<rect x="835.0" y="554.9" width="17.1" height="20.2" fill="#e58368"/>
<rect x="92.5" y="574.6" width="17.1" height="20.2" fill="#d6604d"/>
<rect x="109.0" y="574.6" width="50.1" height="20.2" fill="#d25849"/>
<rect x="158.5" y="574.6" width="17.1" height="20.2" fill="#d6604d"/>
<rect x="175.0" y="574.6" width="17.1" height="20.2" fill="#d25849"/>
<rect x="191.5" y="574.6" width="17.1" height="20.2" fill="#c84440"/>
<rect x="208.0" y="574.6" width="66.6" height="20.2" fill="#c43b3c"/>
<rect x="274.0" y="574.6" width="17.1" height="20.2" fill="#c84440"/>
<rect x="290.5" y="574.6" width="17.1" height="20.2" fill="#da6853"/>
<rect x="307.0" y="574.6" width="17.1" height="20.2" fill="#d25849"/>
<rect x="323.5" y="574.6" width="17.1" height="20.2" fill="#e98b6e"/>
<rect x="340.0" y="574.6" width="17.1" height="20.2" fill="#e17860"/>
<rect x="356.5" y="574.6" width="17.1" height="20.2" fill="#f5ac8b"/>
<rect x="373.0" y="574.6" width="17.1" height="20.2" fill="#bf3338"/>
<rect x="389.5" y="574.6" width="33.6" height="20.2" fill="#b61f2e"/>
<rect x="422.5" y="574.6" width="17.1" height="20.2" fill="#bf3338"/>
<rect x="439.0" y="574.6" width="33.6" height="20.2" fill="#b61f2e"/>
<rect x="472.0" y="574.6" width="17.1" height="20.2" fill="#a81529"/>
<rect x="488.5" y="574.6" width="33.6" height="20.2" fill="#dd7059"/>
<rect x="521.5" y="574.6" width="17.1" height="20.2" fill="#e17860"/>
<rect x="538.0" y="574.6" width="17.1" height="20.2" fill="#e58368"/>
<rect x="554.5" y="574.6" width="17.1" height="20.2" fill="#dd7059"/>
<rect x="571.0" y="574.6" width="17.1" height="20.2" fill="#d6604d"/>
<rect x="587.5" y="574.6" width="33.6" height="20.2" fill="#da6853"/>
<rect x="620.5" y="574.6" width="33.6" height="20.2" fill="#d6604d"/>
<rect x="653.5" y="574.6" width="99.6" height="20.2" fill="#da6853"/>
<rect x="752.5" y="574.6" width="83.1" height="20.2" fill="#e17860"/>
<rect x="835.0" y="574.6" width="17.1" height="20.2" fill="#e58368"/>
<rect x="92.5" y="594.2" width="33.6" height="20.2" fill="#d6604d"/>
<rect x="125.5" y="594.2" width="17.1" height="20.2" fill="#d25849"/>
<rect x="142.0" y="594.2" width="17.1" height="20.2" fill="#dd7059"/>
<rect x="158.5" y="594.2" width="17.1" height="20.2" fill="#d25849"/>
<rect x="175.0" y="594.2" width="99.6" height="20.2" fill="#cc4c44"/>
<rect x="274.0" y="594.2" width="17.1" height="20.2" fill="#c43b3c"/>
<rect x="290.5" y="594.2" width="17.1" height="20.2" fill="#d25849"/>
<rect x="307.0" y="594.2" width="17.1" height="20.2" fill="#cc4c44"/>
<rect x="323.5" y="594.2" width="17.1" height="20.2" fill="#e58368"/>
<rect x="340.0" y="594.2" width="17.1" height="20.2" fill="#e98b6e"/>
<rect x="356.5" y="594.2" width="17.1" height="20.2" fill="#bb2a34"/>
<rect x="373.0" y="594.2" width="66.6" height="20.2" fill="#b61f2e"/>
<rect x="439.0" y="594.2" width="17.1" height="20.2" fill="#b1182b"/>
<rect x="455.5" y="594.2" width="17.1" height="20.2" fill="#a81529"/>
<rect x="472.0" y="594.2" width="50.1" height="20.2" fill="#dd7059"/>
<rect x="521.5" y="594.2" width="17.1" height="20.2" fill="#da6853"/>
<rect x="538.0" y="594.2" width="17.1" height="20.2" fill="#d25849"/>
<rect x="554.5" y="594.2" width="17.1" height="20.2" fill="#da6853"/>
<rect x="571.0" y="594.2" width="17.1" height="20.2" fill="#d6604d"/>
<rect x="587.5" y="594.2" width="17.1" height="20.2" fill="#d25849"/>
<rect x="604.0" y="594.2" width="116.1" height="20.2" fill="#d6604d"/>
<rect x="719.5" y="594.2" width="33.6" height="20.2" fill="#da6853"/>
<rect x="752.5" y="594.2" width="83.1" height="20.2" fill="#e17860"/>
<rect x="835.0" y="594.2" width="17.1" height="20.2" fill="#e58368"/>
<rect x="92.5" y="613.9" width="50.1" height="20.2" fill="#d25849"/>
<rect x="142.0" y="613.9" width="182.1" height="20.2" fill="#cc4c44"/>
<rect x="323.5" y="613.9" width="17.1" height="20.2" fill="#dd7059"/>
<rect x="340.0" y="613.9" width="17.1" height="20.2" fill="#da6853"/>
<rect x="356.5" y="613.9" width="17.1" height="20.2" fill="#b61f2e"/>
<rect x="373.0" y="613.9" width="17.1" height="20.2" fill="#9f1228"/>
<rect x="389.5" y="613.9" width="17.1" height="20.2" fill="#a81529"/>
<rect x="406.0" y="613.9" width="50.1" height="20.2" fill="#960f27"/>
<rect x="455.5" y="613.9" width="17.1" height="20.2" fill="#e17860"/>
<rect x="472.0" y="613.9" width="17.1" height="20.2" fill="#d6604d"/>
<rect x="488.5" y="613.9" width="33.6" height="20.2" fill="#da6853"/>
<rect x="521.5" y="613.9" width="17.1" height="20.2" fill="#e17860"/>
<rect x="538.0" y="613.9" width="33.6" height="20.2" fill="#da6853"/>
<rect x="571.0" y="613.9" width="50.1" height="20.2" fill="#d25849"/>
<rect x="620.5" y="613.9" width="17.1" height="20.2" fill="#d6604d"/>
<rect x="637.0" y="613.9" width="116.1" height="20.2" fill="#da6853"/>
<rect x="752.5" y="613.9" width="83.1" height="20.2" fill="#e17860"/>
<rect x="835.0" y="613.9" width="17.1" height="20.2" fill="#e58368"/>
<rect x="92.5" y="633.5" width="231.6" height="20.2" fill="#cc4c44"/>
<rect x="323.5" y="633.5" width="17.1" height="20.2" fill="#dd7059"/>
<rect x="340.0" y="633.5" width="17.1" height="20.2" fill="#9f1228"/>
<rect x="356.5" y="633.5" width="99.6" height="20.2" fill="#960f27"/>
<rect x="455.5" y="633.5" width="17.1" height="20.2" fill="#e17860"/>
<rect x="472.0" y="633.5" width="66.6" height="20.2" fill="#dd7059"/>
<rect x="538.0" y="633.5" width="17.1" height="20.2" fill="#da6853"/>
<rect x="554.5" y="633.5" width="50.1" height="20.2" fill="#d25849"/>
<rect x="604.0" y="633.5" width="33.6" height="20.2" fill="#da6853"/>
<rect x="637.0" y="633.5" width="17.1" height="20.2" fill="#dd7059"/>
<rect x="653.5" y="633.5" width="182.1" height="20.2" fill="#e17860"/>
<rect x="835.0" y="633.5" width="17.1" height="20.2" fill="#e58368"/>
<rect x="92.5" y="653.1" width="231.6" height="20.2" fill="#cc4c44"/>
<rect x="323.5" y="653.1" width="132.6" height="20.2" fill="#960f27"/>
<rect x="455.5" y="653.1" width="17.1" height="20.2" fill="#e17860"/>
<rect x="472.0" y="653.1" width="66.6" height="20.2" fill="#dd7059"/>
<rect x="538.0" y="653.1" width="99.6" height="20.2" fill="#da6853"/>
<rect x="637.0" y="653.1" width="17.1" height="20.2" fill="#dd7059"/>
<rect x="653.5" y="653.1" width="182.1" height="20.2" fill="#e17860"/>
<rect x="835.0" y="653.1" width="17.1" height="20.2" fill="#e58368"/>
<rect x="92.5" y="672.8" width="231.6" height="20.2" fill="#cc4c44"/>
<rect x="323.5" y="672.8" width="132.6" height="20.2" fill="#960f27"/>
<rect x="455.5" y="672.8" width="17.1" height="20.2" fill="#e17860"/>
<rect x="472.0" y="672.8" width="149.1" height="20.2" fill="#da6853"/>
<rect x="620.5" y="672.8" width="17.1" height="20.2" fill="#dd7059"/>
<rect x="637.0" y="672.8" width="198.6" height="20.2" fill="#e17860"/>
<rect x="835.0" y="672.8" width="17.1" height="20.2" fill="#e58368"/>
<rect x="92.5" y="692.4" width="231.6" height="20.2" fill="#cc4c44"/>
<rect x="323.5" y="692.4" width="132.6" height="20.2" fill="#960f27"/>
<rect x="455.5" y="692.4" width="17.1" height="20.2" fill="#e17860"/>
<rect x="472.0" y="692.4" width="99.6" height="20.2" fill="#da6853"/>
<rect x="571.0" y="692.4" width="264.6" height="20.2" fill="#e17860"/>
<rect x="835.0" y="692.4" width="17.1" height="20.2" fill="#e58368"/>
<rect x="92.5" y="712.1" width="231.6" height="20.2" fill="#cc4c44"/>
<rect x="323.5" y="712.1" width="132.6" height="20.2" fill="#960f27"/>
<rect x="455.5" y="712.1" width="17.1" height="20.2" fill="#e17860"/>
<rect x="472.0" y="712.1" width="99.6" height="20.2" fill="#da6853"/>
<rect x="571.0" y="712.1" width="99.6" height="20.2" fill="#e17860"/>
<rect x="670.0" y="712.1" width="182.1" height="20.2" fill="#e58368"/>
<rect x="92.5" y="731.7" width="231.6" height="20.2" fill="#cc4c44"/>
<rect x="323.5" y="731.7" width="132.6" height="20.2" fill="#960f27"/>
<rect x="455.5" y="731.7" width="17.1" height="20.2" fill="#e17860"/>
<rect x="472.0" y="731.7" width="99.6" height="20.2" fill="#da6853"/>
<rect x="571.0" y="731.7" width="281.1" height="20.2" fill="#e58368"/>
</g>
<use href="#basin" fill="none" stroke="#000" stroke-width="5.2" stroke-linejoin="round"/>
<rect x="76.5" y="85.5" width="791.6" height="684.9" fill="none" stroke="#000" stroke-width="5"/>
<text transform="translate(91.3 155.2) scale(0.955 1)" font-size="50" font-weight="bold">(d)</text>
</g>
<line x1="65.4" x2="76.5" y1="172.9" y2="172.9" stroke="#000" stroke-width="2.8"/>
<text transform="translate(47.4 175.1) rotate(-90)" font-size="38" text-anchor="middle">34.0°N</text>
<line x1="65.4" x2="76.5" y1="355.8" y2="355.8" stroke="#000" stroke-width="2.8"/>
<text transform="translate(47.4 358.0) rotate(-90)" font-size="38" text-anchor="middle">33.5°N</text>
<line x1="65.4" x2="76.5" y1="538.7" y2="538.7" stroke="#000" stroke-width="2.8"/>
<text transform="translate(47.4 540.9) rotate(-90)" font-size="38" text-anchor="middle">33.0°N</text>
<line x1="65.4" x2="76.5" y1="721.6" y2="721.6" stroke="#000" stroke-width="2.8"/>
<text transform="translate(47.4 723.8) rotate(-90)" font-size="38" text-anchor="middle">32.5°N</text>
<line x1="65.4" x2="76.5" y1="878.9" y2="878.9" stroke="#000" stroke-width="2.8"/>
<text transform="translate(47.4 881.1) rotate(-90)" font-size="38" text-anchor="middle">34.0°N</text>
<line x1="65.4" x2="76.5" y1="1061.8" y2="1061.8" stroke="#000" stroke-width="2.8"/>
<text transform="translate(47.4 1064.0) rotate(-90)" font-size="38" text-anchor="middle">33.5°N</text>
<line x1="65.4" x2="76.5" y1="1244.7" y2="1244.7" stroke="#000" stroke-width="2.8"/>
<text transform="translate(47.4 1246.9) rotate(-90)" font-size="38" text-anchor="middle">33.0°N</text>
<line x1="65.4" x2="76.5" y1="1427.6" y2="1427.6" stroke="#000" stroke-width="2.8"/>
<text transform="translate(47.4 1429.8) rotate(-90)" font-size="38" text-anchor="middle">32.5°N</text>
<line x1="226.0" x2="226.0" y1="1476.4" y2="1487.9" stroke="#000" stroke-width="2.8"/>
<text x="226.3" y="1526" font-size="38" text-anchor="middle">106.5°E</text>
<line x1="379.2" x2="379.2" y1="1476.4" y2="1487.9" stroke="#000" stroke-width="2.8"/>
<text x="379.5" y="1526" font-size="38" text-anchor="middle">107.0°E</text>
<line x1="532.4" x2="532.4" y1="1476.4" y2="1487.9" stroke="#000" stroke-width="2.8"/>
<text x="532.7" y="1526" font-size="38" text-anchor="middle">107.5°E</text>
<line x1="685.6" x2="685.6" y1="1476.4" y2="1487.9" stroke="#000" stroke-width="2.8"/>
<text x="685.9" y="1526" font-size="38" text-anchor="middle">108.0°E</text>
<line x1="838.8" x2="838.8" y1="1476.4" y2="1487.9" stroke="#000" stroke-width="2.8"/>
<text x="839.1" y="1526" font-size="38" text-anchor="middle">108.5°E</text>
<line x1="1039.7" x2="1039.7" y1="1476.4" y2="1487.9" stroke="#000" stroke-width="2.8"/>
<text x="1040.0" y="1526" font-size="38" text-anchor="middle">106.5°E</text>
<line x1="1192.9" x2="1192.9" y1="1476.4" y2="1487.9" stroke="#000" stroke-width="2.8"/>
<text x="1193.2" y="1526" font-size="38" text-anchor="middle">107.0°E</text>
<line x1="1346.1" x2="1346.1" y1="1476.4" y2="1487.9" stroke="#000" stroke-width="2.8"/>
<text x="1346.4" y="1526" font-size="38" text-anchor="middle">107.5°E</text>
<line x1="1499.3" x2="1499.3" y1="1476.4" y2="1487.9" stroke="#000" stroke-width="2.8"/>
<text x="1499.6" y="1526" font-size="38" text-anchor="middle">108.0°E</text>
<line x1="1652.5" x2="1652.5" y1="1476.4" y2="1487.9" stroke="#000" stroke-width="2.8"/>
<text x="1652.8" y="1526" font-size="38" text-anchor="middle">108.5°E</text>
<text x="470.6" y="54.3" font-size="47" text-anchor="middle">Case 5 - Case 1</text>
<text x="1285.8" y="54.3" font-size="47" text-anchor="middle">Case 8 - Case 7</text>
<text x="108" y="1619.5" font-size="50.5">Case 1: Uniform, multi-gauge</text>
<text x="108" y="1694.7" font-size="50.5">Case 5: Distributed, multi-gauge</text>
<text x="922.4" y="1619.5" font-size="50.5">Case 7: Uniform, single-gauge</text>
<text x="922.4" y="1694.7" font-size="50.5">Case 8: Distributed, single-gauge</text>
<rect x="1701.3" y="85.5" width="39.7" height="684.9" fill="url(#cb)" stroke="#000" stroke-width="2.7"/>
<line x1="1741.0" x2="1752.5" y1="130.0" y2="130.0" stroke="#000" stroke-width="2.7"/>
<text x="1762.6" y="140.9" font-size="31.5">0.4</text>
<line x1="1741.0" x2="1752.5" y1="279.0" y2="279.0" stroke="#000" stroke-width="2.7"/>
<text x="1762.6" y="289.9" font-size="31.5">0.2</text>
<line x1="1741.0" x2="1752.5" y1="427.9" y2="427.9" stroke="#000" stroke-width="2.7"/>
<text x="1762.6" y="438.8" font-size="31.5">0.0</text>
<line x1="1741.0" x2="1752.5" y1="576.9" y2="576.9" stroke="#000" stroke-width="2.7"/>
<text x="1762.6" y="587.8" font-size="31.5">−0.2</text>
<line x1="1741.0" x2="1752.5" y1="725.9" y2="725.9" stroke="#000" stroke-width="2.7"/>
<text x="1762.6" y="736.8" font-size="31.5">−0.4</text>
<text transform="translate(1864.4 427.9) rotate(-90)" font-size="37.7" text-anchor="middle">Surface runoff difference (mm)</text>
<rect x="1701.3" y="791.5" width="39.7" height="684.9" fill="url(#cb)" stroke="#000" stroke-width="2.7"/>
<line x1="1741.0" x2="1752.5" y1="812.6" y2="812.6" stroke="#000" stroke-width="2.7"/>
<text x="1762.6" y="823.5" font-size="31.5">0.4</text>
<line x1="1741.0" x2="1752.5" y1="892.9" y2="892.9" stroke="#000" stroke-width="2.7"/>
<text x="1762.6" y="903.8" font-size="31.5">0.3</text>
<line x1="1741.0" x2="1752.5" y1="973.3" y2="973.3" stroke="#000" stroke-width="2.7"/>
<text x="1762.6" y="984.2" font-size="31.5">0.2</text>
<line x1="1741.0" x2="1752.5" y1="1053.6" y2="1053.6" stroke="#000" stroke-width="2.7"/>
<text x="1762.6" y="1064.5" font-size="31.5">0.1</text>
<line x1="1741.0" x2="1752.5" y1="1134.0" y2="1134.0" stroke="#000" stroke-width="2.7"/>
<text x="1762.6" y="1144.9" font-size="31.5">0.0</text>
<line x1="1741.0" x2="1752.5" y1="1214.3" y2="1214.3" stroke="#000" stroke-width="2.7"/>
<text x="1762.6" y="1225.2" font-size="31.5">−0.1</text>
<line x1="1741.0" x2="1752.5" y1="1294.6" y2="1294.6" stroke="#000" stroke-width="2.7"/>
<text x="1762.6" y="1305.5" font-size="31.5">−0.2</text>
<line x1="1741.0" x2="1752.5" y1="1375.0" y2="1375.0" stroke="#000" stroke-width="2.7"/>
<text x="1762.6" y="1385.9" font-size="31.5">−0.3</text>
<line x1="1741.0" x2="1752.5" y1="1455.3" y2="1455.3" stroke="#000" stroke-width="2.7"/>
<text x="1762.6" y="1466.2" font-size="31.5">−0.4</text>
<text transform="translate(1864.4 1134.0) rotate(-90)" font-size="37.7" text-anchor="middle">Baseflow difference (mm)</text>
</svg></body></html>
